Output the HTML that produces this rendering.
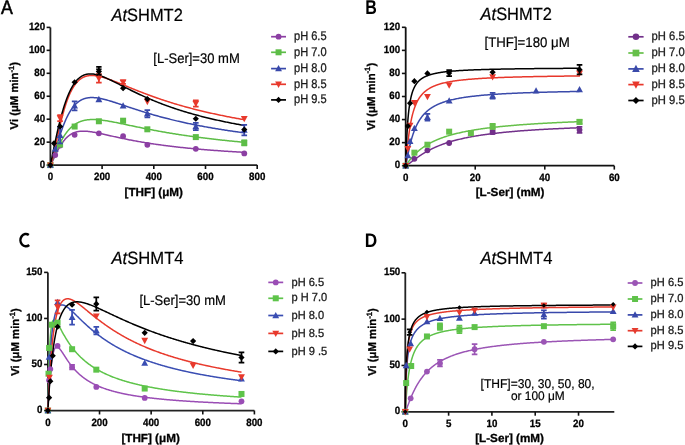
<!DOCTYPE html>
<html><head><meta charset="utf-8"><style>
html,body{margin:0;padding:0;background:#fff;overflow:hidden;}
svg{display:block;will-change:transform;}
</style></head><body>
<svg width="685" height="445" viewBox="0 0 685 445" font-family='"Liberation Sans", sans-serif' fill="#000" text-rendering="geometricPrecision">
<rect width="685" height="445" fill="#fff"/>
<text transform="translate(0.9,13.7) scale(0.91,1)" font-size="19.5" stroke="#000" stroke-width="0.55">A</text>
<text transform="translate(111.50,20.50) scale(0.925,1)" font-size="17.8" stroke="#000" stroke-width="0.2"><tspan font-style="italic">At</tspan>SHMT2</text>
<text transform="translate(153.30,62.90) scale(0.93,1)" text-anchor="start" font-size="14" stroke="#000" stroke-width="0.2">[L-Ser]=30 mM</text>
<path d="M50.40,27.40 L50.40,165.10 L257.20,165.10" fill="none" stroke="#222" stroke-width="1.8"/>
<line x1="46.60" y1="165.10" x2="50.40" y2="165.10" stroke="#111" stroke-width="1.6"/>
<text transform="translate(45.20,167.70) scale(0.92,1)" text-anchor="end" font-weight="bold" font-size="10.6" stroke="#000" stroke-width="0.3">0</text>
<line x1="46.60" y1="142.15" x2="50.40" y2="142.15" stroke="#111" stroke-width="1.6"/>
<text transform="translate(45.20,144.75) scale(0.92,1)" text-anchor="end" font-weight="bold" font-size="10.6" stroke="#000" stroke-width="0.3">20</text>
<line x1="46.60" y1="119.20" x2="50.40" y2="119.20" stroke="#111" stroke-width="1.6"/>
<text transform="translate(45.20,121.80) scale(0.92,1)" text-anchor="end" font-weight="bold" font-size="10.6" stroke="#000" stroke-width="0.3">40</text>
<line x1="46.60" y1="96.25" x2="50.40" y2="96.25" stroke="#111" stroke-width="1.6"/>
<text transform="translate(45.20,98.85) scale(0.92,1)" text-anchor="end" font-weight="bold" font-size="10.6" stroke="#000" stroke-width="0.3">60</text>
<line x1="46.60" y1="73.30" x2="50.40" y2="73.30" stroke="#111" stroke-width="1.6"/>
<text transform="translate(45.20,75.90) scale(0.92,1)" text-anchor="end" font-weight="bold" font-size="10.6" stroke="#000" stroke-width="0.3">80</text>
<line x1="46.60" y1="50.35" x2="50.40" y2="50.35" stroke="#111" stroke-width="1.6"/>
<text transform="translate(45.20,52.95) scale(0.92,1)" text-anchor="end" font-weight="bold" font-size="10.6" stroke="#000" stroke-width="0.3">100</text>
<line x1="46.60" y1="27.40" x2="50.40" y2="27.40" stroke="#111" stroke-width="1.6"/>
<text transform="translate(45.20,30.00) scale(0.92,1)" text-anchor="end" font-weight="bold" font-size="10.6" stroke="#000" stroke-width="0.3">120</text>
<text transform="translate(50.40,180.20) scale(0.92,1)" text-anchor="middle" font-weight="bold" font-size="10.6" stroke="#000" stroke-width="0.3">0</text>
<line x1="102.10" y1="165.10" x2="102.10" y2="169.00" stroke="#111" stroke-width="1.6"/>
<text transform="translate(102.10,180.20) scale(0.92,1)" text-anchor="middle" font-weight="bold" font-size="10.6" stroke="#000" stroke-width="0.3">200</text>
<line x1="153.80" y1="165.10" x2="153.80" y2="169.00" stroke="#111" stroke-width="1.6"/>
<text transform="translate(153.80,180.20) scale(0.92,1)" text-anchor="middle" font-weight="bold" font-size="10.6" stroke="#000" stroke-width="0.3">400</text>
<line x1="205.50" y1="165.10" x2="205.50" y2="169.00" stroke="#111" stroke-width="1.6"/>
<text transform="translate(205.50,180.20) scale(0.92,1)" text-anchor="middle" font-weight="bold" font-size="10.6" stroke="#000" stroke-width="0.3">600</text>
<line x1="257.20" y1="165.10" x2="257.20" y2="169.00" stroke="#111" stroke-width="1.6"/>
<text transform="translate(257.20,180.20) scale(0.92,1)" text-anchor="middle" font-weight="bold" font-size="10.6" stroke="#000" stroke-width="0.3">800</text>
<path d="M50.40,165.10 L50.50,164.99 L50.60,164.85 L50.70,164.70 L50.80,164.54 L50.90,164.38 L51.00,164.21 L51.10,164.03 L51.20,163.85 L51.29,163.67 L51.39,163.48 L51.49,163.30 L51.59,163.10 L51.69,162.91 L51.79,162.72 L51.89,162.52 L51.99,162.32 L52.09,162.12 L52.19,161.92 L52.29,161.72 L52.39,161.52 L52.49,161.31 L52.59,161.11 L52.69,160.90 L52.79,160.70 L52.89,160.49 L52.98,160.28 L53.08,160.07 L53.18,159.87 L53.28,159.66 L53.38,159.45 L53.48,159.24 L53.58,159.03 L53.68,158.82 L53.78,158.61 L53.88,158.40 L53.98,158.19 L54.08,157.98 L54.18,157.77 L54.28,157.56 L54.51,157.07 L54.75,156.58 L54.98,156.09 L55.21,155.60 L55.45,155.11 L55.68,154.63 L55.92,154.15 L56.15,153.67 L56.39,153.20 L56.62,152.73 L56.85,152.27 L57.09,151.80 L57.32,151.35 L57.56,150.90 L57.79,150.45 L58.02,150.00 L58.26,149.57 L58.49,149.13 L58.73,148.71 L58.96,148.28 L59.20,147.87 L59.43,147.46 L59.66,147.05 L59.90,146.65 L60.13,146.26 L60.37,145.87 L60.60,145.48 L60.84,145.11 L61.07,144.74 L61.30,144.37 L61.54,144.01 L61.77,143.66 L62.01,143.31 L62.24,142.97 L62.47,142.64 L62.71,142.31 L62.94,141.98 L63.18,141.67 L63.41,141.35 L63.65,141.05 L63.88,140.75 L64.11,140.45 L64.35,140.17 L64.58,139.88 L64.82,139.61 L65.05,139.34 L65.29,139.07 L65.52,138.81 L65.75,138.56 L65.99,138.31 L66.22,138.07 L66.46,137.83 L66.69,137.60 L66.92,137.37 L67.16,137.15 L67.39,136.93 L67.63,136.72 L67.86,136.52 L68.10,136.32 L68.33,136.12 L68.56,135.93 L68.80,135.74 L69.03,135.56 L69.27,135.39 L69.50,135.21 L69.74,135.05 L69.97,134.88 L70.20,134.72 L70.44,134.57 L70.67,134.42 L70.91,134.28 L71.14,134.13 L71.37,134.00 L71.61,133.86 L71.84,133.74 L72.08,133.61 L72.31,133.49 L72.55,133.37 L72.78,133.26 L73.01,133.15 L73.25,133.04 L73.48,132.94 L73.72,132.84 L73.95,132.75 L74.19,132.65 L74.42,132.57 L74.65,132.48 L74.89,132.40 L75.12,132.32 L75.36,132.24 L75.59,132.17 L75.82,132.10 L76.06,132.03 L76.29,131.97 L76.53,131.91 L76.76,131.85 L77.00,131.79 L77.23,131.74 L77.46,131.69 L77.70,131.64 L77.93,131.59 L78.17,131.55 L78.40,131.51 L78.64,131.47 L78.87,131.43 L79.10,131.40 L79.34,131.37 L79.57,131.34 L79.81,131.31 L80.04,131.29 L80.27,131.26 L80.51,131.24 L80.74,131.22 L80.98,131.20 L81.21,131.19 L81.45,131.18 L81.68,131.16 L81.91,131.15 L82.15,131.14 L82.38,131.14 L82.62,131.13 L82.85,131.13 L83.09,131.13 L83.32,131.13 L83.55,131.13 L83.79,131.13 L84.02,131.13 L84.26,131.14 L84.49,131.15 L84.72,131.15 L84.96,131.16 L85.19,131.17 L85.43,131.19 L85.66,131.20 L85.90,131.21 L86.13,131.23 L86.36,131.25 L86.60,131.26 L86.83,131.28 L87.07,131.30 L87.30,131.32 L87.54,131.34 L87.77,131.37 L88.00,131.39 L88.24,131.42 L88.47,131.44 L88.71,131.47 L88.94,131.49 L89.17,131.52 L90.22,131.66 L91.26,131.81 L92.30,131.97 L93.34,132.14 L94.38,132.33 L95.42,132.52 L96.46,132.72 L97.50,132.93 L98.54,133.14 L99.58,133.36 L100.63,133.58 L101.67,133.81 L102.71,134.03 L103.75,134.27 L104.79,134.50 L105.83,134.73 L106.87,134.97 L107.91,135.20 L108.95,135.44 L109.99,135.67 L111.03,135.91 L112.08,136.14 L113.12,136.38 L114.16,136.61 L115.20,136.84 L116.24,137.07 L117.28,137.30 L118.32,137.52 L119.36,137.75 L120.40,137.97 L121.44,138.19 L122.49,138.41 L123.53,138.63 L124.57,138.84 L125.61,139.06 L126.65,139.27 L127.69,139.48 L128.73,139.68 L129.77,139.89 L130.81,140.09 L131.85,140.29 L132.89,140.49 L133.94,140.68 L134.98,140.87 L136.02,141.06 L137.06,141.25 L138.10,141.44 L139.14,141.62 L140.18,141.80 L141.22,141.98 L142.26,142.16 L143.30,142.33 L144.34,142.51 L145.39,142.68 L146.43,142.85 L147.47,143.01 L148.51,143.18 L149.55,143.34 L150.59,143.50 L151.63,143.66 L152.67,143.81 L153.71,143.97 L154.75,144.12 L155.80,144.27 L156.84,144.42 L157.88,144.57 L158.92,144.71 L159.96,144.85 L161.00,145.00 L162.04,145.13 L163.08,145.27 L164.12,145.41 L165.16,145.54 L166.20,145.68 L167.25,145.81 L168.29,145.94 L169.33,146.07 L170.37,146.19 L171.41,146.32 L172.45,146.44 L173.49,146.56 L174.53,146.68 L175.57,146.80 L176.61,146.92 L177.65,147.04 L178.70,147.15 L179.74,147.27 L180.78,147.38 L181.82,147.49 L182.86,147.60 L183.90,147.71 L184.94,147.81 L185.98,147.92 L187.02,148.03 L188.06,148.13 L189.11,148.23 L190.15,148.33 L191.19,148.43 L192.23,148.53 L193.27,148.63 L194.31,148.73 L195.35,148.82 L196.39,148.92 L197.43,149.01 L198.47,149.10 L199.51,149.20 L200.56,149.29 L201.60,149.38 L202.64,149.46 L203.68,149.55 L204.72,149.64 L205.76,149.72 L206.80,149.81 L207.84,149.89 L208.88,149.98 L209.92,150.06 L210.96,150.14 L212.01,150.22 L213.05,150.30 L214.09,150.38 L215.13,150.46 L216.17,150.54 L217.21,150.61 L218.25,150.69 L219.29,150.76 L220.33,150.84 L221.37,150.91 L222.42,150.99 L223.46,151.06 L224.50,151.13 L225.54,151.20 L226.58,151.27 L227.62,151.34 L228.66,151.41 L229.70,151.48 L230.74,151.54 L231.78,151.61 L232.82,151.68 L233.87,151.74 L234.91,151.81 L235.95,151.87 L236.99,151.93 L238.03,152.00 L239.07,152.06 L240.11,152.12 L241.15,152.18 L242.19,152.24 L243.23,152.30 L244.28,152.36" fill="none" stroke="#8C3FA3" stroke-width="1.5" stroke-linejoin="round"/>
<path d="M50.40,165.10 L50.50,164.94 L50.60,164.76 L50.70,164.56 L50.80,164.35 L50.90,164.14 L51.00,163.92 L51.10,163.70 L51.20,163.48 L51.29,163.25 L51.39,163.02 L51.49,162.79 L51.59,162.55 L51.69,162.32 L51.79,162.08 L51.89,161.84 L51.99,161.60 L52.09,161.36 L52.19,161.12 L52.29,160.88 L52.39,160.64 L52.49,160.40 L52.59,160.15 L52.69,159.91 L52.79,159.66 L52.89,159.42 L52.98,159.18 L53.08,158.93 L53.18,158.69 L53.28,158.44 L53.38,158.20 L53.48,157.95 L53.58,157.71 L53.68,157.46 L53.78,157.22 L53.88,156.98 L53.98,156.73 L54.08,156.49 L54.18,156.25 L54.28,156.00 L54.51,155.43 L54.75,154.87 L54.98,154.30 L55.21,153.74 L55.45,153.18 L55.68,152.63 L55.92,152.08 L56.15,151.53 L56.39,150.99 L56.62,150.45 L56.85,149.92 L57.09,149.39 L57.32,148.86 L57.56,148.34 L57.79,147.83 L58.02,147.32 L58.26,146.82 L58.49,146.32 L58.73,145.82 L58.96,145.33 L59.20,144.85 L59.43,144.37 L59.66,143.90 L59.90,143.43 L60.13,142.97 L60.37,142.52 L60.60,142.07 L60.84,141.62 L61.07,141.18 L61.30,140.75 L61.54,140.32 L61.77,139.90 L62.01,139.49 L62.24,139.07 L62.47,138.67 L62.71,138.27 L62.94,137.88 L63.18,137.49 L63.41,137.10 L63.65,136.73 L63.88,136.36 L64.11,135.99 L64.35,135.63 L64.58,135.27 L64.82,134.92 L65.05,134.58 L65.29,134.24 L65.52,133.90 L65.75,133.58 L65.99,133.25 L66.22,132.93 L66.46,132.62 L66.69,132.31 L66.92,132.01 L67.16,131.71 L67.39,131.42 L67.63,131.13 L67.86,130.84 L68.10,130.57 L68.33,130.29 L68.56,130.02 L68.80,129.76 L69.03,129.50 L69.27,129.24 L69.50,128.99 L69.74,128.75 L69.97,128.51 L70.20,128.27 L70.44,128.04 L70.67,127.81 L70.91,127.58 L71.14,127.36 L71.37,127.15 L71.61,126.94 L71.84,126.73 L72.08,126.52 L72.31,126.33 L72.55,126.13 L72.78,125.94 L73.01,125.75 L73.25,125.57 L73.48,125.39 L73.72,125.21 L73.95,125.04 L74.19,124.87 L74.42,124.70 L74.65,124.54 L74.89,124.38 L75.12,124.22 L75.36,124.07 L75.59,123.92 L75.82,123.78 L76.06,123.64 L76.29,123.50 L76.53,123.36 L76.76,123.23 L77.00,123.10 L77.23,122.97 L77.46,122.85 L77.70,122.73 L77.93,122.61 L78.17,122.50 L78.40,122.38 L78.64,122.27 L78.87,122.17 L79.10,122.06 L79.34,121.96 L79.57,121.86 L79.81,121.77 L80.04,121.67 L80.27,121.58 L80.51,121.50 L80.74,121.41 L80.98,121.33 L81.21,121.24 L81.45,121.17 L81.68,121.09 L81.91,121.01 L82.15,120.94 L82.38,120.87 L82.62,120.80 L82.85,120.74 L83.09,120.68 L83.32,120.61 L83.55,120.55 L83.79,120.50 L84.02,120.44 L84.26,120.39 L84.49,120.34 L84.72,120.29 L84.96,120.24 L85.19,120.19 L85.43,120.15 L85.66,120.11 L85.90,120.06 L86.13,120.03 L86.36,119.99 L86.60,119.95 L86.83,119.92 L87.07,119.88 L87.30,119.85 L87.54,119.82 L87.77,119.80 L88.00,119.77 L88.24,119.74 L88.47,119.72 L88.71,119.70 L88.94,119.68 L89.17,119.66 L90.22,119.59 L91.26,119.54 L92.30,119.52 L93.34,119.52 L94.38,119.54 L95.42,119.58 L96.46,119.63 L97.50,119.70 L98.54,119.79 L99.58,119.88 L100.63,119.99 L101.67,120.12 L102.71,120.25 L103.75,120.39 L104.79,120.54 L105.83,120.70 L106.87,120.86 L107.91,121.03 L108.95,121.21 L109.99,121.39 L111.03,121.58 L112.08,121.78 L113.12,121.97 L114.16,122.17 L115.20,122.38 L116.24,122.58 L117.28,122.79 L118.32,123.00 L119.36,123.22 L120.40,123.43 L121.44,123.65 L122.49,123.86 L123.53,124.08 L124.57,124.30 L125.61,124.52 L126.65,124.74 L127.69,124.96 L128.73,125.18 L129.77,125.40 L130.81,125.62 L131.85,125.84 L132.89,126.05 L133.94,126.27 L134.98,126.49 L136.02,126.71 L137.06,126.92 L138.10,127.14 L139.14,127.35 L140.18,127.56 L141.22,127.78 L142.26,127.99 L143.30,128.20 L144.34,128.40 L145.39,128.61 L146.43,128.82 L147.47,129.02 L148.51,129.23 L149.55,129.43 L150.59,129.63 L151.63,129.83 L152.67,130.02 L153.71,130.22 L154.75,130.42 L155.80,130.61 L156.84,130.80 L157.88,130.99 L158.92,131.18 L159.96,131.37 L161.00,131.55 L162.04,131.74 L163.08,131.92 L164.12,132.10 L165.16,132.28 L166.20,132.46 L167.25,132.64 L168.29,132.81 L169.33,132.99 L170.37,133.16 L171.41,133.33 L172.45,133.50 L173.49,133.67 L174.53,133.84 L175.57,134.00 L176.61,134.17 L177.65,134.33 L178.70,134.49 L179.74,134.65 L180.78,134.81 L181.82,134.96 L182.86,135.12 L183.90,135.27 L184.94,135.43 L185.98,135.58 L187.02,135.73 L188.06,135.88 L189.11,136.03 L190.15,136.17 L191.19,136.32 L192.23,136.46 L193.27,136.60 L194.31,136.75 L195.35,136.89 L196.39,137.02 L197.43,137.16 L198.47,137.30 L199.51,137.43 L200.56,137.57 L201.60,137.70 L202.64,137.83 L203.68,137.96 L204.72,138.09 L205.76,138.22 L206.80,138.35 L207.84,138.48 L208.88,138.60 L209.92,138.73 L210.96,138.85 L212.01,138.97 L213.05,139.09 L214.09,139.21 L215.13,139.33 L216.17,139.45 L217.21,139.57 L218.25,139.68 L219.29,139.80 L220.33,139.91 L221.37,140.03 L222.42,140.14 L223.46,140.25 L224.50,140.36 L225.54,140.47 L226.58,140.58 L227.62,140.69 L228.66,140.79 L229.70,140.90 L230.74,141.01 L231.78,141.11 L232.82,141.21 L233.87,141.32 L234.91,141.42 L235.95,141.52 L236.99,141.62 L238.03,141.72 L239.07,141.82 L240.11,141.91 L241.15,142.01 L242.19,142.11 L243.23,142.20 L244.28,142.30" fill="none" stroke="#5DBD47" stroke-width="1.5" stroke-linejoin="round"/>
<path d="M50.40,165.10 L50.50,164.98 L50.60,164.81 L50.70,164.62 L50.80,164.42 L50.90,164.20 L51.00,163.97 L51.10,163.73 L51.20,163.48 L51.29,163.23 L51.39,162.97 L51.49,162.70 L51.59,162.43 L51.69,162.15 L51.79,161.87 L51.89,161.58 L51.99,161.29 L52.09,161.00 L52.19,160.70 L52.29,160.40 L52.39,160.09 L52.49,159.79 L52.59,159.48 L52.69,159.17 L52.79,158.85 L52.89,158.54 L52.98,158.22 L53.08,157.90 L53.18,157.58 L53.28,157.26 L53.38,156.93 L53.48,156.61 L53.58,156.28 L53.68,155.95 L53.78,155.62 L53.88,155.29 L53.98,154.96 L54.08,154.63 L54.18,154.29 L54.28,153.96 L54.51,153.17 L54.75,152.38 L54.98,151.59 L55.21,150.79 L55.45,150.00 L55.68,149.20 L55.92,148.41 L56.15,147.61 L56.39,146.82 L56.62,146.03 L56.85,145.25 L57.09,144.46 L57.32,143.68 L57.56,142.91 L57.79,142.14 L58.02,141.37 L58.26,140.61 L58.49,139.85 L58.73,139.10 L58.96,138.35 L59.20,137.61 L59.43,136.88 L59.66,136.15 L59.90,135.43 L60.13,134.71 L60.37,134.01 L60.60,133.30 L60.84,132.61 L61.07,131.92 L61.30,131.24 L61.54,130.57 L61.77,129.91 L62.01,129.25 L62.24,128.60 L62.47,127.96 L62.71,127.32 L62.94,126.70 L63.18,126.08 L63.41,125.47 L63.65,124.87 L63.88,124.27 L64.11,123.69 L64.35,123.11 L64.58,122.54 L64.82,121.98 L65.05,121.43 L65.29,120.88 L65.52,120.34 L65.75,119.81 L65.99,119.29 L66.22,118.78 L66.46,118.27 L66.69,117.77 L66.92,117.28 L67.16,116.80 L67.39,116.33 L67.63,115.86 L67.86,115.40 L68.10,114.95 L68.33,114.51 L68.56,114.07 L68.80,113.65 L69.03,113.23 L69.27,112.81 L69.50,112.41 L69.74,112.01 L69.97,111.62 L70.20,111.23 L70.44,110.86 L70.67,110.49 L70.91,110.12 L71.14,109.77 L71.37,109.42 L71.61,109.08 L71.84,108.74 L72.08,108.41 L72.31,108.09 L72.55,107.78 L72.78,107.47 L73.01,107.16 L73.25,106.87 L73.48,106.58 L73.72,106.29 L73.95,106.01 L74.19,105.74 L74.42,105.48 L74.65,105.21 L74.89,104.96 L75.12,104.71 L75.36,104.47 L75.59,104.23 L75.82,104.00 L76.06,103.77 L76.29,103.55 L76.53,103.33 L76.76,103.12 L77.00,102.92 L77.23,102.71 L77.46,102.52 L77.70,102.33 L77.93,102.14 L78.17,101.96 L78.40,101.78 L78.64,101.61 L78.87,101.44 L79.10,101.28 L79.34,101.12 L79.57,100.97 L79.81,100.82 L80.04,100.67 L80.27,100.53 L80.51,100.39 L80.74,100.26 L80.98,100.13 L81.21,100.00 L81.45,99.88 L81.68,99.77 L81.91,99.65 L82.15,99.54 L82.38,99.43 L82.62,99.33 L82.85,99.23 L83.09,99.14 L83.32,99.04 L83.55,98.95 L83.79,98.87 L84.02,98.78 L84.26,98.70 L84.49,98.63 L84.72,98.55 L84.96,98.48 L85.19,98.42 L85.43,98.35 L85.66,98.29 L85.90,98.23 L86.13,98.17 L86.36,98.12 L86.60,98.07 L86.83,98.02 L87.07,97.98 L87.30,97.93 L87.54,97.89 L87.77,97.86 L88.00,97.82 L88.24,97.79 L88.47,97.76 L88.71,97.73 L88.94,97.70 L89.17,97.68 L90.22,97.60 L91.26,97.56 L92.30,97.55 L93.34,97.58 L94.38,97.65 L95.42,97.74 L96.46,97.85 L97.50,97.99 L98.54,98.16 L99.58,98.34 L100.63,98.54 L101.67,98.76 L102.71,98.99 L103.75,99.24 L104.79,99.50 L105.83,99.77 L106.87,100.06 L107.91,100.35 L108.95,100.65 L109.99,100.96 L111.03,101.27 L112.08,101.59 L113.12,101.92 L114.16,102.25 L115.20,102.58 L116.24,102.92 L117.28,103.26 L118.32,103.61 L119.36,103.95 L120.40,104.30 L121.44,104.65 L122.49,104.99 L123.53,105.34 L124.57,105.69 L125.61,106.04 L126.65,106.39 L127.69,106.74 L128.73,107.09 L129.77,107.44 L130.81,107.78 L131.85,108.13 L132.89,108.47 L133.94,108.81 L134.98,109.15 L136.02,109.49 L137.06,109.83 L138.10,110.16 L139.14,110.50 L140.18,110.83 L141.22,111.16 L142.26,111.48 L143.30,111.81 L144.34,112.13 L145.39,112.45 L146.43,112.76 L147.47,113.08 L148.51,113.39 L149.55,113.70 L150.59,114.01 L151.63,114.31 L152.67,114.61 L153.71,114.91 L154.75,115.21 L155.80,115.50 L156.84,115.80 L157.88,116.08 L158.92,116.37 L159.96,116.66 L161.00,116.94 L162.04,117.22 L163.08,117.49 L164.12,117.77 L165.16,118.04 L166.20,118.31 L167.25,118.57 L168.29,118.84 L169.33,119.10 L170.37,119.36 L171.41,119.62 L172.45,119.87 L173.49,120.12 L174.53,120.37 L175.57,120.62 L176.61,120.86 L177.65,121.11 L178.70,121.35 L179.74,121.59 L180.78,121.82 L181.82,122.06 L182.86,122.29 L183.90,122.52 L184.94,122.74 L185.98,122.97 L187.02,123.19 L188.06,123.41 L189.11,123.63 L190.15,123.85 L191.19,124.06 L192.23,124.28 L193.27,124.49 L194.31,124.70 L195.35,124.90 L196.39,125.11 L197.43,125.31 L198.47,125.51 L199.51,125.71 L200.56,125.91 L201.60,126.11 L202.64,126.30 L203.68,126.49 L204.72,126.69 L205.76,126.87 L206.80,127.06 L207.84,127.25 L208.88,127.43 L209.92,127.61 L210.96,127.79 L212.01,127.97 L213.05,128.15 L214.09,128.33 L215.13,128.50 L216.17,128.67 L217.21,128.85 L218.25,129.02 L219.29,129.18 L220.33,129.35 L221.37,129.52 L222.42,129.68 L223.46,129.84 L224.50,130.00 L225.54,130.16 L226.58,130.32 L227.62,130.48 L228.66,130.64 L229.70,130.79 L230.74,130.94 L231.78,131.10 L232.82,131.25 L233.87,131.40 L234.91,131.54 L235.95,131.69 L236.99,131.84 L238.03,131.98 L239.07,132.12 L240.11,132.27 L241.15,132.41 L242.19,132.55 L243.23,132.69 L244.28,132.82" fill="none" stroke="#3848AA" stroke-width="1.5" stroke-linejoin="round"/>
<path d="M50.40,165.10 L50.50,165.01 L50.60,164.86 L50.70,164.68 L50.80,164.48 L50.90,164.25 L51.00,164.01 L51.10,163.75 L51.20,163.48 L51.29,163.20 L51.39,162.90 L51.49,162.60 L51.59,162.28 L51.69,161.96 L51.79,161.62 L51.89,161.28 L51.99,160.93 L52.09,160.58 L52.19,160.21 L52.29,159.84 L52.39,159.47 L52.49,159.09 L52.59,158.70 L52.69,158.31 L52.79,157.91 L52.89,157.51 L52.98,157.11 L53.08,156.70 L53.18,156.29 L53.28,155.87 L53.38,155.45 L53.48,155.03 L53.58,154.60 L53.68,154.17 L53.78,153.74 L53.88,153.30 L53.98,152.87 L54.08,152.43 L54.18,151.98 L54.28,151.54 L54.51,150.49 L54.75,149.43 L54.98,148.36 L55.21,147.28 L55.45,146.20 L55.68,145.12 L55.92,144.03 L56.15,142.95 L56.39,141.86 L56.62,140.77 L56.85,139.69 L57.09,138.61 L57.32,137.53 L57.56,136.46 L57.79,135.39 L58.02,134.32 L58.26,133.26 L58.49,132.21 L58.73,131.17 L58.96,130.13 L59.20,129.10 L59.43,128.08 L59.66,127.07 L59.90,126.06 L60.13,125.07 L60.37,124.08 L60.60,123.11 L60.84,122.15 L61.07,121.19 L61.30,120.25 L61.54,119.32 L61.77,118.40 L62.01,117.49 L62.24,116.59 L62.47,115.70 L62.71,114.83 L62.94,113.97 L63.18,113.11 L63.41,112.27 L63.65,111.45 L63.88,110.63 L64.11,109.83 L64.35,109.03 L64.58,108.25 L64.82,107.49 L65.05,106.73 L65.29,105.99 L65.52,105.25 L65.75,104.53 L65.99,103.83 L66.22,103.13 L66.46,102.44 L66.69,101.77 L66.92,101.11 L67.16,100.46 L67.39,99.82 L67.63,99.19 L67.86,98.58 L68.10,97.97 L68.33,97.38 L68.56,96.79 L68.80,96.22 L69.03,95.66 L69.27,95.11 L69.50,94.57 L69.74,94.04 L69.97,93.52 L70.20,93.01 L70.44,92.51 L70.67,92.02 L70.91,91.55 L71.14,91.08 L71.37,90.62 L71.61,90.17 L71.84,89.73 L72.08,89.30 L72.31,88.87 L72.55,88.46 L72.78,88.06 L73.01,87.66 L73.25,87.27 L73.48,86.90 L73.72,86.53 L73.95,86.17 L74.19,85.81 L74.42,85.47 L74.65,85.13 L74.89,84.80 L75.12,84.48 L75.36,84.17 L75.59,83.86 L75.82,83.56 L76.06,83.27 L76.29,82.99 L76.53,82.71 L76.76,82.44 L77.00,82.18 L77.23,81.92 L77.46,81.67 L77.70,81.43 L77.93,81.19 L78.17,80.96 L78.40,80.73 L78.64,80.52 L78.87,80.30 L79.10,80.10 L79.34,79.90 L79.57,79.70 L79.81,79.51 L80.04,79.33 L80.27,79.15 L80.51,78.98 L80.74,78.81 L80.98,78.65 L81.21,78.49 L81.45,78.34 L81.68,78.19 L81.91,78.05 L82.15,77.91 L82.38,77.78 L82.62,77.65 L82.85,77.52 L83.09,77.40 L83.32,77.29 L83.55,77.18 L83.79,77.07 L84.02,76.97 L84.26,76.87 L84.49,76.77 L84.72,76.68 L84.96,76.60 L85.19,76.51 L85.43,76.43 L85.66,76.36 L85.90,76.29 L86.13,76.22 L86.36,76.15 L86.60,76.09 L86.83,76.03 L87.07,75.98 L87.30,75.92 L87.54,75.87 L87.77,75.83 L88.00,75.79 L88.24,75.75 L88.47,75.71 L88.71,75.67 L88.94,75.64 L89.17,75.61 L90.22,75.52 L91.26,75.47 L92.30,75.47 L93.34,75.51 L94.38,75.59 L95.42,75.71 L96.46,75.85 L97.50,76.03 L98.54,76.23 L99.58,76.45 L100.63,76.70 L101.67,76.97 L102.71,77.26 L103.75,77.56 L104.79,77.88 L105.83,78.22 L106.87,78.56 L107.91,78.92 L108.95,79.29 L109.99,79.66 L111.03,80.05 L112.08,80.44 L113.12,80.84 L114.16,81.24 L115.20,81.65 L116.24,82.06 L117.28,82.48 L118.32,82.90 L119.36,83.32 L120.40,83.74 L121.44,84.17 L122.49,84.59 L123.53,85.02 L124.57,85.45 L125.61,85.88 L126.65,86.30 L127.69,86.73 L128.73,87.16 L129.77,87.58 L130.81,88.01 L131.85,88.43 L132.89,88.85 L133.94,89.27 L134.98,89.69 L136.02,90.11 L137.06,90.52 L138.10,90.94 L139.14,91.35 L140.18,91.76 L141.22,92.16 L142.26,92.56 L143.30,92.96 L144.34,93.36 L145.39,93.76 L146.43,94.15 L147.47,94.54 L148.51,94.93 L149.55,95.31 L150.59,95.69 L151.63,96.07 L152.67,96.45 L153.71,96.82 L154.75,97.19 L155.80,97.56 L156.84,97.92 L157.88,98.28 L158.92,98.64 L159.96,98.99 L161.00,99.35 L162.04,99.70 L163.08,100.04 L164.12,100.39 L165.16,100.73 L166.20,101.07 L167.25,101.40 L168.29,101.73 L169.33,102.06 L170.37,102.39 L171.41,102.71 L172.45,103.03 L173.49,103.35 L174.53,103.67 L175.57,103.98 L176.61,104.29 L177.65,104.60 L178.70,104.90 L179.74,105.20 L180.78,105.50 L181.82,105.80 L182.86,106.10 L183.90,106.39 L184.94,106.68 L185.98,106.96 L187.02,107.25 L188.06,107.53 L189.11,107.81 L190.15,108.09 L191.19,108.36 L192.23,108.63 L193.27,108.90 L194.31,109.17 L195.35,109.44 L196.39,109.70 L197.43,109.96 L198.47,110.22 L199.51,110.47 L200.56,110.73 L201.60,110.98 L202.64,111.23 L203.68,111.48 L204.72,111.72 L205.76,111.97 L206.80,112.21 L207.84,112.45 L208.88,112.69 L209.92,112.92 L210.96,113.16 L212.01,113.39 L213.05,113.62 L214.09,113.85 L215.13,114.07 L216.17,114.30 L217.21,114.52 L218.25,114.74 L219.29,114.96 L220.33,115.17 L221.37,115.39 L222.42,115.60 L223.46,115.81 L224.50,116.02 L225.54,116.23 L226.58,116.44 L227.62,116.64 L228.66,116.85 L229.70,117.05 L230.74,117.25 L231.78,117.45 L232.82,117.65 L233.87,117.84 L234.91,118.04 L235.95,118.23 L236.99,118.42 L238.03,118.61 L239.07,118.80 L240.11,118.98 L241.15,119.17 L242.19,119.35 L243.23,119.53 L244.28,119.72" fill="none" stroke="#E8392C" stroke-width="1.5" stroke-linejoin="round"/>
<path d="M50.40,165.10 L50.50,164.65 L50.60,164.18 L50.70,163.70 L50.80,163.22 L50.90,162.73 L51.00,162.24 L51.10,161.75 L51.20,161.26 L51.29,160.76 L51.39,160.27 L51.49,159.77 L51.59,159.28 L51.69,158.78 L51.79,158.28 L51.89,157.79 L51.99,157.29 L52.09,156.80 L52.19,156.30 L52.29,155.80 L52.39,155.31 L52.49,154.82 L52.59,154.32 L52.69,153.83 L52.79,153.33 L52.89,152.84 L52.98,152.35 L53.08,151.86 L53.18,151.37 L53.28,150.88 L53.38,150.39 L53.48,149.90 L53.58,149.41 L53.68,148.93 L53.78,148.44 L53.88,147.96 L53.98,147.48 L54.08,146.99 L54.18,146.51 L54.28,146.03 L54.51,144.91 L54.75,143.79 L54.98,142.67 L55.21,141.57 L55.45,140.47 L55.68,139.38 L55.92,138.29 L56.15,137.22 L56.39,136.15 L56.62,135.09 L56.85,134.04 L57.09,133.00 L57.32,131.96 L57.56,130.94 L57.79,129.93 L58.02,128.92 L58.26,127.92 L58.49,126.94 L58.73,125.96 L58.96,124.99 L59.20,124.03 L59.43,123.09 L59.66,122.15 L59.90,121.22 L60.13,120.30 L60.37,119.40 L60.60,118.50 L60.84,117.61 L61.07,116.74 L61.30,115.87 L61.54,115.01 L61.77,114.17 L62.01,113.33 L62.24,112.51 L62.47,111.69 L62.71,110.89 L62.94,110.10 L63.18,109.31 L63.41,108.54 L63.65,107.78 L63.88,107.03 L64.11,106.29 L64.35,105.56 L64.58,104.84 L64.82,104.13 L65.05,103.43 L65.29,102.74 L65.52,102.06 L65.75,101.39 L65.99,100.73 L66.22,100.08 L66.46,99.45 L66.69,98.82 L66.92,98.20 L67.16,97.59 L67.39,96.99 L67.63,96.41 L67.86,95.83 L68.10,95.26 L68.33,94.70 L68.56,94.15 L68.80,93.61 L69.03,93.08 L69.27,92.56 L69.50,92.04 L69.74,91.54 L69.97,91.05 L70.20,90.56 L70.44,90.09 L70.67,89.62 L70.91,89.16 L71.14,88.71 L71.37,88.27 L71.61,87.84 L71.84,87.42 L72.08,87.01 L72.31,86.60 L72.55,86.20 L72.78,85.81 L73.01,85.43 L73.25,85.06 L73.48,84.69 L73.72,84.33 L73.95,83.98 L74.19,83.64 L74.42,83.30 L74.65,82.98 L74.89,82.66 L75.12,82.34 L75.36,82.04 L75.59,81.74 L75.82,81.45 L76.06,81.16 L76.29,80.89 L76.53,80.62 L76.76,80.35 L77.00,80.09 L77.23,79.84 L77.46,79.60 L77.70,79.36 L77.93,79.13 L78.17,78.90 L78.40,78.69 L78.64,78.47 L78.87,78.27 L79.10,78.06 L79.34,77.87 L79.57,77.68 L79.81,77.49 L80.04,77.32 L80.27,77.14 L80.51,76.98 L80.74,76.81 L80.98,76.66 L81.21,76.50 L81.45,76.36 L81.68,76.22 L81.91,76.08 L82.15,75.95 L82.38,75.82 L82.62,75.70 L82.85,75.58 L83.09,75.47 L83.32,75.36 L83.55,75.26 L83.79,75.16 L84.02,75.06 L84.26,74.97 L84.49,74.88 L84.72,74.80 L84.96,74.72 L85.19,74.65 L85.43,74.58 L85.66,74.51 L85.90,74.45 L86.13,74.39 L86.36,74.33 L86.60,74.28 L86.83,74.23 L87.07,74.19 L87.30,74.14 L87.54,74.11 L87.77,74.07 L88.00,74.04 L88.24,74.01 L88.47,73.99 L88.71,73.96 L88.94,73.95 L89.17,73.93 L90.22,73.89 L91.26,73.91 L92.30,73.98 L93.34,74.09 L94.38,74.25 L95.42,74.45 L96.46,74.68 L97.50,74.94 L98.54,75.23 L99.58,75.55 L100.63,75.90 L101.67,76.27 L102.71,76.66 L103.75,77.07 L104.79,77.49 L105.83,77.93 L106.87,78.38 L107.91,78.85 L108.95,79.32 L109.99,79.81 L111.03,80.30 L112.08,80.80 L113.12,81.31 L114.16,81.82 L115.20,82.34 L116.24,82.86 L117.28,83.38 L118.32,83.91 L119.36,84.43 L120.40,84.96 L121.44,85.49 L122.49,86.02 L123.53,86.55 L124.57,87.08 L125.61,87.60 L126.65,88.13 L127.69,88.65 L128.73,89.17 L129.77,89.69 L130.81,90.21 L131.85,90.72 L132.89,91.23 L133.94,91.74 L134.98,92.24 L136.02,92.74 L137.06,93.24 L138.10,93.73 L139.14,94.22 L140.18,94.71 L141.22,95.19 L142.26,95.67 L143.30,96.14 L144.34,96.61 L145.39,97.08 L146.43,97.54 L147.47,98.00 L148.51,98.45 L149.55,98.90 L150.59,99.34 L151.63,99.78 L152.67,100.22 L153.71,100.65 L154.75,101.08 L155.80,101.50 L156.84,101.92 L157.88,102.34 L158.92,102.75 L159.96,103.16 L161.00,103.56 L162.04,103.96 L163.08,104.35 L164.12,104.74 L165.16,105.13 L166.20,105.51 L167.25,105.89 L168.29,106.26 L169.33,106.63 L170.37,107.00 L171.41,107.36 L172.45,107.72 L173.49,108.08 L174.53,108.43 L175.57,108.78 L176.61,109.12 L177.65,109.46 L178.70,109.80 L179.74,110.13 L180.78,110.46 L181.82,110.79 L182.86,111.11 L183.90,111.43 L184.94,111.75 L185.98,112.06 L187.02,112.37 L188.06,112.68 L189.11,112.99 L190.15,113.29 L191.19,113.58 L192.23,113.88 L193.27,114.17 L194.31,114.46 L195.35,114.75 L196.39,115.03 L197.43,115.31 L198.47,115.59 L199.51,115.86 L200.56,116.13 L201.60,116.40 L202.64,116.67 L203.68,116.93 L204.72,117.19 L205.76,117.45 L206.80,117.71 L207.84,117.96 L208.88,118.21 L209.92,118.46 L210.96,118.71 L212.01,118.95 L213.05,119.19 L214.09,119.43 L215.13,119.67 L216.17,119.90 L217.21,120.14 L218.25,120.37 L219.29,120.59 L220.33,120.82 L221.37,121.04 L222.42,121.27 L223.46,121.48 L224.50,121.70 L225.54,121.92 L226.58,122.13 L227.62,122.34 L228.66,122.55 L229.70,122.76 L230.74,122.97 L231.78,123.17 L232.82,123.37 L233.87,123.57 L234.91,123.77 L235.95,123.97 L236.99,124.16 L238.03,124.35 L239.07,124.55 L240.11,124.74 L241.15,124.92 L242.19,125.11 L243.23,125.29 L244.28,125.48" fill="none" stroke="#000000" stroke-width="1.5" stroke-linejoin="round"/>
<circle cx="50.40" cy="165.10" r="2.90" fill="#8C3FA3"/>
<circle cx="55.25" cy="155.12" r="2.90" fill="#8C3FA3"/>
<circle cx="60.09" cy="145.48" r="2.90" fill="#8C3FA3"/>
<circle cx="74.63" cy="134.81" r="2.90" fill="#8C3FA3"/>
<circle cx="98.87" cy="133.31" r="2.90" fill="#8C3FA3"/>
<circle cx="123.10" cy="136.18" r="2.90" fill="#8C3FA3"/>
<circle cx="147.34" cy="144.79" r="2.90" fill="#8C3FA3"/>
<circle cx="195.81" cy="148.81" r="2.90" fill="#8C3FA3"/>
<circle cx="244.28" cy="153.40" r="2.90" fill="#8C3FA3"/>
<rect x="47.40" y="162.10" width="6.00" height="6.00" fill="#5DBD47"/>
<rect x="57.09" y="141.56" width="6.00" height="6.00" fill="#5DBD47"/>
<rect x="71.63" y="123.54" width="6.00" height="6.00" fill="#5DBD47"/>
<rect x="95.87" y="118.27" width="6.00" height="6.00" fill="#5DBD47"/>
<rect x="120.10" y="117.69" width="6.00" height="6.00" fill="#5DBD47"/>
<rect x="144.34" y="126.30" width="6.00" height="6.00" fill="#5DBD47"/>
<rect x="192.81" y="134.10" width="6.00" height="6.00" fill="#5DBD47"/>
<path d="M244.28,140.31 L244.28,145.36 M241.47,140.31 L247.08,140.31 M241.47,145.36 L247.08,145.36" stroke="#5DBD47" stroke-width="1.75" fill="none"/>
<rect x="241.28" y="139.84" width="6.00" height="6.00" fill="#5DBD47"/>
<path d="M50.40,161.50 L53.82,167.80 L46.98,167.80Z" fill="#3848AA"/>
<path d="M55.25,145.44 L58.67,151.73 L51.83,151.73Z" fill="#3848AA"/>
<path d="M60.09,127.23 L60.09,143.30 M57.29,127.23 L62.89,127.23 M57.29,143.30 L62.89,143.30" stroke="#3848AA" stroke-width="1.75" fill="none"/>
<path d="M60.09,131.66 L63.51,137.96 L56.67,137.96Z" fill="#3848AA"/>
<path d="M74.63,101.30 L74.63,110.48 M71.83,101.30 L77.43,101.30 M71.83,110.48 L77.43,110.48" stroke="#3848AA" stroke-width="1.75" fill="none"/>
<path d="M74.63,102.29 L78.05,108.59 L71.21,108.59Z" fill="#3848AA"/>
<path d="M98.87,95.86 L102.29,102.16 L95.45,102.16Z" fill="#3848AA"/>
<path d="M123.10,102.29 L126.52,108.59 L119.68,108.59Z" fill="#3848AA"/>
<path d="M147.34,110.02 L147.34,117.36 M144.54,110.02 L150.14,110.02 M144.54,117.36 L150.14,117.36" stroke="#3848AA" stroke-width="1.75" fill="none"/>
<path d="M147.34,110.09 L150.76,116.39 L143.92,116.39Z" fill="#3848AA"/>
<path d="M195.81,122.87 L195.81,130.22 M193.01,122.87 L198.61,122.87 M193.01,130.22 L198.61,130.22" stroke="#3848AA" stroke-width="1.75" fill="none"/>
<path d="M195.81,122.94 L199.23,129.24 L192.39,129.24Z" fill="#3848AA"/>
<path d="M244.28,124.82 L244.28,135.38 M241.47,124.82 L247.08,124.82 M241.47,135.38 L247.08,135.38" stroke="#3848AA" stroke-width="1.75" fill="none"/>
<path d="M244.28,126.50 L247.69,132.80 L240.86,132.80Z" fill="#3848AA"/>
<path d="M50.40,168.70 L53.82,162.40 L46.98,162.40Z" fill="#E8392C"/>
<path d="M60.09,115.07 L60.09,121.04 M57.29,115.07 L62.89,115.07 M57.29,121.04 L62.89,121.04" stroke="#E8392C" stroke-width="1.75" fill="none"/>
<path d="M60.09,121.65 L63.51,115.35 L56.67,115.35Z" fill="#E8392C"/>
<path d="M98.87,74.22 L98.87,82.71 M96.07,74.22 L101.67,74.22 M96.07,82.71 L101.67,82.71" stroke="#E8392C" stroke-width="1.75" fill="none"/>
<path d="M98.87,82.06 L102.29,75.76 L95.45,75.76Z" fill="#E8392C"/>
<path d="M123.10,80.41 L123.10,83.86 M120.30,80.41 L125.90,80.41 M120.30,83.86 L125.90,83.86" stroke="#E8392C" stroke-width="1.75" fill="none"/>
<path d="M123.10,85.74 L126.52,79.44 L119.68,79.44Z" fill="#E8392C"/>
<path d="M147.34,105.13 L150.76,98.83 L143.92,98.83Z" fill="#E8392C"/>
<path d="M195.81,100.27 L195.81,106.69 M193.01,100.27 L198.61,100.27 M193.01,106.69 L198.61,106.69" stroke="#E8392C" stroke-width="1.75" fill="none"/>
<path d="M195.81,107.08 L199.23,100.78 L192.39,100.78Z" fill="#E8392C"/>
<path d="M244.28,122.34 L247.69,116.04 L240.86,116.04Z" fill="#E8392C"/>
<path d="M50.40,162.00 L53.50,165.10 L50.40,168.20 L47.30,165.10Z" fill="#000000"/>
<path d="M54.02,140.20 L57.12,143.30 L54.02,146.40 L50.92,143.30Z" fill="#000000"/>
<path d="M60.09,123.33 L63.19,126.43 L60.09,129.53 L56.99,126.43Z" fill="#000000"/>
<path d="M74.63,79.15 L77.73,82.25 L74.63,85.35 L71.53,82.25Z" fill="#000000"/>
<path d="M123.10,85.12 L126.20,88.22 L123.10,91.32 L120.00,88.22Z" fill="#000000"/>
<path d="M147.34,96.02 L150.44,99.12 L147.34,102.22 L144.24,99.12Z" fill="#000000"/>
<path d="M195.81,115.64 L198.91,118.74 L195.81,121.84 L192.71,118.74Z" fill="#000000"/>
<path d="M244.28,126.43 L247.38,129.53 L244.28,132.63 L241.18,129.53Z" fill="#000000"/>
<path d="M98.87,66.80 L98.87,74.60 M96.17,66.80 L101.57,66.80 M96.17,74.60 L101.57,74.60" stroke="#000" stroke-width="1.75" fill="none"/>
<path d="M96.17,69.3 L101.57,69.3" stroke="#000" stroke-width="1.8"/>
<path d="M98.87,68.50 L101.97,71.60 L98.87,74.70 L95.77,71.60Z" fill="#000"/>
<text transform="translate(18.30,95.70) rotate(-90)" text-anchor="middle" font-weight="bold" font-size="11.3" stroke="#000" stroke-width="0.3">Vi (&#956;M min<tspan dy="-4.3" font-size="7.68">-1</tspan><tspan dy="4.3">)</tspan></text>
<text x="153.80" y="196.10" text-anchor="middle" font-weight="bold" font-size="11.7" stroke="#000" stroke-width="0.3">[THF] (&#956;M)</text>
<line x1="271.10" y1="36.70" x2="286.00" y2="36.70" stroke="#8C3FA3" stroke-width="1.7"/>
<circle cx="278.55" cy="36.70" r="2.90" fill="#8C3FA3"/>
<text transform="translate(294.00,40.20) scale(0.885,1)" font-size="12.5" fill="#1a1a1a" stroke="#1a1a1a" stroke-width="0.3">pH 6.5</text>
<line x1="271.10" y1="52.30" x2="286.00" y2="52.30" stroke="#5DBD47" stroke-width="1.7"/>
<rect x="275.55" y="49.30" width="6.00" height="6.00" fill="#5DBD47"/>
<text transform="translate(294.00,55.80) scale(0.885,1)" font-size="12.5" fill="#1a1a1a" stroke="#1a1a1a" stroke-width="0.3">pH 7.0</text>
<line x1="271.10" y1="68.60" x2="286.00" y2="68.60" stroke="#3848AA" stroke-width="1.7"/>
<path d="M278.55,65.00 L281.97,71.30 L275.13,71.30Z" fill="#3848AA"/>
<text transform="translate(294.00,72.10) scale(0.885,1)" font-size="12.5" fill="#1a1a1a" stroke="#1a1a1a" stroke-width="0.3">pH 8.0</text>
<line x1="271.10" y1="84.30" x2="286.00" y2="84.30" stroke="#E8392C" stroke-width="1.7"/>
<path d="M278.55,87.90 L281.97,81.60 L275.13,81.60Z" fill="#E8392C"/>
<text transform="translate(294.00,87.80) scale(0.885,1)" font-size="12.5" fill="#1a1a1a" stroke="#1a1a1a" stroke-width="0.3">pH 8.5</text>
<line x1="271.10" y1="99.90" x2="286.00" y2="99.90" stroke="#000000" stroke-width="1.7"/>
<path d="M278.55,96.80 L281.65,99.90 L278.55,103.00 L275.45,99.90Z" fill="#000000"/>
<text transform="translate(294.00,103.40) scale(0.885,1)" font-size="12.5" fill="#1a1a1a" stroke="#1a1a1a" stroke-width="0.3">pH 9.5</text>
<text transform="translate(365.3,14.0) scale(0.8,1)" font-size="20" font-weight="bold">B</text>
<text transform="translate(480.60,19.90) scale(0.925,1)" font-size="17.8" stroke="#000" stroke-width="0.2"><tspan font-style="italic">At</tspan>SHMT2</text>
<text transform="translate(484.50,46.70) scale(0.945,1)" text-anchor="start" font-size="14" stroke="#000" stroke-width="0.2">[THF]=180 &#956;M</text>
<path d="M405.70,27.30 L405.70,165.70 L614.30,165.70" fill="none" stroke="#111" stroke-width="1.8"/>
<line x1="401.90" y1="165.70" x2="405.70" y2="165.70" stroke="#111" stroke-width="1.6"/>
<text transform="translate(400.10,168.30) scale(0.92,1)" text-anchor="end" font-weight="bold" font-size="10.6" stroke="#000" stroke-width="0.3">0</text>
<line x1="401.90" y1="142.63" x2="405.70" y2="142.63" stroke="#111" stroke-width="1.6"/>
<text transform="translate(400.10,145.23) scale(0.92,1)" text-anchor="end" font-weight="bold" font-size="10.6" stroke="#000" stroke-width="0.3">20</text>
<line x1="401.90" y1="119.57" x2="405.70" y2="119.57" stroke="#111" stroke-width="1.6"/>
<text transform="translate(400.10,122.17) scale(0.92,1)" text-anchor="end" font-weight="bold" font-size="10.6" stroke="#000" stroke-width="0.3">40</text>
<line x1="401.90" y1="96.50" x2="405.70" y2="96.50" stroke="#111" stroke-width="1.6"/>
<text transform="translate(400.10,99.10) scale(0.92,1)" text-anchor="end" font-weight="bold" font-size="10.6" stroke="#000" stroke-width="0.3">60</text>
<line x1="401.90" y1="73.43" x2="405.70" y2="73.43" stroke="#111" stroke-width="1.6"/>
<text transform="translate(400.10,76.03) scale(0.92,1)" text-anchor="end" font-weight="bold" font-size="10.6" stroke="#000" stroke-width="0.3">80</text>
<line x1="401.90" y1="50.37" x2="405.70" y2="50.37" stroke="#111" stroke-width="1.6"/>
<text transform="translate(400.10,52.97) scale(0.92,1)" text-anchor="end" font-weight="bold" font-size="10.6" stroke="#000" stroke-width="0.3">100</text>
<line x1="401.90" y1="27.30" x2="405.70" y2="27.30" stroke="#111" stroke-width="1.6"/>
<text transform="translate(400.10,29.90) scale(0.92,1)" text-anchor="end" font-weight="bold" font-size="10.6" stroke="#000" stroke-width="0.3">120</text>
<text transform="translate(405.70,180.80) scale(0.92,1)" text-anchor="middle" font-weight="bold" font-size="10.6" stroke="#000" stroke-width="0.3">0</text>
<line x1="475.23" y1="165.70" x2="475.23" y2="169.60" stroke="#111" stroke-width="1.6"/>
<text transform="translate(475.23,180.80) scale(0.92,1)" text-anchor="middle" font-weight="bold" font-size="10.6" stroke="#000" stroke-width="0.3">20</text>
<line x1="544.77" y1="165.70" x2="544.77" y2="169.60" stroke="#111" stroke-width="1.6"/>
<text transform="translate(544.77,180.80) scale(0.92,1)" text-anchor="middle" font-weight="bold" font-size="10.6" stroke="#000" stroke-width="0.3">40</text>
<line x1="614.30" y1="165.70" x2="614.30" y2="169.60" stroke="#111" stroke-width="1.6"/>
<text transform="translate(614.30,180.80) scale(0.92,1)" text-anchor="middle" font-weight="bold" font-size="10.6" stroke="#000" stroke-width="0.3">60</text>
<path d="M405.70,165.70 L405.79,165.67 L405.88,165.64 L405.97,165.60 L406.06,165.56 L406.15,165.52 L406.23,165.47 L406.32,165.42 L406.41,165.37 L406.50,165.32 L406.59,165.27 L406.68,165.22 L406.77,165.17 L406.86,165.11 L406.95,165.06 L407.04,165.00 L407.13,164.94 L407.22,164.89 L407.30,164.83 L407.39,164.77 L407.48,164.71 L407.57,164.65 L407.66,164.59 L407.75,164.53 L407.84,164.47 L407.93,164.41 L408.02,164.35 L408.11,164.28 L408.20,164.22 L408.29,164.16 L408.37,164.09 L408.46,164.03 L408.55,163.97 L408.64,163.90 L408.73,163.84 L408.82,163.77 L408.91,163.71 L409.00,163.65 L409.09,163.58 L409.18,163.51 L409.39,163.36 L409.60,163.21 L409.81,163.05 L410.02,162.89 L410.23,162.73 L410.44,162.58 L410.65,162.42 L410.86,162.26 L411.07,162.10 L411.28,161.94 L411.49,161.78 L411.70,161.63 L411.91,161.47 L412.12,161.31 L412.33,161.15 L412.54,160.99 L412.75,160.83 L412.96,160.67 L413.17,160.52 L413.38,160.36 L413.59,160.20 L413.80,160.04 L414.01,159.89 L414.22,159.73 L414.43,159.57 L414.64,159.42 L414.85,159.26 L415.06,159.11 L415.27,158.95 L415.48,158.80 L415.69,158.65 L415.90,158.49 L416.11,158.34 L416.32,158.19 L416.53,158.04 L416.74,157.89 L416.95,157.74 L417.16,157.59 L417.37,157.44 L417.58,157.29 L417.79,157.15 L418.00,157.00 L418.21,156.86 L418.42,156.71 L418.63,156.57 L418.84,156.42 L419.05,156.28 L419.26,156.14 L419.47,155.99 L419.68,155.85 L419.89,155.71 L420.10,155.57 L420.31,155.43 L420.52,155.29 L420.73,155.16 L420.94,155.02 L421.15,154.88 L421.36,154.75 L421.57,154.61 L421.78,154.48 L421.99,154.34 L422.20,154.21 L422.41,154.08 L422.62,153.95 L422.83,153.82 L423.04,153.69 L423.25,153.56 L423.46,153.43 L423.67,153.30 L423.88,153.17 L424.09,153.05 L424.30,152.92 L424.51,152.79 L424.72,152.67 L424.93,152.55 L425.14,152.42 L425.35,152.30 L425.56,152.18 L425.77,152.06 L425.98,151.94 L426.19,151.82 L426.40,151.70 L426.61,151.58 L426.82,151.46 L427.03,151.34 L427.24,151.23 L427.45,151.11 L427.66,151.00 L427.87,150.88 L428.08,150.77 L428.29,150.66 L428.50,150.54 L428.71,150.43 L428.92,150.32 L429.13,150.21 L429.34,150.10 L429.55,149.99 L429.76,149.88 L429.97,149.77 L430.18,149.67 L430.39,149.56 L430.60,149.45 L430.81,149.35 L431.02,149.24 L431.23,149.14 L431.44,149.03 L431.65,148.93 L431.86,148.83 L432.07,148.73 L432.28,148.62 L432.49,148.52 L432.70,148.42 L432.91,148.32 L433.12,148.22 L433.33,148.12 L433.54,148.03 L433.75,147.93 L433.96,147.83 L434.17,147.74 L434.38,147.64 L434.59,147.55 L434.80,147.45 L435.01,147.36 L435.22,147.26 L435.43,147.17 L435.64,147.08 L435.85,146.98 L436.06,146.89 L436.27,146.80 L436.48,146.71 L436.69,146.62 L436.90,146.53 L437.11,146.44 L437.32,146.35 L437.53,146.27 L437.74,146.18 L437.95,146.09 L438.16,146.01 L438.37,145.92 L438.58,145.83 L438.79,145.75 L439.00,145.66 L439.21,145.58 L439.42,145.50 L439.63,145.41 L439.84,145.33 L440.05,145.25 L440.26,145.17 L440.47,145.09 L441.40,144.73 L442.33,144.38 L443.27,144.04 L444.20,143.71 L445.13,143.39 L446.07,143.08 L447.00,142.77 L447.93,142.47 L448.87,142.18 L449.80,141.89 L450.73,141.61 L451.67,141.34 L452.60,141.07 L453.53,140.81 L454.47,140.55 L455.40,140.30 L456.33,140.06 L457.27,139.82 L458.20,139.59 L459.13,139.36 L460.07,139.14 L461.00,138.92 L461.93,138.70 L462.87,138.49 L463.80,138.29 L464.73,138.09 L465.67,137.89 L466.60,137.70 L467.53,137.51 L468.47,137.33 L469.40,137.14 L470.33,136.97 L471.27,136.79 L472.20,136.62 L473.13,136.45 L474.07,136.29 L475.00,136.13 L475.93,135.97 L476.87,135.82 L477.80,135.67 L478.73,135.52 L479.67,135.37 L480.60,135.23 L481.53,135.08 L482.47,134.95 L483.40,134.81 L484.33,134.68 L485.27,134.55 L486.20,134.42 L487.13,134.29 L488.07,134.17 L489.00,134.04 L489.93,133.92 L490.87,133.80 L491.80,133.69 L492.73,133.57 L493.67,133.46 L494.60,133.35 L495.53,133.24 L496.47,133.14 L497.40,133.03 L498.33,132.93 L499.27,132.83 L500.20,132.73 L501.13,132.63 L502.07,132.53 L503.00,132.43 L503.93,132.34 L504.87,132.25 L505.80,132.16 L506.73,132.07 L507.67,131.98 L508.60,131.89 L509.53,131.81 L510.47,131.72 L511.40,131.64 L512.33,131.56 L513.27,131.48 L514.20,131.40 L515.13,131.32 L516.07,131.24 L517.00,131.16 L517.93,131.09 L518.87,131.01 L519.80,130.94 L520.73,130.87 L521.67,130.80 L522.60,130.73 L523.53,130.66 L524.47,130.59 L525.40,130.52 L526.33,130.46 L527.27,130.39 L528.20,130.33 L529.13,130.26 L530.07,130.20 L531.00,130.14 L531.93,130.08 L532.87,130.02 L533.80,129.96 L534.73,129.90 L535.67,129.84 L536.60,129.78 L537.53,129.73 L538.47,129.67 L539.40,129.62 L540.33,129.56 L541.27,129.51 L542.20,129.45 L543.13,129.40 L544.07,129.35 L545.00,129.30 L545.93,129.25 L546.87,129.20 L547.80,129.15 L548.73,129.10 L549.67,129.05 L550.60,129.00 L551.53,128.96 L552.47,128.91 L553.40,128.86 L554.33,128.82 L555.27,128.77 L556.20,128.73 L557.13,128.68 L558.07,128.64 L559.00,128.60 L559.93,128.56 L560.87,128.51 L561.80,128.47 L562.73,128.43 L563.67,128.39 L564.60,128.35 L565.53,128.31 L566.47,128.27 L567.40,128.23 L568.33,128.19 L569.27,128.15 L570.20,128.12 L571.13,128.08 L572.07,128.04 L573.00,128.01 L573.93,127.97 L574.87,127.93 L575.80,127.90 L576.73,127.86 L577.67,127.83 L578.60,127.80 L579.53,127.76" fill="none" stroke="#72308A" stroke-width="1.5" stroke-linejoin="round"/>
<path d="M405.70,165.70 L405.79,165.57 L405.88,165.44 L405.97,165.31 L406.06,165.18 L406.15,165.05 L406.23,164.92 L406.32,164.79 L406.41,164.65 L406.50,164.52 L406.59,164.39 L406.68,164.26 L406.77,164.13 L406.86,164.00 L406.95,163.87 L407.04,163.74 L407.13,163.61 L407.22,163.48 L407.30,163.35 L407.39,163.23 L407.48,163.10 L407.57,162.97 L407.66,162.84 L407.75,162.72 L407.84,162.59 L407.93,162.47 L408.02,162.34 L408.11,162.22 L408.20,162.10 L408.29,161.98 L408.37,161.85 L408.46,161.73 L408.55,161.61 L408.64,161.49 L408.73,161.37 L408.82,161.25 L408.91,161.13 L409.00,161.01 L409.09,160.89 L409.18,160.78 L409.39,160.50 L409.60,160.23 L409.81,159.96 L410.02,159.69 L410.23,159.43 L410.44,159.17 L410.65,158.91 L410.86,158.65 L411.07,158.40 L411.28,158.15 L411.49,157.90 L411.70,157.65 L411.91,157.41 L412.12,157.17 L412.33,156.93 L412.54,156.70 L412.75,156.46 L412.96,156.23 L413.17,156.00 L413.38,155.78 L413.59,155.55 L413.80,155.33 L414.01,155.11 L414.22,154.89 L414.43,154.68 L414.64,154.46 L414.85,154.25 L415.06,154.04 L415.27,153.84 L415.48,153.63 L415.69,153.43 L415.90,153.23 L416.11,153.03 L416.32,152.83 L416.53,152.64 L416.74,152.44 L416.95,152.25 L417.16,152.06 L417.37,151.87 L417.58,151.69 L417.79,151.50 L418.00,151.32 L418.21,151.14 L418.42,150.96 L418.63,150.78 L418.84,150.61 L419.05,150.43 L419.26,150.26 L419.47,150.09 L419.68,149.92 L419.89,149.75 L420.10,149.58 L420.31,149.42 L420.52,149.25 L420.73,149.09 L420.94,148.93 L421.15,148.77 L421.36,148.61 L421.57,148.46 L421.78,148.30 L421.99,148.15 L422.20,147.99 L422.41,147.84 L422.62,147.69 L422.83,147.54 L423.04,147.40 L423.25,147.25 L423.46,147.10 L423.67,146.96 L423.88,146.82 L424.09,146.68 L424.30,146.54 L424.51,146.40 L424.72,146.26 L424.93,146.12 L425.14,145.99 L425.35,145.85 L425.56,145.72 L425.77,145.59 L425.98,145.45 L426.19,145.32 L426.40,145.19 L426.61,145.07 L426.82,144.94 L427.03,144.81 L427.24,144.69 L427.45,144.56 L427.66,144.44 L427.87,144.32 L428.08,144.20 L428.29,144.08 L428.50,143.96 L428.71,143.84 L428.92,143.72 L429.13,143.60 L429.34,143.49 L429.55,143.37 L429.76,143.26 L429.97,143.15 L430.18,143.03 L430.39,142.92 L430.60,142.81 L430.81,142.70 L431.02,142.59 L431.23,142.48 L431.44,142.38 L431.65,142.27 L431.86,142.16 L432.07,142.06 L432.28,141.96 L432.49,141.85 L432.70,141.75 L432.91,141.65 L433.12,141.55 L433.33,141.45 L433.54,141.35 L433.75,141.25 L433.96,141.15 L434.17,141.05 L434.38,140.95 L434.59,140.86 L434.80,140.76 L435.01,140.67 L435.22,140.57 L435.43,140.48 L435.64,140.38 L435.85,140.29 L436.06,140.20 L436.27,140.11 L436.48,140.02 L436.69,139.93 L436.90,139.84 L437.11,139.75 L437.32,139.66 L437.53,139.57 L437.74,139.49 L437.95,139.40 L438.16,139.31 L438.37,139.23 L438.58,139.14 L438.79,139.06 L439.00,138.98 L439.21,138.89 L439.42,138.81 L439.63,138.73 L439.84,138.65 L440.05,138.57 L440.26,138.49 L440.47,138.41 L441.40,138.06 L442.33,137.72 L443.27,137.39 L444.20,137.07 L445.13,136.75 L446.07,136.45 L447.00,136.15 L447.93,135.86 L448.87,135.58 L449.80,135.31 L450.73,135.04 L451.67,134.78 L452.60,134.52 L453.53,134.28 L454.47,134.03 L455.40,133.80 L456.33,133.56 L457.27,133.34 L458.20,133.12 L459.13,132.90 L460.07,132.69 L461.00,132.48 L461.93,132.28 L462.87,132.08 L463.80,131.89 L464.73,131.70 L465.67,131.51 L466.60,131.33 L467.53,131.15 L468.47,130.98 L469.40,130.81 L470.33,130.64 L471.27,130.47 L472.20,130.31 L473.13,130.15 L474.07,130.00 L475.00,129.85 L475.93,129.70 L476.87,129.55 L477.80,129.41 L478.73,129.27 L479.67,129.13 L480.60,128.99 L481.53,128.86 L482.47,128.72 L483.40,128.60 L484.33,128.47 L485.27,128.34 L486.20,128.22 L487.13,128.10 L488.07,127.98 L489.00,127.87 L489.93,127.75 L490.87,127.64 L491.80,127.53 L492.73,127.42 L493.67,127.31 L494.60,127.20 L495.53,127.10 L496.47,127.00 L497.40,126.90 L498.33,126.80 L499.27,126.70 L500.20,126.60 L501.13,126.51 L502.07,126.41 L503.00,126.32 L503.93,126.23 L504.87,126.14 L505.80,126.05 L506.73,125.97 L507.67,125.88 L508.60,125.80 L509.53,125.71 L510.47,125.63 L511.40,125.55 L512.33,125.47 L513.27,125.39 L514.20,125.32 L515.13,125.24 L516.07,125.16 L517.00,125.09 L517.93,125.02 L518.87,124.94 L519.80,124.87 L520.73,124.80 L521.67,124.73 L522.60,124.66 L523.53,124.59 L524.47,124.53 L525.40,124.46 L526.33,124.39 L527.27,124.33 L528.20,124.27 L529.13,124.20 L530.07,124.14 L531.00,124.08 L531.93,124.02 L532.87,123.96 L533.80,123.90 L534.73,123.84 L535.67,123.78 L536.60,123.73 L537.53,123.67 L538.47,123.61 L539.40,123.56 L540.33,123.50 L541.27,123.45 L542.20,123.40 L543.13,123.34 L544.07,123.29 L545.00,123.24 L545.93,123.19 L546.87,123.14 L547.80,123.09 L548.73,123.04 L549.67,122.99 L550.60,122.94 L551.53,122.89 L552.47,122.85 L553.40,122.80 L554.33,122.75 L555.27,122.71 L556.20,122.66 L557.13,122.62 L558.07,122.57 L559.00,122.53 L559.93,122.48 L560.87,122.44 L561.80,122.40 L562.73,122.36 L563.67,122.32 L564.60,122.27 L565.53,122.23 L566.47,122.19 L567.40,122.15 L568.33,122.11 L569.27,122.07 L570.20,122.03 L571.13,122.00 L572.07,121.96 L573.00,121.92 L573.93,121.88 L574.87,121.85 L575.80,121.81 L576.73,121.77 L577.67,121.74 L578.60,121.70 L579.53,121.66" fill="none" stroke="#66C04A" stroke-width="1.5" stroke-linejoin="round"/>
<path d="M405.70,165.70 L405.79,165.41 L405.88,165.04 L405.97,164.64 L406.06,164.22 L406.15,163.78 L406.23,163.33 L406.32,162.88 L406.41,162.42 L406.50,161.96 L406.59,161.49 L406.68,161.02 L406.77,160.55 L406.86,160.08 L406.95,159.61 L407.04,159.14 L407.13,158.66 L407.22,158.20 L407.30,157.73 L407.39,157.26 L407.48,156.80 L407.57,156.33 L407.66,155.87 L407.75,155.42 L407.84,154.96 L407.93,154.51 L408.02,154.06 L408.11,153.62 L408.20,153.17 L408.29,152.73 L408.37,152.30 L408.46,151.87 L408.55,151.44 L408.64,151.01 L408.73,150.59 L408.82,150.17 L408.91,149.76 L409.00,149.34 L409.09,148.94 L409.18,148.53 L409.39,147.59 L409.60,146.68 L409.81,145.78 L410.02,144.90 L410.23,144.04 L410.44,143.20 L410.65,142.38 L410.86,141.58 L411.07,140.79 L411.28,140.02 L411.49,139.27 L411.70,138.54 L411.91,137.83 L412.12,137.13 L412.33,136.44 L412.54,135.78 L412.75,135.12 L412.96,134.48 L413.17,133.86 L413.38,133.25 L413.59,132.65 L413.80,132.07 L414.01,131.50 L414.22,130.94 L414.43,130.39 L414.64,129.86 L414.85,129.33 L415.06,128.82 L415.27,128.32 L415.48,127.83 L415.69,127.35 L415.90,126.88 L416.11,126.42 L416.32,125.97 L416.53,125.52 L416.74,125.09 L416.95,124.67 L417.16,124.25 L417.37,123.84 L417.58,123.44 L417.79,123.05 L418.00,122.67 L418.21,122.29 L418.42,121.92 L418.63,121.56 L418.84,121.20 L419.05,120.85 L419.26,120.51 L419.47,120.17 L419.68,119.84 L419.89,119.52 L420.10,119.20 L420.31,118.89 L420.52,118.58 L420.73,118.28 L420.94,117.98 L421.15,117.69 L421.36,117.41 L421.57,117.13 L421.78,116.85 L421.99,116.58 L422.20,116.31 L422.41,116.05 L422.62,115.79 L422.83,115.54 L423.04,115.29 L423.25,115.05 L423.46,114.80 L423.67,114.57 L423.88,114.33 L424.09,114.10 L424.30,113.88 L424.51,113.66 L424.72,113.44 L424.93,113.22 L425.14,113.01 L425.35,112.80 L425.56,112.59 L425.77,112.39 L425.98,112.19 L426.19,112.00 L426.40,111.80 L426.61,111.61 L426.82,111.42 L427.03,111.24 L427.24,111.06 L427.45,110.88 L427.66,110.70 L427.87,110.52 L428.08,110.35 L428.29,110.18 L428.50,110.02 L428.71,109.85 L428.92,109.69 L429.13,109.53 L429.34,109.37 L429.55,109.21 L429.76,109.06 L429.97,108.91 L430.18,108.76 L430.39,108.61 L430.60,108.46 L430.81,108.32 L431.02,108.18 L431.23,108.04 L431.44,107.90 L431.65,107.76 L431.86,107.63 L432.07,107.49 L432.28,107.36 L432.49,107.23 L432.70,107.10 L432.91,106.98 L433.12,106.85 L433.33,106.73 L433.54,106.61 L433.75,106.49 L433.96,106.37 L434.17,106.25 L434.38,106.13 L434.59,106.02 L434.80,105.91 L435.01,105.79 L435.22,105.68 L435.43,105.57 L435.64,105.47 L435.85,105.36 L436.06,105.25 L436.27,105.15 L436.48,105.05 L436.69,104.95 L436.90,104.84 L437.11,104.74 L437.32,104.65 L437.53,104.55 L437.74,104.45 L437.95,104.36 L438.16,104.26 L438.37,104.17 L438.58,104.08 L438.79,103.99 L439.00,103.90 L439.21,103.81 L439.42,103.72 L439.63,103.63 L439.84,103.54 L440.05,103.46 L440.26,103.37 L440.47,103.29 L441.40,102.93 L442.33,102.58 L443.27,102.25 L444.20,101.94 L445.13,101.63 L446.07,101.34 L447.00,101.07 L447.93,100.80 L448.87,100.54 L449.80,100.29 L450.73,100.06 L451.67,99.83 L452.60,99.61 L453.53,99.40 L454.47,99.19 L455.40,98.99 L456.33,98.80 L457.27,98.62 L458.20,98.44 L459.13,98.27 L460.07,98.10 L461.00,97.94 L461.93,97.78 L462.87,97.63 L463.80,97.48 L464.73,97.34 L465.67,97.20 L466.60,97.07 L467.53,96.94 L468.47,96.81 L469.40,96.69 L470.33,96.57 L471.27,96.45 L472.20,96.34 L473.13,96.23 L474.07,96.13 L475.00,96.02 L475.93,95.92 L476.87,95.82 L477.80,95.72 L478.73,95.63 L479.67,95.54 L480.60,95.45 L481.53,95.36 L482.47,95.28 L483.40,95.19 L484.33,95.11 L485.27,95.03 L486.20,94.96 L487.13,94.88 L488.07,94.81 L489.00,94.74 L489.93,94.67 L490.87,94.60 L491.80,94.53 L492.73,94.46 L493.67,94.40 L494.60,94.33 L495.53,94.27 L496.47,94.21 L497.40,94.15 L498.33,94.09 L499.27,94.04 L500.20,93.98 L501.13,93.93 L502.07,93.87 L503.00,93.82 L503.93,93.77 L504.87,93.72 L505.80,93.67 L506.73,93.62 L507.67,93.57 L508.60,93.52 L509.53,93.48 L510.47,93.43 L511.40,93.39 L512.33,93.34 L513.27,93.30 L514.20,93.26 L515.13,93.22 L516.07,93.18 L517.00,93.14 L517.93,93.10 L518.87,93.06 L519.80,93.02 L520.73,92.98 L521.67,92.95 L522.60,92.91 L523.53,92.87 L524.47,92.84 L525.40,92.80 L526.33,92.77 L527.27,92.74 L528.20,92.70 L529.13,92.67 L530.07,92.64 L531.00,92.61 L531.93,92.58 L532.87,92.55 L533.80,92.52 L534.73,92.49 L535.67,92.46 L536.60,92.43 L537.53,92.40 L538.47,92.37 L539.40,92.35 L540.33,92.32 L541.27,92.29 L542.20,92.27 L543.13,92.24 L544.07,92.22 L545.00,92.19 L545.93,92.17 L546.87,92.14 L547.80,92.12 L548.73,92.09 L549.67,92.07 L550.60,92.05 L551.53,92.02 L552.47,92.00 L553.40,91.98 L554.33,91.96 L555.27,91.93 L556.20,91.91 L557.13,91.89 L558.07,91.87 L559.00,91.85 L559.93,91.83 L560.87,91.81 L561.80,91.79 L562.73,91.77 L563.67,91.75 L564.60,91.73 L565.53,91.71 L566.47,91.69 L567.40,91.68 L568.33,91.66 L569.27,91.64 L570.20,91.62 L571.13,91.60 L572.07,91.59 L573.00,91.57 L573.93,91.55 L574.87,91.54 L575.80,91.52 L576.73,91.50 L577.67,91.49 L578.60,91.47 L579.53,91.46" fill="none" stroke="#3A4AAA" stroke-width="1.5" stroke-linejoin="round"/>
<path d="M405.70,165.70 L405.79,164.99 L405.88,164.12 L405.97,163.18 L406.06,162.21 L406.15,161.21 L406.23,160.20 L406.32,159.19 L406.41,158.17 L406.50,157.16 L406.59,156.15 L406.68,155.15 L406.77,154.16 L406.86,153.18 L406.95,152.20 L407.04,151.24 L407.13,150.30 L407.22,149.36 L407.30,148.44 L407.39,147.54 L407.48,146.64 L407.57,145.76 L407.66,144.90 L407.75,144.05 L407.84,143.21 L407.93,142.39 L408.02,141.58 L408.11,140.78 L408.20,140.00 L408.29,139.23 L408.37,138.48 L408.46,137.73 L408.55,137.00 L408.64,136.29 L408.73,135.58 L408.82,134.89 L408.91,134.21 L409.00,133.55 L409.09,132.89 L409.18,132.24 L409.39,130.77 L409.60,129.36 L409.81,128.00 L410.02,126.69 L410.23,125.44 L410.44,124.24 L410.65,123.08 L410.86,121.97 L411.07,120.90 L411.28,119.87 L411.49,118.88 L411.70,117.92 L411.91,117.00 L412.12,116.12 L412.33,115.26 L412.54,114.43 L412.75,113.64 L412.96,112.87 L413.17,112.12 L413.38,111.40 L413.59,110.70 L413.80,110.03 L414.01,109.38 L414.22,108.75 L414.43,108.14 L414.64,107.54 L414.85,106.97 L415.06,106.41 L415.27,105.87 L415.48,105.35 L415.69,104.84 L415.90,104.35 L416.11,103.87 L416.32,103.40 L416.53,102.94 L416.74,102.50 L416.95,102.07 L417.16,101.66 L417.37,101.25 L417.58,100.85 L417.79,100.47 L418.00,100.09 L418.21,99.73 L418.42,99.37 L418.63,99.02 L418.84,98.68 L419.05,98.35 L419.26,98.03 L419.47,97.71 L419.68,97.41 L419.89,97.11 L420.10,96.81 L420.31,96.53 L420.52,96.25 L420.73,95.97 L420.94,95.70 L421.15,95.44 L421.36,95.19 L421.57,94.94 L421.78,94.69 L421.99,94.45 L422.20,94.22 L422.41,93.99 L422.62,93.76 L422.83,93.54 L423.04,93.33 L423.25,93.11 L423.46,92.91 L423.67,92.70 L423.88,92.50 L424.09,92.31 L424.30,92.12 L424.51,91.93 L424.72,91.75 L424.93,91.57 L425.14,91.39 L425.35,91.21 L425.56,91.04 L425.77,90.88 L425.98,90.71 L426.19,90.55 L426.40,90.39 L426.61,90.23 L426.82,90.08 L427.03,89.93 L427.24,89.78 L427.45,89.64 L427.66,89.49 L427.87,89.35 L428.08,89.22 L428.29,89.08 L428.50,88.95 L428.71,88.81 L428.92,88.69 L429.13,88.56 L429.34,88.43 L429.55,88.31 L429.76,88.19 L429.97,88.07 L430.18,87.95 L430.39,87.84 L430.60,87.72 L430.81,87.61 L431.02,87.50 L431.23,87.39 L431.44,87.28 L431.65,87.18 L431.86,87.08 L432.07,86.97 L432.28,86.87 L432.49,86.77 L432.70,86.68 L432.91,86.58 L433.12,86.48 L433.33,86.39 L433.54,86.30 L433.75,86.21 L433.96,86.12 L434.17,86.03 L434.38,85.94 L434.59,85.85 L434.80,85.77 L435.01,85.68 L435.22,85.60 L435.43,85.52 L435.64,85.44 L435.85,85.36 L436.06,85.28 L436.27,85.20 L436.48,85.13 L436.69,85.05 L436.90,84.98 L437.11,84.90 L437.32,84.83 L437.53,84.76 L437.74,84.69 L437.95,84.62 L438.16,84.55 L438.37,84.48 L438.58,84.41 L438.79,84.35 L439.00,84.28 L439.21,84.22 L439.42,84.15 L439.63,84.09 L439.84,84.03 L440.05,83.96 L440.26,83.90 L440.47,83.84 L441.40,83.58 L442.33,83.33 L443.27,83.10 L444.20,82.87 L445.13,82.66 L446.07,82.46 L447.00,82.26 L447.93,82.07 L448.87,81.89 L449.80,81.72 L450.73,81.56 L451.67,81.40 L452.60,81.25 L453.53,81.10 L454.47,80.96 L455.40,80.83 L456.33,80.70 L457.27,80.57 L458.20,80.45 L459.13,80.34 L460.07,80.23 L461.00,80.12 L461.93,80.01 L462.87,79.91 L463.80,79.81 L464.73,79.72 L465.67,79.63 L466.60,79.54 L467.53,79.45 L468.47,79.37 L469.40,79.29 L470.33,79.21 L471.27,79.13 L472.20,79.06 L473.13,78.99 L474.07,78.92 L475.00,78.85 L475.93,78.78 L476.87,78.72 L477.80,78.65 L478.73,78.59 L479.67,78.53 L480.60,78.48 L481.53,78.42 L482.47,78.36 L483.40,78.31 L484.33,78.26 L485.27,78.21 L486.20,78.16 L487.13,78.11 L488.07,78.06 L489.00,78.02 L489.93,77.97 L490.87,77.93 L491.80,77.88 L492.73,77.84 L493.67,77.80 L494.60,77.76 L495.53,77.72 L496.47,77.68 L497.40,77.64 L498.33,77.60 L499.27,77.57 L500.20,77.53 L501.13,77.50 L502.07,77.46 L503.00,77.43 L503.93,77.40 L504.87,77.37 L505.80,77.33 L506.73,77.30 L507.67,77.27 L508.60,77.24 L509.53,77.21 L510.47,77.19 L511.40,77.16 L512.33,77.13 L513.27,77.10 L514.20,77.08 L515.13,77.05 L516.07,77.02 L517.00,77.00 L517.93,76.97 L518.87,76.95 L519.80,76.93 L520.73,76.90 L521.67,76.88 L522.60,76.86 L523.53,76.83 L524.47,76.81 L525.40,76.79 L526.33,76.77 L527.27,76.75 L528.20,76.73 L529.13,76.71 L530.07,76.69 L531.00,76.67 L531.93,76.65 L532.87,76.63 L533.80,76.61 L534.73,76.59 L535.67,76.57 L536.60,76.56 L537.53,76.54 L538.47,76.52 L539.40,76.50 L540.33,76.49 L541.27,76.47 L542.20,76.45 L543.13,76.44 L544.07,76.42 L545.00,76.41 L545.93,76.39 L546.87,76.38 L547.80,76.36 L548.73,76.35 L549.67,76.33 L550.60,76.32 L551.53,76.30 L552.47,76.29 L553.40,76.28 L554.33,76.26 L555.27,76.25 L556.20,76.24 L557.13,76.22 L558.07,76.21 L559.00,76.20 L559.93,76.18 L560.87,76.17 L561.80,76.16 L562.73,76.15 L563.67,76.14 L564.60,76.12 L565.53,76.11 L566.47,76.10 L567.40,76.09 L568.33,76.08 L569.27,76.07 L570.20,76.06 L571.13,76.04 L572.07,76.03 L573.00,76.02 L573.93,76.01 L574.87,76.00 L575.80,75.99 L576.73,75.98 L577.67,75.97 L578.60,75.96 L579.53,75.95" fill="none" stroke="#E8372B" stroke-width="1.5" stroke-linejoin="round"/>
<path d="M405.70,165.70 L405.79,163.23 L405.88,160.56 L405.97,157.91 L406.06,155.31 L406.15,152.80 L406.23,150.39 L406.32,148.07 L406.41,145.84 L406.50,143.71 L406.59,141.67 L406.68,139.71 L406.77,137.84 L406.86,136.05 L406.95,134.34 L407.04,132.70 L407.13,131.12 L407.22,129.61 L407.30,128.17 L407.39,126.78 L407.48,125.44 L407.57,124.16 L407.66,122.93 L407.75,121.74 L407.84,120.60 L407.93,119.51 L408.02,118.45 L408.11,117.43 L408.20,116.45 L408.29,115.50 L408.37,114.58 L408.46,113.70 L408.55,112.84 L408.64,112.02 L408.73,111.22 L408.82,110.45 L408.91,109.70 L409.00,108.97 L409.09,108.27 L409.18,107.59 L409.39,106.07 L409.60,104.65 L409.81,103.32 L410.02,102.08 L410.23,100.91 L410.44,99.82 L410.65,98.79 L410.86,97.82 L411.07,96.91 L411.28,96.04 L411.49,95.22 L411.70,94.45 L411.91,93.71 L412.12,93.01 L412.33,92.34 L412.54,91.71 L412.75,91.11 L412.96,90.53 L413.17,89.98 L413.38,89.45 L413.59,88.95 L413.80,88.46 L414.01,88.00 L414.22,87.56 L414.43,87.13 L414.64,86.72 L414.85,86.33 L415.06,85.95 L415.27,85.58 L415.48,85.23 L415.69,84.89 L415.90,84.56 L416.11,84.25 L416.32,83.94 L416.53,83.65 L416.74,83.36 L416.95,83.09 L417.16,82.82 L417.37,82.56 L417.58,82.31 L417.79,82.07 L418.00,81.83 L418.21,81.61 L418.42,81.38 L418.63,81.17 L418.84,80.96 L419.05,80.76 L419.26,80.56 L419.47,80.37 L419.68,80.18 L419.89,80.00 L420.10,79.82 L420.31,79.65 L420.52,79.48 L420.73,79.32 L420.94,79.16 L421.15,79.00 L421.36,78.85 L421.57,78.70 L421.78,78.56 L421.99,78.42 L422.20,78.28 L422.41,78.15 L422.62,78.02 L422.83,77.89 L423.04,77.76 L423.25,77.64 L423.46,77.52 L423.67,77.40 L423.88,77.29 L424.09,77.18 L424.30,77.07 L424.51,76.96 L424.72,76.85 L424.93,76.75 L425.14,76.65 L425.35,76.55 L425.56,76.45 L425.77,76.36 L425.98,76.27 L426.19,76.17 L426.40,76.08 L426.61,76.00 L426.82,75.91 L427.03,75.83 L427.24,75.74 L427.45,75.66 L427.66,75.58 L427.87,75.50 L428.08,75.43 L428.29,75.35 L428.50,75.28 L428.71,75.20 L428.92,75.13 L429.13,75.06 L429.34,74.99 L429.55,74.92 L429.76,74.86 L429.97,74.79 L430.18,74.72 L430.39,74.66 L430.60,74.60 L430.81,74.54 L431.02,74.48 L431.23,74.42 L431.44,74.36 L431.65,74.30 L431.86,74.24 L432.07,74.19 L432.28,74.13 L432.49,74.08 L432.70,74.02 L432.91,73.97 L433.12,73.92 L433.33,73.87 L433.54,73.82 L433.75,73.77 L433.96,73.72 L434.17,73.67 L434.38,73.62 L434.59,73.58 L434.80,73.53 L435.01,73.48 L435.22,73.44 L435.43,73.39 L435.64,73.35 L435.85,73.31 L436.06,73.27 L436.27,73.22 L436.48,73.18 L436.69,73.14 L436.90,73.10 L437.11,73.06 L437.32,73.02 L437.53,72.98 L437.74,72.95 L437.95,72.91 L438.16,72.87 L438.37,72.83 L438.58,72.80 L438.79,72.76 L439.00,72.73 L439.21,72.69 L439.42,72.66 L439.63,72.62 L439.84,72.59 L440.05,72.56 L440.26,72.52 L440.47,72.49 L441.40,72.35 L442.33,72.22 L443.27,72.09 L444.20,71.97 L445.13,71.86 L446.07,71.75 L447.00,71.64 L447.93,71.54 L448.87,71.45 L449.80,71.36 L450.73,71.27 L451.67,71.19 L452.60,71.11 L453.53,71.03 L454.47,70.95 L455.40,70.88 L456.33,70.81 L457.27,70.75 L458.20,70.68 L459.13,70.62 L460.07,70.56 L461.00,70.50 L461.93,70.45 L462.87,70.40 L463.80,70.34 L464.73,70.29 L465.67,70.24 L466.60,70.20 L467.53,70.15 L468.47,70.11 L469.40,70.06 L470.33,70.02 L471.27,69.98 L472.20,69.94 L473.13,69.90 L474.07,69.87 L475.00,69.83 L475.93,69.80 L476.87,69.76 L477.80,69.73 L478.73,69.70 L479.67,69.66 L480.60,69.63 L481.53,69.60 L482.47,69.57 L483.40,69.55 L484.33,69.52 L485.27,69.49 L486.20,69.46 L487.13,69.44 L488.07,69.41 L489.00,69.39 L489.93,69.36 L490.87,69.34 L491.80,69.32 L492.73,69.29 L493.67,69.27 L494.60,69.25 L495.53,69.23 L496.47,69.21 L497.40,69.19 L498.33,69.17 L499.27,69.15 L500.20,69.13 L501.13,69.11 L502.07,69.09 L503.00,69.07 L503.93,69.06 L504.87,69.04 L505.80,69.02 L506.73,69.01 L507.67,68.99 L508.60,68.97 L509.53,68.96 L510.47,68.94 L511.40,68.93 L512.33,68.91 L513.27,68.90 L514.20,68.88 L515.13,68.87 L516.07,68.86 L517.00,68.84 L517.93,68.83 L518.87,68.82 L519.80,68.80 L520.73,68.79 L521.67,68.78 L522.60,68.77 L523.53,68.75 L524.47,68.74 L525.40,68.73 L526.33,68.72 L527.27,68.71 L528.20,68.70 L529.13,68.69 L530.07,68.67 L531.00,68.66 L531.93,68.65 L532.87,68.64 L533.80,68.63 L534.73,68.62 L535.67,68.61 L536.60,68.60 L537.53,68.59 L538.47,68.58 L539.40,68.58 L540.33,68.57 L541.27,68.56 L542.20,68.55 L543.13,68.54 L544.07,68.53 L545.00,68.52 L545.93,68.51 L546.87,68.51 L547.80,68.50 L548.73,68.49 L549.67,68.48 L550.60,68.47 L551.53,68.47 L552.47,68.46 L553.40,68.45 L554.33,68.44 L555.27,68.44 L556.20,68.43 L557.13,68.42 L558.07,68.41 L559.00,68.41 L559.93,68.40 L560.87,68.39 L561.80,68.39 L562.73,68.38 L563.67,68.37 L564.60,68.37 L565.53,68.36 L566.47,68.35 L567.40,68.35 L568.33,68.34 L569.27,68.34 L570.20,68.33 L571.13,68.32 L572.07,68.32 L573.00,68.31 L573.93,68.31 L574.87,68.30 L575.80,68.30 L576.73,68.29 L577.67,68.28 L578.60,68.28 L579.53,68.27" fill="none" stroke="#000000" stroke-width="1.5" stroke-linejoin="round"/>
<circle cx="405.70" cy="165.70" r="2.90" fill="#72308A"/>
<circle cx="414.39" cy="158.78" r="2.90" fill="#72308A"/>
<circle cx="427.43" cy="150.36" r="2.90" fill="#72308A"/>
<circle cx="449.16" cy="142.98" r="2.90" fill="#72308A"/>
<path d="M492.62,130.29 L492.62,133.98 M489.82,130.29 L495.42,130.29 M489.82,133.98 L495.42,133.98" stroke="#72308A" stroke-width="1.75" fill="none"/>
<circle cx="492.62" cy="132.14" r="2.90" fill="#72308A"/>
<path d="M579.53,126.83 L579.53,132.83 M576.73,126.83 L582.33,126.83 M576.73,132.83 L582.33,132.83" stroke="#72308A" stroke-width="1.75" fill="none"/>
<circle cx="579.53" cy="129.83" r="2.90" fill="#72308A"/>
<rect x="402.70" y="162.70" width="6.00" height="6.00" fill="#66C04A"/>
<rect x="411.39" y="149.67" width="6.00" height="6.00" fill="#66C04A"/>
<rect x="424.43" y="141.71" width="6.00" height="6.00" fill="#66C04A"/>
<rect x="446.16" y="128.68" width="6.00" height="6.00" fill="#66C04A"/>
<rect x="467.89" y="130.18" width="6.00" height="6.00" fill="#66C04A"/>
<path d="M492.62,123.83 L492.62,128.91 M489.82,123.83 L495.42,123.83 M489.82,128.91 L495.42,128.91" stroke="#66C04A" stroke-width="1.75" fill="none"/>
<rect x="489.62" y="123.37" width="6.00" height="6.00" fill="#66C04A"/>
<path d="M579.53,119.80 L579.53,123.95 M576.73,119.80 L582.33,119.80 M576.73,123.95 L582.33,123.95" stroke="#66C04A" stroke-width="1.75" fill="none"/>
<rect x="576.53" y="118.87" width="6.00" height="6.00" fill="#66C04A"/>
<path d="M405.70,162.10 L409.12,168.40 L402.28,168.40Z" fill="#3A4AAA"/>
<path d="M407.87,151.84 L411.29,158.14 L404.45,158.14Z" fill="#3A4AAA"/>
<path d="M410.05,137.65 L413.47,143.95 L406.63,143.95Z" fill="#3A4AAA"/>
<path d="M414.39,124.73 L417.81,131.03 L410.97,131.03Z" fill="#3A4AAA"/>
<path d="M427.43,113.80 L427.43,120.72 M424.63,113.80 L430.23,113.80 M424.63,120.72 L430.23,120.72" stroke="#3A4AAA" stroke-width="1.75" fill="none"/>
<path d="M427.43,113.66 L430.85,119.96 L424.01,119.96Z" fill="#3A4AAA"/>
<path d="M449.16,97.28 L452.58,103.58 L445.74,103.58Z" fill="#3A4AAA"/>
<path d="M492.62,92.92 L492.62,98.69 M489.82,92.92 L495.42,92.92 M489.82,98.69 L495.42,98.69" stroke="#3A4AAA" stroke-width="1.75" fill="none"/>
<path d="M492.62,92.21 L496.04,98.51 L489.20,98.51Z" fill="#3A4AAA"/>
<path d="M536.07,87.13 L539.49,93.43 L532.65,93.43Z" fill="#3A4AAA"/>
<path d="M579.53,85.98 L582.95,92.28 L576.11,92.28Z" fill="#3A4AAA"/>
<path d="M405.70,169.30 L409.12,163.00 L402.28,163.00Z" fill="#E8372B"/>
<path d="M407.87,152.23 L411.29,145.93 L404.45,145.93Z" fill="#E8372B"/>
<path d="M410.05,129.05 L413.47,122.75 L406.63,122.75Z" fill="#E8372B"/>
<path d="M414.39,106.33 L417.81,100.03 L410.97,100.03Z" fill="#E8372B"/>
<path d="M427.43,100.33 L430.85,94.03 L424.01,94.03Z" fill="#E8372B"/>
<path d="M449.16,88.80 L452.58,82.50 L445.74,82.50Z" fill="#E8372B"/>
<path d="M492.62,80.61 L496.04,74.31 L489.20,74.31Z" fill="#E8372B"/>
<path d="M579.53,76.92 L582.95,70.62 L576.11,70.62Z" fill="#E8372B"/>
<path d="M405.70,162.60 L408.80,165.70 L405.70,168.80 L402.60,165.70Z" fill="#000000"/>
<path d="M407.87,122.93 L410.97,126.03 L407.87,129.13 L404.77,126.03Z" fill="#000000"/>
<path d="M410.05,100.09 L413.15,103.19 L410.05,106.29 L406.95,103.19Z" fill="#000000"/>
<path d="M414.39,78.06 L417.49,81.16 L414.39,84.26 L411.29,81.16Z" fill="#000000"/>
<path d="M427.43,70.33 L430.53,73.43 L427.43,76.53 L424.33,73.43Z" fill="#000000"/>
<path d="M449.16,70.09 L449.16,76.09 M446.36,70.09 L451.96,70.09 M446.36,76.09 L451.96,76.09" stroke="#000000" stroke-width="1.75" fill="none"/>
<path d="M449.16,69.99 L452.26,73.09 L449.16,76.19 L446.06,73.09Z" fill="#000000"/>
<path d="M492.62,69.06 L495.72,72.16 L492.62,75.26 L489.52,72.16Z" fill="#000000"/>
<path d="M579.53,64.78 L579.53,74.47 M576.73,64.78 L582.33,64.78 M576.73,74.47 L582.33,74.47" stroke="#000000" stroke-width="1.75" fill="none"/>
<path d="M579.53,66.53 L582.63,69.63 L579.53,72.73 L576.43,69.63Z" fill="#000000"/>
<text transform="translate(374.60,96.60) rotate(-90)" text-anchor="middle" font-weight="bold" font-size="11.3" stroke="#000" stroke-width="0.3">Vi (&#956;M min<tspan dy="-4.3" font-size="7.68">-1</tspan><tspan dy="4.3">)</tspan></text>
<text x="510.10" y="196.40" text-anchor="middle" font-weight="bold" font-size="11.7" stroke="#000" stroke-width="0.3">[L-Ser] (mM)</text>
<line x1="628.30" y1="36.80" x2="643.60" y2="36.80" stroke="#72308A" stroke-width="1.7"/>
<circle cx="635.95" cy="36.80" r="3.25" fill="#72308A"/>
<text transform="translate(651.60,40.20) scale(0.92,1)" font-size="12.2" fill="#1a1a1a" stroke="#1a1a1a" stroke-width="0.3">pH 6.5</text>
<line x1="628.30" y1="53.00" x2="643.60" y2="53.00" stroke="#66C04A" stroke-width="1.7"/>
<rect x="632.59" y="49.64" width="6.72" height="6.72" fill="#66C04A"/>
<text transform="translate(651.60,56.40) scale(0.92,1)" font-size="12.2" fill="#1a1a1a" stroke="#1a1a1a" stroke-width="0.3">pH 7.0</text>
<line x1="628.30" y1="68.90" x2="643.60" y2="68.90" stroke="#3A4AAA" stroke-width="1.7"/>
<path d="M635.95,64.87 L639.78,71.92 L632.12,71.92Z" fill="#3A4AAA"/>
<text transform="translate(651.60,72.30) scale(0.92,1)" font-size="12.2" fill="#1a1a1a" stroke="#1a1a1a" stroke-width="0.3">pH 8.0</text>
<line x1="628.30" y1="84.60" x2="643.60" y2="84.60" stroke="#E8372B" stroke-width="1.7"/>
<path d="M635.95,88.63 L639.78,81.58 L632.12,81.58Z" fill="#E8372B"/>
<text transform="translate(651.60,88.00) scale(0.92,1)" font-size="12.2" fill="#1a1a1a" stroke="#1a1a1a" stroke-width="0.3">pH 8.5</text>
<line x1="628.30" y1="100.50" x2="643.60" y2="100.50" stroke="#000000" stroke-width="1.7"/>
<path d="M635.95,97.03 L639.42,100.50 L635.95,103.97 L632.48,100.50Z" fill="#000000"/>
<text transform="translate(651.60,103.90) scale(0.92,1)" font-size="12.2" fill="#1a1a1a" stroke="#1a1a1a" stroke-width="0.3">pH 9.5</text>
<path d="M28.8,234.9 A5.4,6.2 0 1 0 29.2,245.0" stroke="#000" stroke-width="2.5" fill="none"/>
<text transform="translate(111.50,264.20) scale(0.935,1)" font-size="17.8" stroke="#000" stroke-width="0.2"><tspan font-style="italic">At</tspan>SHMT4</text>
<text transform="translate(139.40,305.20) scale(0.93,1)" text-anchor="start" font-size="14" stroke="#000" stroke-width="0.2">[L-Ser]=30 mM</text>
<path d="M47.90,272.40 L47.90,410.55 L254.40,410.55" fill="none" stroke="#222" stroke-width="1.8"/>
<line x1="44.10" y1="410.55" x2="47.90" y2="410.55" stroke="#111" stroke-width="1.6"/>
<text transform="translate(42.40,413.15) scale(0.92,1)" text-anchor="end" font-weight="bold" font-size="10.6" stroke="#000" stroke-width="0.3">0</text>
<line x1="44.10" y1="364.50" x2="47.90" y2="364.50" stroke="#111" stroke-width="1.6"/>
<text transform="translate(42.40,367.10) scale(0.92,1)" text-anchor="end" font-weight="bold" font-size="10.6" stroke="#000" stroke-width="0.3">50</text>
<line x1="44.10" y1="318.45" x2="47.90" y2="318.45" stroke="#111" stroke-width="1.6"/>
<text transform="translate(42.40,321.05) scale(0.92,1)" text-anchor="end" font-weight="bold" font-size="10.6" stroke="#000" stroke-width="0.3">100</text>
<line x1="44.10" y1="272.40" x2="47.90" y2="272.40" stroke="#111" stroke-width="1.6"/>
<text transform="translate(42.40,275.00) scale(0.92,1)" text-anchor="end" font-weight="bold" font-size="10.6" stroke="#000" stroke-width="0.3">150</text>
<text transform="translate(47.90,425.60) scale(0.92,1)" text-anchor="middle" font-weight="bold" font-size="10.6" stroke="#000" stroke-width="0.3">0</text>
<line x1="99.53" y1="410.55" x2="99.53" y2="414.45" stroke="#111" stroke-width="1.6"/>
<text transform="translate(99.53,425.60) scale(0.92,1)" text-anchor="middle" font-weight="bold" font-size="10.6" stroke="#000" stroke-width="0.3">200</text>
<line x1="151.15" y1="410.55" x2="151.15" y2="414.45" stroke="#111" stroke-width="1.6"/>
<text transform="translate(151.15,425.60) scale(0.92,1)" text-anchor="middle" font-weight="bold" font-size="10.6" stroke="#000" stroke-width="0.3">400</text>
<line x1="202.78" y1="410.55" x2="202.78" y2="414.45" stroke="#111" stroke-width="1.6"/>
<text transform="translate(202.78,425.60) scale(0.92,1)" text-anchor="middle" font-weight="bold" font-size="10.6" stroke="#000" stroke-width="0.3">600</text>
<line x1="254.40" y1="410.55" x2="254.40" y2="414.45" stroke="#111" stroke-width="1.6"/>
<text transform="translate(254.40,425.60) scale(0.92,1)" text-anchor="middle" font-weight="bold" font-size="10.6" stroke="#000" stroke-width="0.3">800</text>
<path d="M47.90,410.55 L48.00,408.04 L48.10,405.95 L48.20,404.01 L48.30,402.16 L48.40,400.38 L48.50,398.66 L48.59,396.99 L48.69,395.37 L48.79,393.79 L48.89,392.25 L48.99,390.75 L49.09,389.29 L49.19,387.86 L49.29,386.46 L49.39,385.10 L49.49,383.76 L49.59,382.46 L49.69,381.19 L49.79,379.95 L49.89,378.75 L49.98,377.57 L50.08,376.42 L50.18,375.29 L50.28,374.20 L50.38,373.13 L50.48,372.10 L50.58,371.09 L50.68,370.10 L50.78,369.15 L50.88,368.22 L50.98,367.31 L51.08,366.43 L51.18,365.58 L51.28,364.75 L51.37,363.95 L51.47,363.17 L51.57,362.42 L51.67,361.68 L51.77,360.98 L51.91,360.02 L52.05,359.10 L52.19,358.23 L52.33,357.40 L52.47,356.61 L52.61,355.86 L52.75,355.15 L52.89,354.48 L53.03,353.84 L53.17,353.24 L53.31,352.67 L53.45,352.14 L53.59,351.64 L53.73,351.17 L53.87,350.73 L54.01,350.32 L54.15,349.94 L54.29,349.58 L54.43,349.25 L54.57,348.95 L54.71,348.67 L54.85,348.42 L54.99,348.19 L55.13,347.98 L55.27,347.79 L55.41,347.62 L55.55,347.47 L55.69,347.34 L55.83,347.22 L55.97,347.13 L56.11,347.05 L56.25,346.98 L56.39,346.93 L56.53,346.90 L56.67,346.88 L56.81,346.87 L56.95,346.87 L57.09,346.89 L57.23,346.92 L57.37,346.96 L57.51,347.01 L57.65,347.07 L57.79,347.14 L57.93,347.22 L58.07,347.30 L58.21,347.40 L58.35,347.50 L58.49,347.61 L58.63,347.73 L58.77,347.86 L58.91,347.99 L59.05,348.13 L59.19,348.27 L59.33,348.42 L59.47,348.57 L59.61,348.73 L59.75,348.89 L59.89,349.06 L60.03,349.23 L60.17,349.40 L60.31,349.58 L60.45,349.77 L60.59,349.95 L60.73,350.14 L60.87,350.33 L61.01,350.52 L61.15,350.72 L61.29,350.92 L61.43,351.12 L61.57,351.32 L61.71,351.53 L61.85,351.73 L61.99,351.94 L62.13,352.15 L62.27,352.36 L62.41,352.57 L62.55,352.78 L62.69,352.99 L62.83,353.21 L62.97,353.42 L63.11,353.64 L63.25,353.85 L63.39,354.07 L63.53,354.29 L63.67,354.50 L63.81,354.72 L63.95,354.94 L64.09,355.16 L64.23,355.37 L64.37,355.59 L64.51,355.81 L64.65,356.02 L64.79,356.24 L64.93,356.46 L65.07,356.67 L65.21,356.89 L65.35,357.11 L65.49,357.32 L65.63,357.53 L65.77,357.75 L65.91,357.96 L66.05,358.18 L66.19,358.39 L66.33,358.60 L66.47,358.81 L66.61,359.02 L66.75,359.23 L66.89,359.44 L67.03,359.65 L67.17,359.85 L67.31,360.06 L67.45,360.26 L67.59,360.47 L67.73,360.67 L67.87,360.88 L68.01,361.08 L68.15,361.28 L68.29,361.48 L68.43,361.68 L68.57,361.88 L68.71,362.07 L68.85,362.27 L68.99,362.47 L69.13,362.66 L69.27,362.85 L69.41,363.05 L69.55,363.24 L69.69,363.43 L69.83,363.62 L69.97,363.81 L70.10,363.99 L70.24,364.18 L70.38,364.36 L70.52,364.55 L70.66,364.73 L70.80,364.91 L70.94,365.10 L71.08,365.28 L71.22,365.46 L71.36,365.63 L71.50,365.81 L71.64,365.99 L71.78,366.16 L71.92,366.34 L72.06,366.51 L72.20,366.68 L72.34,366.85 L72.48,367.02 L72.62,367.19 L72.76,367.36 L72.90,367.53 L73.04,367.69 L73.18,367.86 L73.32,368.02 L73.46,368.19 L73.60,368.35 L73.74,368.51 L73.88,368.67 L74.02,368.83 L74.16,368.99 L74.30,369.14 L74.44,369.30 L74.58,369.46 L74.72,369.61 L74.86,369.76 L75.00,369.92 L75.14,370.07 L75.28,370.22 L75.42,370.37 L75.56,370.52 L75.70,370.67 L75.84,370.81 L75.98,370.96 L76.12,371.11 L76.26,371.25 L76.40,371.39 L76.54,371.54 L76.68,371.68 L76.82,371.82 L76.96,371.96 L77.10,372.10 L77.24,372.24 L77.38,372.37 L77.52,372.51 L77.66,372.65 L77.80,372.78 L77.94,372.92 L78.08,373.05 L78.22,373.18 L78.36,373.31 L78.50,373.44 L78.64,373.57 L78.78,373.70 L78.92,373.83 L79.06,373.96 L79.20,374.09 L79.34,374.21 L79.48,374.34 L79.62,374.46 L79.76,374.59 L79.90,374.71 L80.04,374.83 L80.18,374.96 L80.32,375.08 L80.46,375.20 L80.60,375.32 L80.74,375.43 L80.88,375.55 L81.02,375.67 L81.16,375.79 L81.30,375.90 L81.44,376.02 L81.58,376.13 L81.72,376.25 L81.86,376.36 L82.00,376.47 L82.14,376.59 L82.28,376.70 L82.42,376.81 L82.56,376.92 L82.70,377.03 L82.84,377.14 L82.98,377.24 L83.12,377.35 L83.26,377.46 L83.40,377.56 L83.54,377.67 L83.68,377.77 L83.82,377.88 L83.96,377.98 L84.10,378.09 L84.24,378.19 L84.38,378.29 L84.52,378.39 L84.66,378.49 L84.80,378.59 L84.94,378.69 L85.08,378.79 L85.22,378.89 L85.36,378.99 L85.50,379.09 L85.64,379.18 L85.78,379.28 L85.92,379.38 L86.06,379.47 L86.20,379.57 L86.34,379.66 L86.48,379.75 L86.62,379.85 L87.24,380.25 L87.86,380.65 L88.48,381.04 L89.11,381.42 L89.73,381.79 L90.35,382.15 L90.97,382.50 L91.59,382.85 L92.22,383.18 L92.84,383.51 L93.46,383.84 L94.08,384.15 L94.70,384.46 L95.33,384.76 L95.95,385.05 L96.57,385.34 L97.19,385.62 L97.81,385.90 L98.44,386.17 L99.06,386.43 L99.68,386.69 L100.30,386.95 L100.92,387.20 L101.55,387.44 L102.17,387.68 L102.79,387.91 L103.41,388.14 L104.03,388.37 L104.66,388.59 L105.28,388.80 L105.90,389.02 L106.52,389.22 L107.14,389.43 L107.77,389.63 L108.39,389.83 L109.01,390.02 L109.63,390.21 L110.25,390.40 L110.88,390.58 L111.50,390.76 L112.12,390.94 L112.74,391.11 L113.36,391.28 L113.99,391.45 L114.61,391.62 L115.23,391.78 L115.85,391.94 L116.47,392.10 L117.10,392.25 L117.72,392.40 L118.34,392.55 L118.96,392.70 L119.58,392.84 L120.21,392.99 L120.83,393.13 L121.45,393.26 L122.07,393.40 L122.69,393.53 L123.32,393.67 L123.94,393.80 L124.56,393.92 L125.18,394.05 L125.80,394.17 L126.43,394.30 L127.05,394.42 L127.67,394.54 L128.29,394.65 L128.91,394.77 L129.54,394.88 L130.16,394.99 L130.78,395.11 L131.40,395.21 L132.02,395.32 L132.65,395.43 L133.27,395.53 L133.89,395.64 L134.51,395.74 L135.13,395.84 L135.76,395.94 L136.38,396.04 L137.00,396.13 L137.62,396.23 L138.24,396.32 L138.87,396.41 L139.49,396.51 L140.11,396.60 L140.73,396.69 L141.35,396.77 L141.98,396.86 L142.60,396.95 L143.22,397.03 L143.84,397.12 L144.46,397.20 L145.09,397.28 L145.71,397.36 L146.33,397.44 L146.95,397.52 L147.57,397.60 L148.20,397.68 L148.82,397.75 L149.44,397.83 L150.06,397.90 L150.68,397.98 L151.31,398.05 L151.93,398.12 L152.55,398.19 L153.17,398.26 L153.79,398.33 L154.42,398.40 L155.04,398.47 L155.66,398.54 L156.28,398.60 L156.90,398.67 L157.53,398.73 L158.15,398.80 L158.77,398.86 L159.39,398.92 L160.01,398.99 L160.64,399.05 L161.26,399.11 L161.88,399.17 L162.50,399.23 L163.12,399.29 L163.75,399.35 L164.37,399.40 L164.99,399.46 L165.61,399.52 L166.23,399.57 L166.86,399.63 L167.48,399.69 L168.10,399.74 L168.72,399.79 L169.34,399.85 L169.97,399.90 L170.59,399.95 L171.21,400.00 L171.83,400.06 L172.45,400.11 L173.08,400.16 L173.70,400.21 L174.32,400.26 L174.94,400.31 L175.56,400.35 L176.19,400.40 L176.81,400.45 L177.43,400.50 L178.05,400.54 L178.67,400.59 L179.29,400.64 L179.92,400.68 L180.54,400.73 L181.16,400.77 L181.78,400.82 L182.40,400.86 L183.03,400.90 L183.65,400.95 L184.27,400.99 L184.89,401.03 L185.51,401.07 L186.14,401.11 L186.76,401.16 L187.38,401.20 L188.00,401.24 L188.62,401.28 L189.25,401.32 L189.87,401.36 L190.49,401.40 L191.11,401.43 L191.73,401.47 L192.36,401.51 L192.98,401.55 L193.60,401.59 L194.22,401.62 L194.84,401.66 L195.47,401.70 L196.09,401.73 L196.71,401.77 L197.33,401.80 L197.95,401.84 L198.58,401.88 L199.20,401.91 L199.82,401.95 L200.44,401.98 L201.06,402.01 L201.69,402.05 L202.31,402.08 L202.93,402.11 L203.55,402.15 L204.17,402.18 L204.80,402.21 L205.42,402.24 L206.04,402.28 L206.66,402.31 L207.28,402.34 L207.91,402.37 L208.53,402.40 L209.15,402.43 L209.77,402.46 L210.39,402.49 L211.02,402.52 L211.64,402.55 L212.26,402.58 L212.88,402.61 L213.50,402.64 L214.13,402.67 L214.75,402.70 L215.37,402.73 L215.99,402.76 L216.61,402.79 L217.24,402.81 L217.86,402.84 L218.48,402.87 L219.10,402.90 L219.72,402.92 L220.35,402.95 L220.97,402.98 L221.59,403.00 L222.21,403.03 L222.83,403.06 L223.46,403.08 L224.08,403.11 L224.70,403.13 L225.32,403.16 L225.94,403.18 L226.57,403.21 L227.19,403.23 L227.81,403.26 L228.43,403.28 L229.05,403.31 L229.68,403.33 L230.30,403.36 L230.92,403.38 L231.54,403.41 L232.16,403.43 L232.79,403.45 L233.41,403.48 L234.03,403.50 L234.65,403.52 L235.27,403.55 L235.90,403.57 L236.52,403.59 L237.14,403.61 L237.76,403.64 L238.38,403.66 L239.01,403.68 L239.63,403.70 L240.25,403.72 L240.87,403.75 L241.49,403.77" fill="none" stroke="#9A4DB5" stroke-width="1.5" stroke-linejoin="round"/>
<path d="M47.90,410.55 L48.00,407.17 L48.10,402.85 L48.20,398.31 L48.30,393.75 L48.40,389.27 L48.50,384.93 L48.59,380.77 L48.69,376.81 L48.79,373.05 L48.89,369.49 L48.99,366.14 L49.09,362.99 L49.19,360.02 L49.29,357.24 L49.39,354.63 L49.49,352.19 L49.59,349.90 L49.69,347.75 L49.79,345.74 L49.89,343.86 L49.98,342.10 L50.08,340.46 L50.18,338.92 L50.28,337.48 L50.38,336.14 L50.48,334.88 L50.58,333.70 L50.68,332.60 L50.78,331.58 L50.88,330.62 L50.98,329.73 L51.08,328.89 L51.18,328.12 L51.28,327.39 L51.37,326.72 L51.47,326.09 L51.57,325.51 L51.67,324.96 L51.77,324.46 L51.91,323.81 L52.05,323.23 L52.19,322.72 L52.33,322.26 L52.47,321.85 L52.61,321.49 L52.75,321.18 L52.89,320.91 L53.03,320.68 L53.17,320.48 L53.31,320.32 L53.45,320.19 L53.59,320.09 L53.73,320.01 L53.87,319.96 L54.01,319.93 L54.15,319.92 L54.29,319.94 L54.43,319.97 L54.57,320.01 L54.71,320.08 L54.85,320.16 L54.99,320.25 L55.13,320.36 L55.27,320.47 L55.41,320.60 L55.55,320.74 L55.69,320.89 L55.83,321.05 L55.97,321.22 L56.11,321.39 L56.25,321.57 L56.39,321.76 L56.53,321.95 L56.67,322.15 L56.81,322.36 L56.95,322.57 L57.09,322.79 L57.23,323.00 L57.37,323.23 L57.51,323.46 L57.65,323.69 L57.79,323.92 L57.93,324.16 L58.07,324.39 L58.21,324.64 L58.35,324.88 L58.49,325.12 L58.63,325.37 L58.77,325.62 L58.91,325.87 L59.05,326.12 L59.19,326.38 L59.33,326.63 L59.47,326.88 L59.61,327.14 L59.75,327.40 L59.89,327.65 L60.03,327.91 L60.17,328.17 L60.31,328.42 L60.45,328.68 L60.59,328.94 L60.73,329.20 L60.87,329.46 L61.01,329.71 L61.15,329.97 L61.29,330.23 L61.43,330.48 L61.57,330.74 L61.71,331.00 L61.85,331.25 L61.99,331.51 L62.13,331.76 L62.27,332.02 L62.41,332.27 L62.55,332.52 L62.69,332.77 L62.83,333.03 L62.97,333.28 L63.11,333.53 L63.25,333.78 L63.39,334.02 L63.53,334.27 L63.67,334.52 L63.81,334.76 L63.95,335.01 L64.09,335.25 L64.23,335.49 L64.37,335.74 L64.51,335.98 L64.65,336.22 L64.79,336.45 L64.93,336.69 L65.07,336.93 L65.21,337.16 L65.35,337.40 L65.49,337.63 L65.63,337.87 L65.77,338.10 L65.91,338.33 L66.05,338.56 L66.19,338.79 L66.33,339.01 L66.47,339.24 L66.61,339.47 L66.75,339.69 L66.89,339.91 L67.03,340.14 L67.17,340.36 L67.31,340.58 L67.45,340.80 L67.59,341.01 L67.73,341.23 L67.87,341.45 L68.01,341.66 L68.15,341.87 L68.29,342.09 L68.43,342.30 L68.57,342.51 L68.71,342.72 L68.85,342.93 L68.99,343.13 L69.13,343.34 L69.27,343.54 L69.41,343.75 L69.55,343.95 L69.69,344.15 L69.83,344.35 L69.97,344.55 L70.10,344.75 L70.24,344.95 L70.38,345.15 L70.52,345.34 L70.66,345.54 L70.80,345.73 L70.94,345.92 L71.08,346.12 L71.22,346.31 L71.36,346.50 L71.50,346.69 L71.64,346.87 L71.78,347.06 L71.92,347.25 L72.06,347.43 L72.20,347.61 L72.34,347.80 L72.48,347.98 L72.62,348.16 L72.76,348.34 L72.90,348.52 L73.04,348.70 L73.18,348.88 L73.32,349.05 L73.46,349.23 L73.60,349.40 L73.74,349.58 L73.88,349.75 L74.02,349.92 L74.16,350.09 L74.30,350.26 L74.44,350.43 L74.58,350.60 L74.72,350.77 L74.86,350.94 L75.00,351.10 L75.14,351.27 L75.28,351.43 L75.42,351.59 L75.56,351.76 L75.70,351.92 L75.84,352.08 L75.98,352.24 L76.12,352.40 L76.26,352.56 L76.40,352.72 L76.54,352.87 L76.68,353.03 L76.82,353.18 L76.96,353.34 L77.10,353.49 L77.24,353.65 L77.38,353.80 L77.52,353.95 L77.66,354.10 L77.80,354.25 L77.94,354.40 L78.08,354.55 L78.22,354.70 L78.36,354.84 L78.50,354.99 L78.64,355.13 L78.78,355.28 L78.92,355.42 L79.06,355.57 L79.20,355.71 L79.34,355.85 L79.48,355.99 L79.62,356.13 L79.76,356.27 L79.90,356.41 L80.04,356.55 L80.18,356.69 L80.32,356.83 L80.46,356.96 L80.60,357.10 L80.74,357.23 L80.88,357.37 L81.02,357.50 L81.16,357.64 L81.30,357.77 L81.44,357.90 L81.58,358.03 L81.72,358.16 L81.86,358.29 L82.00,358.42 L82.14,358.55 L82.28,358.68 L82.42,358.81 L82.56,358.94 L82.70,359.06 L82.84,359.19 L82.98,359.31 L83.12,359.44 L83.26,359.56 L83.40,359.69 L83.54,359.81 L83.68,359.93 L83.82,360.05 L83.96,360.17 L84.10,360.30 L84.24,360.42 L84.38,360.54 L84.52,360.65 L84.66,360.77 L84.80,360.89 L84.94,361.01 L85.08,361.13 L85.22,361.24 L85.36,361.36 L85.50,361.47 L85.64,361.59 L85.78,361.70 L85.92,361.82 L86.06,361.93 L86.20,362.04 L86.34,362.15 L86.48,362.27 L86.62,362.38 L87.24,362.87 L87.86,363.35 L88.48,363.82 L89.11,364.28 L89.73,364.73 L90.35,365.17 L90.97,365.61 L91.59,366.03 L92.22,366.45 L92.84,366.86 L93.46,367.27 L94.08,367.67 L94.70,368.05 L95.33,368.44 L95.95,368.81 L96.57,369.18 L97.19,369.55 L97.81,369.90 L98.44,370.25 L99.06,370.60 L99.68,370.94 L100.30,371.27 L100.92,371.60 L101.55,371.92 L102.17,372.24 L102.79,372.55 L103.41,372.86 L104.03,373.16 L104.66,373.46 L105.28,373.75 L105.90,374.04 L106.52,374.33 L107.14,374.61 L107.77,374.88 L108.39,375.15 L109.01,375.42 L109.63,375.68 L110.25,375.94 L110.88,376.20 L111.50,376.45 L112.12,376.70 L112.74,376.94 L113.36,377.19 L113.99,377.42 L114.61,377.66 L115.23,377.89 L115.85,378.12 L116.47,378.34 L117.10,378.56 L117.72,378.78 L118.34,379.00 L118.96,379.21 L119.58,379.42 L120.21,379.63 L120.83,379.83 L121.45,380.03 L122.07,380.23 L122.69,380.43 L123.32,380.63 L123.94,380.82 L124.56,381.01 L125.18,381.19 L125.80,381.38 L126.43,381.56 L127.05,381.74 L127.67,381.92 L128.29,382.09 L128.91,382.27 L129.54,382.44 L130.16,382.61 L130.78,382.78 L131.40,382.94 L132.02,383.10 L132.65,383.27 L133.27,383.43 L133.89,383.58 L134.51,383.74 L135.13,383.89 L135.76,384.05 L136.38,384.20 L137.00,384.35 L137.62,384.49 L138.24,384.64 L138.87,384.78 L139.49,384.92 L140.11,385.07 L140.73,385.20 L141.35,385.34 L141.98,385.48 L142.60,385.61 L143.22,385.75 L143.84,385.88 L144.46,386.01 L145.09,386.14 L145.71,386.27 L146.33,386.39 L146.95,386.52 L147.57,386.64 L148.20,386.77 L148.82,386.89 L149.44,387.01 L150.06,387.13 L150.68,387.24 L151.31,387.36 L151.93,387.48 L152.55,387.59 L153.17,387.70 L153.79,387.82 L154.42,387.93 L155.04,388.04 L155.66,388.15 L156.28,388.25 L156.90,388.36 L157.53,388.47 L158.15,388.57 L158.77,388.68 L159.39,388.78 L160.01,388.88 L160.64,388.98 L161.26,389.08 L161.88,389.18 L162.50,389.28 L163.12,389.38 L163.75,389.47 L164.37,389.57 L164.99,389.66 L165.61,389.76 L166.23,389.85 L166.86,389.94 L167.48,390.03 L168.10,390.12 L168.72,390.21 L169.34,390.30 L169.97,390.39 L170.59,390.48 L171.21,390.56 L171.83,390.65 L172.45,390.74 L173.08,390.82 L173.70,390.90 L174.32,390.99 L174.94,391.07 L175.56,391.15 L176.19,391.23 L176.81,391.31 L177.43,391.39 L178.05,391.47 L178.67,391.55 L179.29,391.63 L179.92,391.70 L180.54,391.78 L181.16,391.86 L181.78,391.93 L182.40,392.01 L183.03,392.08 L183.65,392.15 L184.27,392.23 L184.89,392.30 L185.51,392.37 L186.14,392.44 L186.76,392.51 L187.38,392.58 L188.00,392.65 L188.62,392.72 L189.25,392.79 L189.87,392.86 L190.49,392.92 L191.11,392.99 L191.73,393.06 L192.36,393.12 L192.98,393.19 L193.60,393.25 L194.22,393.32 L194.84,393.38 L195.47,393.45 L196.09,393.51 L196.71,393.57 L197.33,393.63 L197.95,393.69 L198.58,393.76 L199.20,393.82 L199.82,393.88 L200.44,393.94 L201.06,394.00 L201.69,394.05 L202.31,394.11 L202.93,394.17 L203.55,394.23 L204.17,394.29 L204.80,394.34 L205.42,394.40 L206.04,394.46 L206.66,394.51 L207.28,394.57 L207.91,394.62 L208.53,394.68 L209.15,394.73 L209.77,394.79 L210.39,394.84 L211.02,394.89 L211.64,394.95 L212.26,395.00 L212.88,395.05 L213.50,395.10 L214.13,395.15 L214.75,395.20 L215.37,395.25 L215.99,395.31 L216.61,395.36 L217.24,395.40 L217.86,395.45 L218.48,395.50 L219.10,395.55 L219.72,395.60 L220.35,395.65 L220.97,395.70 L221.59,395.74 L222.21,395.79 L222.83,395.84 L223.46,395.89 L224.08,395.93 L224.70,395.98 L225.32,396.02 L225.94,396.07 L226.57,396.11 L227.19,396.16 L227.81,396.20 L228.43,396.25 L229.05,396.29 L229.68,396.34 L230.30,396.38 L230.92,396.42 L231.54,396.47 L232.16,396.51 L232.79,396.55 L233.41,396.59 L234.03,396.64 L234.65,396.68 L235.27,396.72 L235.90,396.76 L236.52,396.80 L237.14,396.84 L237.76,396.88 L238.38,396.92 L239.01,396.96 L239.63,397.00 L240.25,397.04 L240.87,397.08 L241.49,397.12" fill="none" stroke="#5EC44A" stroke-width="1.5" stroke-linejoin="round"/>
<path d="M47.90,410.55 L48.00,406.81 L48.10,403.34 L48.20,400.06 L48.30,396.92 L48.40,393.92 L48.50,391.04 L48.59,388.27 L48.69,385.61 L48.79,383.05 L48.89,380.58 L48.99,378.20 L49.09,375.90 L49.19,373.68 L49.29,371.54 L49.39,369.47 L49.49,367.47 L49.59,365.54 L49.69,363.67 L49.79,361.86 L49.89,360.11 L49.98,358.41 L50.08,356.77 L50.18,355.18 L50.28,353.63 L50.38,352.14 L50.48,350.69 L50.58,349.29 L50.68,347.93 L50.78,346.61 L50.88,345.33 L50.98,344.08 L51.08,342.88 L51.18,341.71 L51.28,340.57 L51.37,339.47 L51.47,338.40 L51.57,337.36 L51.67,336.35 L51.77,335.37 L51.91,334.03 L52.05,332.75 L52.19,331.52 L52.33,330.34 L52.47,329.21 L52.61,328.12 L52.75,327.07 L52.89,326.07 L53.03,325.10 L53.17,324.17 L53.31,323.28 L53.45,322.43 L53.59,321.60 L53.73,320.81 L53.87,320.05 L54.01,319.32 L54.15,318.62 L54.29,317.95 L54.43,317.30 L54.57,316.68 L54.71,316.09 L54.85,315.51 L54.99,314.96 L55.13,314.44 L55.27,313.93 L55.41,313.44 L55.55,312.98 L55.69,312.53 L55.83,312.10 L55.97,311.69 L56.11,311.30 L56.25,310.93 L56.39,310.57 L56.53,310.22 L56.67,309.89 L56.81,309.58 L56.95,309.28 L57.09,308.99 L57.23,308.71 L57.37,308.45 L57.51,308.20 L57.65,307.97 L57.79,307.74 L57.93,307.53 L58.07,307.32 L58.21,307.13 L58.35,306.95 L58.49,306.77 L58.63,306.61 L58.77,306.46 L58.91,306.31 L59.05,306.17 L59.19,306.05 L59.33,305.93 L59.47,305.81 L59.61,305.71 L59.75,305.61 L59.89,305.52 L60.03,305.44 L60.17,305.36 L60.31,305.30 L60.45,305.23 L60.59,305.18 L60.73,305.13 L60.87,305.08 L61.01,305.04 L61.15,305.01 L61.29,304.98 L61.43,304.96 L61.57,304.94 L61.71,304.92 L61.85,304.92 L61.99,304.91 L62.13,304.91 L62.27,304.92 L62.41,304.93 L62.55,304.94 L62.69,304.96 L62.83,304.98 L62.97,305.00 L63.11,305.03 L63.25,305.06 L63.39,305.10 L63.53,305.14 L63.67,305.18 L63.81,305.22 L63.95,305.27 L64.09,305.32 L64.23,305.38 L64.37,305.43 L64.51,305.49 L64.65,305.56 L64.79,305.62 L64.93,305.69 L65.07,305.76 L65.21,305.83 L65.35,305.90 L65.49,305.98 L65.63,306.06 L65.77,306.14 L65.91,306.22 L66.05,306.31 L66.19,306.40 L66.33,306.48 L66.47,306.57 L66.61,306.67 L66.75,306.76 L66.89,306.86 L67.03,306.95 L67.17,307.05 L67.31,307.15 L67.45,307.25 L67.59,307.36 L67.73,307.46 L67.87,307.57 L68.01,307.67 L68.15,307.78 L68.29,307.89 L68.43,308.00 L68.57,308.11 L68.71,308.23 L68.85,308.34 L68.99,308.45 L69.13,308.57 L69.27,308.69 L69.41,308.81 L69.55,308.92 L69.69,309.04 L69.83,309.16 L69.97,309.29 L70.10,309.41 L70.24,309.53 L70.38,309.65 L70.52,309.78 L70.66,309.90 L70.80,310.03 L70.94,310.16 L71.08,310.28 L71.22,310.41 L71.36,310.54 L71.50,310.67 L71.64,310.80 L71.78,310.92 L71.92,311.06 L72.06,311.19 L72.20,311.32 L72.34,311.45 L72.48,311.58 L72.62,311.71 L72.76,311.85 L72.90,311.98 L73.04,312.11 L73.18,312.25 L73.32,312.38 L73.46,312.51 L73.60,312.65 L73.74,312.78 L73.88,312.92 L74.02,313.05 L74.16,313.19 L74.30,313.33 L74.44,313.46 L74.58,313.60 L74.72,313.73 L74.86,313.87 L75.00,314.01 L75.14,314.14 L75.28,314.28 L75.42,314.42 L75.56,314.56 L75.70,314.69 L75.84,314.83 L75.98,314.97 L76.12,315.11 L76.26,315.24 L76.40,315.38 L76.54,315.52 L76.68,315.66 L76.82,315.80 L76.96,315.93 L77.10,316.07 L77.24,316.21 L77.38,316.35 L77.52,316.48 L77.66,316.62 L77.80,316.76 L77.94,316.90 L78.08,317.04 L78.22,317.17 L78.36,317.31 L78.50,317.45 L78.64,317.59 L78.78,317.72 L78.92,317.86 L79.06,318.00 L79.20,318.14 L79.34,318.27 L79.48,318.41 L79.62,318.55 L79.76,318.69 L79.90,318.82 L80.04,318.96 L80.18,319.10 L80.32,319.23 L80.46,319.37 L80.60,319.50 L80.74,319.64 L80.88,319.78 L81.02,319.91 L81.16,320.05 L81.30,320.18 L81.44,320.32 L81.58,320.45 L81.72,320.59 L81.86,320.72 L82.00,320.86 L82.14,320.99 L82.28,321.13 L82.42,321.26 L82.56,321.40 L82.70,321.53 L82.84,321.66 L82.98,321.80 L83.12,321.93 L83.26,322.06 L83.40,322.20 L83.54,322.33 L83.68,322.46 L83.82,322.59 L83.96,322.73 L84.10,322.86 L84.24,322.99 L84.38,323.12 L84.52,323.25 L84.66,323.38 L84.80,323.51 L84.94,323.64 L85.08,323.77 L85.22,323.90 L85.36,324.03 L85.50,324.16 L85.64,324.29 L85.78,324.42 L85.92,324.55 L86.06,324.68 L86.20,324.81 L86.34,324.94 L86.48,325.06 L86.62,325.19 L87.24,325.76 L87.86,326.32 L88.48,326.87 L89.11,327.42 L89.73,327.97 L90.35,328.51 L90.97,329.05 L91.59,329.58 L92.22,330.10 L92.84,330.62 L93.46,331.14 L94.08,331.65 L94.70,332.15 L95.33,332.65 L95.95,333.15 L96.57,333.64 L97.19,334.12 L97.81,334.60 L98.44,335.08 L99.06,335.55 L99.68,336.01 L100.30,336.47 L100.92,336.93 L101.55,337.38 L102.17,337.83 L102.79,338.27 L103.41,338.70 L104.03,339.14 L104.66,339.56 L105.28,339.99 L105.90,340.41 L106.52,340.82 L107.14,341.23 L107.77,341.64 L108.39,342.04 L109.01,342.44 L109.63,342.83 L110.25,343.22 L110.88,343.60 L111.50,343.99 L112.12,344.36 L112.74,344.74 L113.36,345.11 L113.99,345.47 L114.61,345.84 L115.23,346.19 L115.85,346.55 L116.47,346.90 L117.10,347.25 L117.72,347.59 L118.34,347.93 L118.96,348.27 L119.58,348.60 L120.21,348.93 L120.83,349.26 L121.45,349.59 L122.07,349.91 L122.69,350.23 L123.32,350.54 L123.94,350.85 L124.56,351.16 L125.18,351.47 L125.80,351.77 L126.43,352.07 L127.05,352.36 L127.67,352.66 L128.29,352.95 L128.91,353.24 L129.54,353.52 L130.16,353.81 L130.78,354.09 L131.40,354.37 L132.02,354.64 L132.65,354.91 L133.27,355.18 L133.89,355.45 L134.51,355.72 L135.13,355.98 L135.76,356.24 L136.38,356.50 L137.00,356.75 L137.62,357.00 L138.24,357.26 L138.87,357.50 L139.49,357.75 L140.11,358.00 L140.73,358.24 L141.35,358.48 L141.98,358.72 L142.60,358.95 L143.22,359.18 L143.84,359.42 L144.46,359.65 L145.09,359.87 L145.71,360.10 L146.33,360.32 L146.95,360.54 L147.57,360.76 L148.20,360.98 L148.82,361.20 L149.44,361.41 L150.06,361.63 L150.68,361.84 L151.31,362.05 L151.93,362.25 L152.55,362.46 L153.17,362.66 L153.79,362.87 L154.42,363.07 L155.04,363.26 L155.66,363.46 L156.28,363.66 L156.90,363.85 L157.53,364.04 L158.15,364.24 L158.77,364.43 L159.39,364.61 L160.01,364.80 L160.64,364.98 L161.26,365.17 L161.88,365.35 L162.50,365.53 L163.12,365.71 L163.75,365.89 L164.37,366.06 L164.99,366.24 L165.61,366.41 L166.23,366.59 L166.86,366.76 L167.48,366.93 L168.10,367.10 L168.72,367.26 L169.34,367.43 L169.97,367.59 L170.59,367.76 L171.21,367.92 L171.83,368.08 L172.45,368.24 L173.08,368.40 L173.70,368.56 L174.32,368.71 L174.94,368.87 L175.56,369.02 L176.19,369.18 L176.81,369.33 L177.43,369.48 L178.05,369.63 L178.67,369.78 L179.29,369.93 L179.92,370.07 L180.54,370.22 L181.16,370.36 L181.78,370.51 L182.40,370.65 L183.03,370.79 L183.65,370.93 L184.27,371.07 L184.89,371.21 L185.51,371.35 L186.14,371.48 L186.76,371.62 L187.38,371.75 L188.00,371.89 L188.62,372.02 L189.25,372.15 L189.87,372.28 L190.49,372.42 L191.11,372.54 L191.73,372.67 L192.36,372.80 L192.98,372.93 L193.60,373.05 L194.22,373.18 L194.84,373.30 L195.47,373.43 L196.09,373.55 L196.71,373.67 L197.33,373.79 L197.95,373.91 L198.58,374.03 L199.20,374.15 L199.82,374.27 L200.44,374.39 L201.06,374.50 L201.69,374.62 L202.31,374.74 L202.93,374.85 L203.55,374.96 L204.17,375.08 L204.80,375.19 L205.42,375.30 L206.04,375.41 L206.66,375.52 L207.28,375.63 L207.91,375.74 L208.53,375.85 L209.15,375.96 L209.77,376.06 L210.39,376.17 L211.02,376.27 L211.64,376.38 L212.26,376.48 L212.88,376.59 L213.50,376.69 L214.13,376.79 L214.75,376.89 L215.37,376.99 L215.99,377.10 L216.61,377.20 L217.24,377.29 L217.86,377.39 L218.48,377.49 L219.10,377.59 L219.72,377.69 L220.35,377.78 L220.97,377.88 L221.59,377.97 L222.21,378.07 L222.83,378.16 L223.46,378.26 L224.08,378.35 L224.70,378.44 L225.32,378.54 L225.94,378.63 L226.57,378.72 L227.19,378.81 L227.81,378.90 L228.43,378.99 L229.05,379.08 L229.68,379.17 L230.30,379.25 L230.92,379.34 L231.54,379.43 L232.16,379.52 L232.79,379.60 L233.41,379.69 L234.03,379.77 L234.65,379.86 L235.27,379.94 L235.90,380.03 L236.52,380.11 L237.14,380.19 L237.76,380.27 L238.38,380.36 L239.01,380.44 L239.63,380.52 L240.25,380.60 L240.87,380.68 L241.49,380.76" fill="none" stroke="#3A4EB3" stroke-width="1.5" stroke-linejoin="round"/>
<path d="M47.90,410.55 L48.00,408.31 L48.10,406.09 L48.20,403.91 L48.30,401.77 L48.40,399.67 L48.50,397.61 L48.59,395.59 L48.69,393.61 L48.79,391.67 L48.89,389.77 L48.99,387.91 L49.09,386.08 L49.19,384.29 L49.29,382.54 L49.39,380.82 L49.49,379.14 L49.59,377.49 L49.69,375.87 L49.79,374.28 L49.89,372.73 L49.98,371.20 L50.08,369.71 L50.18,368.25 L50.28,366.81 L50.38,365.40 L50.48,364.02 L50.58,362.67 L50.68,361.35 L50.78,360.05 L50.88,358.77 L50.98,357.52 L51.08,356.30 L51.18,355.10 L51.28,353.92 L51.37,352.76 L51.47,351.63 L51.57,350.52 L51.67,349.43 L51.77,348.37 L51.91,346.90 L52.05,345.46 L52.19,344.07 L52.33,342.72 L52.47,341.40 L52.61,340.12 L52.75,338.87 L52.89,337.66 L53.03,336.48 L53.17,335.33 L53.31,334.21 L53.45,333.12 L53.59,332.06 L53.73,331.03 L53.87,330.03 L54.01,329.05 L54.15,328.10 L54.29,327.18 L54.43,326.28 L54.57,325.40 L54.71,324.55 L54.85,323.72 L54.99,322.91 L55.13,322.13 L55.27,321.36 L55.41,320.62 L55.55,319.90 L55.69,319.19 L55.83,318.51 L55.97,317.84 L56.11,317.20 L56.25,316.57 L56.39,315.95 L56.53,315.36 L56.67,314.78 L56.81,314.22 L56.95,313.67 L57.09,313.13 L57.23,312.62 L57.37,312.11 L57.51,311.62 L57.65,311.15 L57.79,310.69 L57.93,310.24 L58.07,309.80 L58.21,309.38 L58.35,308.97 L58.49,308.57 L58.63,308.18 L58.77,307.80 L58.91,307.44 L59.05,307.08 L59.19,306.74 L59.33,306.41 L59.47,306.08 L59.61,305.77 L59.75,305.46 L59.89,305.17 L60.03,304.88 L60.17,304.61 L60.31,304.34 L60.45,304.08 L60.59,303.83 L60.73,303.59 L60.87,303.35 L61.01,303.13 L61.15,302.91 L61.29,302.70 L61.43,302.49 L61.57,302.29 L61.71,302.10 L61.85,301.92 L61.99,301.74 L62.13,301.57 L62.27,301.41 L62.41,301.25 L62.55,301.10 L62.69,300.95 L62.83,300.81 L62.97,300.68 L63.11,300.55 L63.25,300.43 L63.39,300.31 L63.53,300.20 L63.67,300.09 L63.81,299.99 L63.95,299.89 L64.09,299.80 L64.23,299.71 L64.37,299.63 L64.51,299.55 L64.65,299.48 L64.79,299.41 L64.93,299.34 L65.07,299.28 L65.21,299.22 L65.35,299.17 L65.49,299.12 L65.63,299.07 L65.77,299.03 L65.91,298.99 L66.05,298.95 L66.19,298.92 L66.33,298.89 L66.47,298.87 L66.61,298.84 L66.75,298.82 L66.89,298.81 L67.03,298.80 L67.17,298.79 L67.31,298.78 L67.45,298.78 L67.59,298.77 L67.73,298.78 L67.87,298.78 L68.01,298.79 L68.15,298.80 L68.29,298.81 L68.43,298.82 L68.57,298.84 L68.71,298.86 L68.85,298.88 L68.99,298.90 L69.13,298.93 L69.27,298.96 L69.41,298.99 L69.55,299.02 L69.69,299.05 L69.83,299.09 L69.97,299.13 L70.10,299.17 L70.24,299.21 L70.38,299.25 L70.52,299.30 L70.66,299.34 L70.80,299.39 L70.94,299.44 L71.08,299.50 L71.22,299.55 L71.36,299.60 L71.50,299.66 L71.64,299.72 L71.78,299.78 L71.92,299.84 L72.06,299.90 L72.20,299.97 L72.34,300.03 L72.48,300.10 L72.62,300.17 L72.76,300.24 L72.90,300.31 L73.04,300.38 L73.18,300.45 L73.32,300.53 L73.46,300.60 L73.60,300.68 L73.74,300.75 L73.88,300.83 L74.02,300.91 L74.16,300.99 L74.30,301.07 L74.44,301.16 L74.58,301.24 L74.72,301.32 L74.86,301.41 L75.00,301.49 L75.14,301.58 L75.28,301.67 L75.42,301.76 L75.56,301.85 L75.70,301.94 L75.84,302.03 L75.98,302.12 L76.12,302.21 L76.26,302.30 L76.40,302.40 L76.54,302.49 L76.68,302.59 L76.82,302.68 L76.96,302.78 L77.10,302.87 L77.24,302.97 L77.38,303.07 L77.52,303.17 L77.66,303.27 L77.80,303.37 L77.94,303.47 L78.08,303.57 L78.22,303.67 L78.36,303.77 L78.50,303.87 L78.64,303.98 L78.78,304.08 L78.92,304.18 L79.06,304.29 L79.20,304.39 L79.34,304.50 L79.48,304.60 L79.62,304.71 L79.76,304.81 L79.90,304.92 L80.04,305.03 L80.18,305.13 L80.32,305.24 L80.46,305.35 L80.60,305.46 L80.74,305.56 L80.88,305.67 L81.02,305.78 L81.16,305.89 L81.30,306.00 L81.44,306.11 L81.58,306.22 L81.72,306.33 L81.86,306.44 L82.00,306.55 L82.14,306.66 L82.28,306.77 L82.42,306.88 L82.56,307.00 L82.70,307.11 L82.84,307.22 L82.98,307.33 L83.12,307.44 L83.26,307.56 L83.40,307.67 L83.54,307.78 L83.68,307.89 L83.82,308.01 L83.96,308.12 L84.10,308.23 L84.24,308.34 L84.38,308.46 L84.52,308.57 L84.66,308.69 L84.80,308.80 L84.94,308.91 L85.08,309.03 L85.22,309.14 L85.36,309.25 L85.50,309.37 L85.64,309.48 L85.78,309.60 L85.92,309.71 L86.06,309.82 L86.20,309.94 L86.34,310.05 L86.48,310.17 L86.62,310.28 L87.24,310.79 L87.86,311.30 L88.48,311.81 L89.11,312.32 L89.73,312.82 L90.35,313.33 L90.97,313.84 L91.59,314.34 L92.22,314.84 L92.84,315.34 L93.46,315.84 L94.08,316.34 L94.70,316.83 L95.33,317.32 L95.95,317.81 L96.57,318.30 L97.19,318.78 L97.81,319.26 L98.44,319.74 L99.06,320.22 L99.68,320.69 L100.30,321.16 L100.92,321.62 L101.55,322.09 L102.17,322.55 L102.79,323.00 L103.41,323.46 L104.03,323.91 L104.66,324.35 L105.28,324.80 L105.90,325.24 L106.52,325.68 L107.14,326.11 L107.77,326.54 L108.39,326.97 L109.01,327.39 L109.63,327.81 L110.25,328.23 L110.88,328.64 L111.50,329.05 L112.12,329.46 L112.74,329.87 L113.36,330.27 L113.99,330.67 L114.61,331.06 L115.23,331.45 L115.85,331.84 L116.47,332.22 L117.10,332.61 L117.72,332.99 L118.34,333.36 L118.96,333.73 L119.58,334.10 L120.21,334.47 L120.83,334.83 L121.45,335.19 L122.07,335.55 L122.69,335.91 L123.32,336.26 L123.94,336.61 L124.56,336.95 L125.18,337.30 L125.80,337.64 L126.43,337.97 L127.05,338.31 L127.67,338.64 L128.29,338.97 L128.91,339.30 L129.54,339.62 L130.16,339.94 L130.78,340.26 L131.40,340.58 L132.02,340.89 L132.65,341.20 L133.27,341.51 L133.89,341.82 L134.51,342.12 L135.13,342.42 L135.76,342.72 L136.38,343.02 L137.00,343.31 L137.62,343.60 L138.24,343.89 L138.87,344.18 L139.49,344.47 L140.11,344.75 L140.73,345.03 L141.35,345.31 L141.98,345.58 L142.60,345.86 L143.22,346.13 L143.84,346.40 L144.46,346.66 L145.09,346.93 L145.71,347.19 L146.33,347.45 L146.95,347.71 L147.57,347.97 L148.20,348.23 L148.82,348.48 L149.44,348.73 L150.06,348.98 L150.68,349.23 L151.31,349.47 L151.93,349.72 L152.55,349.96 L153.17,350.20 L153.79,350.44 L154.42,350.68 L155.04,350.91 L155.66,351.14 L156.28,351.37 L156.90,351.60 L157.53,351.83 L158.15,352.06 L158.77,352.28 L159.39,352.51 L160.01,352.73 L160.64,352.95 L161.26,353.17 L161.88,353.38 L162.50,353.60 L163.12,353.81 L163.75,354.02 L164.37,354.23 L164.99,354.44 L165.61,354.65 L166.23,354.86 L166.86,355.06 L167.48,355.26 L168.10,355.47 L168.72,355.67 L169.34,355.87 L169.97,356.06 L170.59,356.26 L171.21,356.45 L171.83,356.65 L172.45,356.84 L173.08,357.03 L173.70,357.22 L174.32,357.41 L174.94,357.60 L175.56,357.78 L176.19,357.97 L176.81,358.15 L177.43,358.33 L178.05,358.51 L178.67,358.69 L179.29,358.87 L179.92,359.05 L180.54,359.22 L181.16,359.40 L181.78,359.57 L182.40,359.74 L183.03,359.92 L183.65,360.09 L184.27,360.26 L184.89,360.42 L185.51,360.59 L186.14,360.76 L186.76,360.92 L187.38,361.08 L188.00,361.25 L188.62,361.41 L189.25,361.57 L189.87,361.73 L190.49,361.89 L191.11,362.05 L191.73,362.20 L192.36,362.36 L192.98,362.51 L193.60,362.67 L194.22,362.82 L194.84,362.97 L195.47,363.12 L196.09,363.27 L196.71,363.42 L197.33,363.57 L197.95,363.72 L198.58,363.86 L199.20,364.01 L199.82,364.15 L200.44,364.30 L201.06,364.44 L201.69,364.58 L202.31,364.72 L202.93,364.86 L203.55,365.00 L204.17,365.14 L204.80,365.28 L205.42,365.42 L206.04,365.55 L206.66,365.69 L207.28,365.82 L207.91,365.96 L208.53,366.09 L209.15,366.22 L209.77,366.35 L210.39,366.48 L211.02,366.61 L211.64,366.74 L212.26,366.87 L212.88,367.00 L213.50,367.12 L214.13,367.25 L214.75,367.38 L215.37,367.50 L215.99,367.62 L216.61,367.75 L217.24,367.87 L217.86,367.99 L218.48,368.11 L219.10,368.23 L219.72,368.35 L220.35,368.47 L220.97,368.59 L221.59,368.71 L222.21,368.83 L222.83,368.94 L223.46,369.06 L224.08,369.18 L224.70,369.29 L225.32,369.41 L225.94,369.52 L226.57,369.63 L227.19,369.74 L227.81,369.86 L228.43,369.97 L229.05,370.08 L229.68,370.19 L230.30,370.30 L230.92,370.41 L231.54,370.51 L232.16,370.62 L232.79,370.73 L233.41,370.83 L234.03,370.94 L234.65,371.05 L235.27,371.15 L235.90,371.25 L236.52,371.36 L237.14,371.46 L237.76,371.56 L238.38,371.67 L239.01,371.77 L239.63,371.87 L240.25,371.97 L240.87,372.07 L241.49,372.17" fill="none" stroke="#E8392C" stroke-width="1.5" stroke-linejoin="round"/>
<path d="M47.90,410.55 L48.00,408.83 L48.10,407.12 L48.20,405.43 L48.30,403.77 L48.40,402.13 L48.50,400.52 L48.59,398.95 L48.69,397.39 L48.79,395.87 L48.89,394.37 L48.99,392.89 L49.09,391.45 L49.19,390.02 L49.29,388.63 L49.39,387.25 L49.49,385.90 L49.59,384.58 L49.69,383.27 L49.79,381.99 L49.89,380.73 L49.98,379.50 L50.08,378.28 L50.18,377.08 L50.28,375.91 L50.38,374.75 L50.48,373.61 L50.58,372.50 L50.68,371.40 L50.78,370.32 L50.88,369.25 L50.98,368.21 L51.08,367.18 L51.18,366.17 L51.28,365.17 L51.37,364.20 L51.47,363.23 L51.57,362.29 L51.67,361.35 L51.77,360.44 L51.91,359.17 L52.05,357.93 L52.19,356.72 L52.33,355.53 L52.47,354.37 L52.61,353.24 L52.75,352.13 L52.89,351.05 L53.03,349.99 L53.17,348.95 L53.31,347.94 L53.45,346.94 L53.59,345.97 L53.73,345.02 L53.87,344.09 L54.01,343.18 L54.15,342.28 L54.29,341.41 L54.43,340.56 L54.57,339.72 L54.71,338.90 L54.85,338.10 L54.99,337.31 L55.13,336.54 L55.27,335.79 L55.41,335.05 L55.55,334.32 L55.69,333.62 L55.83,332.92 L55.97,332.24 L56.11,331.58 L56.25,330.92 L56.39,330.28 L56.53,329.66 L56.67,329.04 L56.81,328.44 L56.95,327.85 L57.09,327.28 L57.23,326.71 L57.37,326.15 L57.51,325.61 L57.65,325.08 L57.79,324.56 L57.93,324.04 L58.07,323.54 L58.21,323.05 L58.35,322.57 L58.49,322.10 L58.63,321.63 L58.77,321.18 L58.91,320.73 L59.05,320.30 L59.19,319.87 L59.33,319.45 L59.47,319.04 L59.61,318.64 L59.75,318.24 L59.89,317.86 L60.03,317.48 L60.17,317.10 L60.31,316.74 L60.45,316.38 L60.59,316.03 L60.73,315.69 L60.87,315.35 L61.01,315.02 L61.15,314.70 L61.29,314.38 L61.43,314.07 L61.57,313.77 L61.71,313.47 L61.85,313.18 L61.99,312.89 L62.13,312.61 L62.27,312.33 L62.41,312.06 L62.55,311.80 L62.69,311.54 L62.83,311.28 L62.97,311.04 L63.11,310.79 L63.25,310.55 L63.39,310.32 L63.53,310.09 L63.67,309.87 L63.81,309.65 L63.95,309.43 L64.09,309.22 L64.23,309.01 L64.37,308.81 L64.51,308.61 L64.65,308.42 L64.79,308.23 L64.93,308.04 L65.07,307.86 L65.21,307.68 L65.35,307.51 L65.49,307.34 L65.63,307.17 L65.77,307.01 L65.91,306.85 L66.05,306.69 L66.19,306.54 L66.33,306.39 L66.47,306.25 L66.61,306.10 L66.75,305.97 L66.89,305.83 L67.03,305.70 L67.17,305.57 L67.31,305.44 L67.45,305.31 L67.59,305.19 L67.73,305.07 L67.87,304.96 L68.01,304.85 L68.15,304.74 L68.29,304.63 L68.43,304.52 L68.57,304.42 L68.71,304.32 L68.85,304.23 L68.99,304.13 L69.13,304.04 L69.27,303.95 L69.41,303.86 L69.55,303.78 L69.69,303.69 L69.83,303.61 L69.97,303.54 L70.10,303.46 L70.24,303.39 L70.38,303.31 L70.52,303.24 L70.66,303.18 L70.80,303.11 L70.94,303.05 L71.08,302.99 L71.22,302.93 L71.36,302.87 L71.50,302.81 L71.64,302.76 L71.78,302.71 L71.92,302.65 L72.06,302.61 L72.20,302.56 L72.34,302.51 L72.48,302.47 L72.62,302.43 L72.76,302.39 L72.90,302.35 L73.04,302.31 L73.18,302.28 L73.32,302.24 L73.46,302.21 L73.60,302.18 L73.74,302.15 L73.88,302.12 L74.02,302.09 L74.16,302.07 L74.30,302.04 L74.44,302.02 L74.58,302.00 L74.72,301.98 L74.86,301.96 L75.00,301.95 L75.14,301.93 L75.28,301.91 L75.42,301.90 L75.56,301.89 L75.70,301.88 L75.84,301.87 L75.98,301.86 L76.12,301.85 L76.26,301.84 L76.40,301.84 L76.54,301.83 L76.68,301.83 L76.82,301.83 L76.96,301.83 L77.10,301.83 L77.24,301.83 L77.38,301.83 L77.52,301.83 L77.66,301.84 L77.80,301.84 L77.94,301.85 L78.08,301.86 L78.22,301.86 L78.36,301.87 L78.50,301.88 L78.64,301.89 L78.78,301.90 L78.92,301.91 L79.06,301.93 L79.20,301.94 L79.34,301.96 L79.48,301.97 L79.62,301.99 L79.76,302.00 L79.90,302.02 L80.04,302.04 L80.18,302.06 L80.32,302.08 L80.46,302.10 L80.60,302.12 L80.74,302.14 L80.88,302.17 L81.02,302.19 L81.16,302.22 L81.30,302.24 L81.44,302.27 L81.58,302.29 L81.72,302.32 L81.86,302.35 L82.00,302.37 L82.14,302.40 L82.28,302.43 L82.42,302.46 L82.56,302.49 L82.70,302.52 L82.84,302.56 L82.98,302.59 L83.12,302.62 L83.26,302.65 L83.40,302.69 L83.54,302.72 L83.68,302.76 L83.82,302.79 L83.96,302.83 L84.10,302.87 L84.24,302.90 L84.38,302.94 L84.52,302.98 L84.66,303.02 L84.80,303.06 L84.94,303.10 L85.08,303.14 L85.22,303.18 L85.36,303.22 L85.50,303.26 L85.64,303.30 L85.78,303.34 L85.92,303.38 L86.06,303.43 L86.20,303.47 L86.34,303.51 L86.48,303.56 L86.62,303.60 L87.24,303.81 L87.86,304.02 L88.48,304.23 L89.11,304.45 L89.73,304.68 L90.35,304.92 L90.97,305.16 L91.59,305.40 L92.22,305.65 L92.84,305.90 L93.46,306.16 L94.08,306.42 L94.70,306.68 L95.33,306.94 L95.95,307.21 L96.57,307.49 L97.19,307.76 L97.81,308.04 L98.44,308.31 L99.06,308.59 L99.68,308.88 L100.30,309.16 L100.92,309.45 L101.55,309.73 L102.17,310.02 L102.79,310.31 L103.41,310.60 L104.03,310.89 L104.66,311.18 L105.28,311.47 L105.90,311.76 L106.52,312.05 L107.14,312.35 L107.77,312.64 L108.39,312.93 L109.01,313.23 L109.63,313.52 L110.25,313.81 L110.88,314.10 L111.50,314.40 L112.12,314.69 L112.74,314.98 L113.36,315.27 L113.99,315.56 L114.61,315.85 L115.23,316.14 L115.85,316.43 L116.47,316.72 L117.10,317.01 L117.72,317.30 L118.34,317.59 L118.96,317.87 L119.58,318.16 L120.21,318.44 L120.83,318.73 L121.45,319.01 L122.07,319.29 L122.69,319.57 L123.32,319.85 L123.94,320.13 L124.56,320.41 L125.18,320.69 L125.80,320.97 L126.43,321.24 L127.05,321.52 L127.67,321.79 L128.29,322.06 L128.91,322.33 L129.54,322.60 L130.16,322.87 L130.78,323.14 L131.40,323.41 L132.02,323.68 L132.65,323.94 L133.27,324.21 L133.89,324.47 L134.51,324.73 L135.13,324.99 L135.76,325.25 L136.38,325.51 L137.00,325.77 L137.62,326.02 L138.24,326.28 L138.87,326.53 L139.49,326.78 L140.11,327.04 L140.73,327.29 L141.35,327.54 L141.98,327.78 L142.60,328.03 L143.22,328.28 L143.84,328.52 L144.46,328.77 L145.09,329.01 L145.71,329.25 L146.33,329.49 L146.95,329.73 L147.57,329.97 L148.20,330.20 L148.82,330.44 L149.44,330.68 L150.06,330.91 L150.68,331.14 L151.31,331.37 L151.93,331.60 L152.55,331.83 L153.17,332.06 L153.79,332.29 L154.42,332.51 L155.04,332.74 L155.66,332.96 L156.28,333.18 L156.90,333.41 L157.53,333.63 L158.15,333.85 L158.77,334.06 L159.39,334.28 L160.01,334.50 L160.64,334.71 L161.26,334.93 L161.88,335.14 L162.50,335.35 L163.12,335.56 L163.75,335.77 L164.37,335.98 L164.99,336.19 L165.61,336.40 L166.23,336.60 L166.86,336.81 L167.48,337.01 L168.10,337.21 L168.72,337.42 L169.34,337.62 L169.97,337.82 L170.59,338.02 L171.21,338.21 L171.83,338.41 L172.45,338.61 L173.08,338.80 L173.70,339.00 L174.32,339.19 L174.94,339.38 L175.56,339.57 L176.19,339.76 L176.81,339.95 L177.43,340.14 L178.05,340.33 L178.67,340.52 L179.29,340.70 L179.92,340.89 L180.54,341.07 L181.16,341.25 L181.78,341.44 L182.40,341.62 L183.03,341.80 L183.65,341.98 L184.27,342.16 L184.89,342.34 L185.51,342.51 L186.14,342.69 L186.76,342.86 L187.38,343.04 L188.00,343.21 L188.62,343.39 L189.25,343.56 L189.87,343.73 L190.49,343.90 L191.11,344.07 L191.73,344.24 L192.36,344.41 L192.98,344.57 L193.60,344.74 L194.22,344.91 L194.84,345.07 L195.47,345.24 L196.09,345.40 L196.71,345.56 L197.33,345.72 L197.95,345.89 L198.58,346.05 L199.20,346.21 L199.82,346.37 L200.44,346.52 L201.06,346.68 L201.69,346.84 L202.31,346.99 L202.93,347.15 L203.55,347.30 L204.17,347.46 L204.80,347.61 L205.42,347.76 L206.04,347.92 L206.66,348.07 L207.28,348.22 L207.91,348.37 L208.53,348.52 L209.15,348.66 L209.77,348.81 L210.39,348.96 L211.02,349.11 L211.64,349.25 L212.26,349.40 L212.88,349.54 L213.50,349.68 L214.13,349.83 L214.75,349.97 L215.37,350.11 L215.99,350.25 L216.61,350.39 L217.24,350.53 L217.86,350.67 L218.48,350.81 L219.10,350.95 L219.72,351.09 L220.35,351.23 L220.97,351.36 L221.59,351.50 L222.21,351.63 L222.83,351.77 L223.46,351.90 L224.08,352.03 L224.70,352.17 L225.32,352.30 L225.94,352.43 L226.57,352.56 L227.19,352.69 L227.81,352.82 L228.43,352.95 L229.05,353.08 L229.68,353.21 L230.30,353.34 L230.92,353.46 L231.54,353.59 L232.16,353.72 L232.79,353.84 L233.41,353.97 L234.03,354.09 L234.65,354.22 L235.27,354.34 L235.90,354.46 L236.52,354.59 L237.14,354.71 L237.76,354.83 L238.38,354.95 L239.01,355.07 L239.63,355.19 L240.25,355.31 L240.87,355.43 L241.49,355.55" fill="none" stroke="#000000" stroke-width="1.5" stroke-linejoin="round"/>
<circle cx="47.90" cy="410.55" r="2.90" fill="#9A4DB5"/>
<circle cx="49.11" cy="380.16" r="2.90" fill="#9A4DB5"/>
<circle cx="50.32" cy="369.11" r="2.90" fill="#9A4DB5"/>
<circle cx="57.58" cy="345.90" r="2.90" fill="#9A4DB5"/>
<path d="M72.10,364.87 L72.10,369.47 M69.30,364.87 L74.90,364.87 M69.30,369.47 L74.90,369.47" stroke="#9A4DB5" stroke-width="1.75" fill="none"/>
<circle cx="72.10" cy="367.17" r="2.90" fill="#9A4DB5"/>
<circle cx="96.30" cy="386.88" r="2.90" fill="#9A4DB5"/>
<circle cx="144.70" cy="397.93" r="2.90" fill="#9A4DB5"/>
<circle cx="241.49" cy="401.34" r="2.90" fill="#9A4DB5"/>
<rect x="44.90" y="407.55" width="6.00" height="6.00" fill="#5EC44A"/>
<rect x="45.49" y="370.71" width="6.00" height="6.00" fill="#5EC44A"/>
<rect x="46.11" y="344.92" width="6.00" height="6.00" fill="#5EC44A"/>
<rect x="48.90" y="321.71" width="6.00" height="6.00" fill="#5EC44A"/>
<rect x="54.58" y="319.69" width="6.00" height="6.00" fill="#5EC44A"/>
<rect x="69.10" y="346.21" width="6.00" height="6.00" fill="#5EC44A"/>
<rect x="93.30" y="366.66" width="6.00" height="6.00" fill="#5EC44A"/>
<rect x="141.70" y="385.54" width="6.00" height="6.00" fill="#5EC44A"/>
<rect x="238.49" y="390.97" width="6.00" height="6.00" fill="#5EC44A"/>
<path d="M47.90,406.95 L51.32,413.25 L44.48,413.25Z" fill="#3A4EB3"/>
<path d="M49.11,353.53 L52.53,359.83 L45.69,359.83Z" fill="#3A4EB3"/>
<path d="M57.58,298.82 L61.00,305.12 L54.16,305.12Z" fill="#3A4EB3"/>
<path d="M72.10,309.98 L72.10,324.71 M69.30,309.98 L74.90,309.98 M69.30,324.71 L74.90,324.71" stroke="#3A4EB3" stroke-width="1.75" fill="none"/>
<path d="M72.10,313.74 L75.52,320.04 L68.68,320.04Z" fill="#3A4EB3"/>
<path d="M96.30,326.92 L96.30,334.29 M93.50,326.92 L99.10,326.92 M93.50,334.29 L99.10,334.29" stroke="#3A4EB3" stroke-width="1.75" fill="none"/>
<path d="M96.30,327.01 L99.72,333.31 L92.88,333.31Z" fill="#3A4EB3"/>
<path d="M144.70,359.52 L148.12,365.82 L141.28,365.82Z" fill="#3A4EB3"/>
<path d="M241.49,375.18 L244.91,381.48 L238.07,381.48Z" fill="#3A4EB3"/>
<path d="M47.90,414.15 L51.32,407.85 L44.48,407.85Z" fill="#E8392C"/>
<path d="M49.45,380.99 L52.87,374.69 L46.03,374.69Z" fill="#E8392C"/>
<path d="M57.58,300.40 L57.58,313.29 M54.78,300.40 L60.38,300.40 M54.78,313.29 L60.38,313.29" stroke="#E8392C" stroke-width="1.75" fill="none"/>
<path d="M57.58,310.45 L61.00,304.15 L54.16,304.15Z" fill="#E8392C"/>
<path d="M96.30,319.84 L99.72,313.54 L92.88,313.54Z" fill="#E8392C"/>
<path d="M144.70,344.15 L148.12,337.85 L141.28,337.85Z" fill="#E8392C"/>
<path d="M193.10,369.02 L196.52,362.72 L189.68,362.72Z" fill="#E8392C"/>
<path d="M241.49,380.63 L244.91,374.33 L238.07,374.33Z" fill="#E8392C"/>
<path d="M47.90,407.45 L51.00,410.55 L47.90,413.65 L44.80,410.55Z" fill="#000000"/>
<path d="M49.11,394.56 L52.21,397.66 L49.11,400.76 L46.01,397.66Z" fill="#000000"/>
<path d="M50.32,378.16 L53.42,381.26 L50.32,384.36 L47.22,381.26Z" fill="#000000"/>
<path d="M52.74,352.65 L55.84,355.75 L52.74,358.85 L49.64,355.75Z" fill="#000000"/>
<path d="M57.58,323.64 L60.68,326.74 L57.58,329.84 L54.48,326.74Z" fill="#000000"/>
<path d="M72.10,301.63 L75.20,304.73 L72.10,307.83 L69.00,304.73Z" fill="#000000"/>
<path d="M96.30,297.27 L96.30,310.53 M93.50,297.27 L99.10,297.27 M93.50,310.53 L99.10,310.53" stroke="#000000" stroke-width="1.75" fill="none"/>
<path d="M96.30,300.80 L99.40,303.90 L96.30,307.00 L93.20,303.90Z" fill="#000000"/>
<path d="M144.70,329.72 L147.80,332.82 L144.70,335.92 L141.60,332.82Z" fill="#000000"/>
<path d="M193.10,338.01 L196.20,341.11 L193.10,344.21 L190.00,341.11Z" fill="#000000"/>
<path d="M241.49,352.43 L241.49,362.57 M238.69,352.43 L244.29,352.43 M238.69,362.57 L244.29,362.57" stroke="#000000" stroke-width="1.75" fill="none"/>
<path d="M241.49,354.40 L244.59,357.50 L241.49,360.60 L238.39,357.50Z" fill="#000000"/>
<text transform="translate(18.80,342.00) rotate(-90)" text-anchor="middle" font-weight="bold" font-size="11.3" stroke="#000" stroke-width="0.3">Vi (&#956;M min<tspan dy="-4.3" font-size="7.68">-1</tspan><tspan dy="4.3">)</tspan></text>
<text x="150.60" y="441.90" text-anchor="middle" font-weight="bold" font-size="11.7" stroke="#000" stroke-width="0.3">[THF] (&#956;M)</text>
<line x1="268.30" y1="282.40" x2="283.20" y2="282.40" stroke="#9A4DB5" stroke-width="1.7"/>
<circle cx="275.75" cy="282.40" r="2.90" fill="#9A4DB5"/>
<text transform="translate(291.50,285.50) scale(0.945,1)" font-size="11.7" fill="#1a1a1a" stroke="#1a1a1a" stroke-width="0.3">pH 6.5</text>
<line x1="268.30" y1="298.30" x2="283.20" y2="298.30" stroke="#5EC44A" stroke-width="1.7"/>
<rect x="272.75" y="295.30" width="6.00" height="6.00" fill="#5EC44A"/>
<text transform="translate(291.50,301.40) scale(0.945,1)" font-size="11.7" fill="#1a1a1a" stroke="#1a1a1a" stroke-width="0.3">p H 7.0</text>
<line x1="268.30" y1="315.50" x2="283.20" y2="315.50" stroke="#3A4EB3" stroke-width="1.7"/>
<path d="M275.75,311.90 L279.17,318.20 L272.33,318.20Z" fill="#3A4EB3"/>
<text transform="translate(291.50,318.60) scale(0.945,1)" font-size="11.7" fill="#1a1a1a" stroke="#1a1a1a" stroke-width="0.3">pH 8.0</text>
<line x1="268.30" y1="333.40" x2="283.20" y2="333.40" stroke="#E8392C" stroke-width="1.7"/>
<path d="M275.75,337.00 L279.17,330.70 L272.33,330.70Z" fill="#E8392C"/>
<text transform="translate(291.50,336.50) scale(0.945,1)" font-size="11.7" fill="#1a1a1a" stroke="#1a1a1a" stroke-width="0.3">pH 8.5</text>
<line x1="268.30" y1="351.40" x2="283.20" y2="351.40" stroke="#000000" stroke-width="1.7"/>
<path d="M275.75,348.30 L278.85,351.40 L275.75,354.50 L272.65,351.40Z" fill="#000000"/>
<text transform="translate(291.50,354.50) scale(0.945,1)" font-size="11.7" fill="#1a1a1a" stroke="#1a1a1a" stroke-width="0.3">pH 9 .5</text>
<text transform="translate(364.7,246.8) scale(0.88,1)" font-size="19.6" font-weight="bold">D</text>
<text transform="translate(480.40,264.00) scale(0.935,1)" font-size="17.8" stroke="#000" stroke-width="0.2"><tspan font-style="italic">At</tspan>SHMT4</text>
<text transform="translate(537.60,387.60) scale(0.94,1)" text-anchor="middle" font-size="12.8" stroke="#000" stroke-width="0.2">[THF]=30, 30, 50, 80,</text>
<text transform="translate(537.80,400.30) scale(0.96,1)" text-anchor="middle" font-size="12.4" stroke="#000" stroke-width="0.2">or 100 &#956;M</text>
<path d="M405.30,272.80 L405.30,411.80 L614.30,411.80" fill="none" stroke="#222" stroke-width="1.8"/>
<line x1="401.50" y1="411.80" x2="405.30" y2="411.80" stroke="#111" stroke-width="1.6"/>
<text transform="translate(400.30,414.40) scale(0.92,1)" text-anchor="end" font-weight="bold" font-size="10.6" stroke="#000" stroke-width="0.3">0</text>
<line x1="401.50" y1="365.47" x2="405.30" y2="365.47" stroke="#111" stroke-width="1.6"/>
<text transform="translate(400.30,368.07) scale(0.92,1)" text-anchor="end" font-weight="bold" font-size="10.6" stroke="#000" stroke-width="0.3">50</text>
<line x1="401.50" y1="319.13" x2="405.30" y2="319.13" stroke="#111" stroke-width="1.6"/>
<text transform="translate(400.30,321.73) scale(0.92,1)" text-anchor="end" font-weight="bold" font-size="10.6" stroke="#000" stroke-width="0.3">100</text>
<line x1="401.50" y1="272.80" x2="405.30" y2="272.80" stroke="#111" stroke-width="1.6"/>
<text transform="translate(400.30,275.40) scale(0.92,1)" text-anchor="end" font-weight="bold" font-size="10.6" stroke="#000" stroke-width="0.3">150</text>
<text transform="translate(405.30,426.60) scale(0.92,1)" text-anchor="middle" font-weight="bold" font-size="10.6" stroke="#000" stroke-width="0.3">0</text>
<line x1="448.61" y1="411.80" x2="448.61" y2="415.70" stroke="#111" stroke-width="1.6"/>
<text transform="translate(448.61,426.60) scale(0.92,1)" text-anchor="middle" font-weight="bold" font-size="10.6" stroke="#000" stroke-width="0.3">5</text>
<line x1="491.91" y1="411.80" x2="491.91" y2="415.70" stroke="#111" stroke-width="1.6"/>
<text transform="translate(491.91,426.60) scale(0.92,1)" text-anchor="middle" font-weight="bold" font-size="10.6" stroke="#000" stroke-width="0.3">10</text>
<line x1="535.22" y1="411.80" x2="535.22" y2="415.70" stroke="#111" stroke-width="1.6"/>
<text transform="translate(535.22,426.60) scale(0.92,1)" text-anchor="middle" font-weight="bold" font-size="10.6" stroke="#000" stroke-width="0.3">15</text>
<line x1="578.53" y1="411.80" x2="578.53" y2="415.70" stroke="#111" stroke-width="1.6"/>
<text transform="translate(578.53,426.60) scale(0.92,1)" text-anchor="middle" font-weight="bold" font-size="10.6" stroke="#000" stroke-width="0.3">20</text>
<path d="M405.30,411.80 L405.41,411.63 L405.51,411.41 L405.62,411.18 L405.73,410.94 L405.83,410.69 L405.94,410.43 L406.05,410.17 L406.15,409.90 L406.26,409.63 L406.37,409.36 L406.47,409.08 L406.58,408.80 L406.69,408.52 L406.79,408.24 L406.90,407.96 L407.01,407.68 L407.11,407.40 L407.22,407.11 L407.33,406.83 L407.43,406.54 L407.54,406.26 L407.65,405.97 L407.75,405.69 L407.86,405.40 L407.97,405.12 L408.07,404.84 L408.18,404.55 L408.28,404.27 L408.39,403.99 L408.50,403.71 L408.60,403.43 L408.71,403.15 L408.82,402.87 L408.92,402.59 L409.03,402.32 L409.14,402.04 L409.24,401.77 L409.35,401.49 L409.46,401.22 L409.65,400.74 L409.83,400.27 L410.02,399.80 L410.21,399.33 L410.40,398.87 L410.59,398.41 L410.77,397.95 L410.96,397.50 L411.15,397.05 L411.34,396.61 L411.53,396.17 L411.71,395.74 L411.90,395.30 L412.09,394.88 L412.28,394.45 L412.47,394.03 L412.65,393.62 L412.84,393.21 L413.03,392.80 L413.22,392.40 L413.41,392.00 L413.59,391.61 L413.78,391.21 L413.97,390.83 L414.16,390.44 L414.35,390.07 L414.53,389.69 L414.72,389.32 L414.91,388.95 L415.10,388.59 L415.29,388.23 L415.47,387.87 L415.66,387.52 L415.85,387.17 L416.04,386.82 L416.23,386.48 L416.41,386.14 L416.60,385.81 L416.79,385.48 L416.98,385.15 L417.17,384.82 L417.35,384.50 L417.54,384.18 L417.73,383.87 L417.92,383.56 L418.11,383.25 L418.29,382.94 L418.48,382.64 L418.67,382.34 L418.86,382.04 L419.05,381.75 L419.23,381.46 L419.42,381.17 L419.61,380.89 L419.80,380.61 L419.99,380.33 L420.18,380.05 L420.36,379.78 L420.55,379.51 L420.74,379.24 L420.93,378.98 L421.12,378.71 L421.30,378.45 L421.49,378.20 L421.68,377.94 L421.87,377.69 L422.06,377.44 L422.24,377.19 L422.43,376.95 L422.62,376.70 L422.81,376.46 L423.00,376.22 L423.18,375.99 L423.37,375.76 L423.56,375.52 L423.75,375.29 L423.94,375.07 L424.12,374.84 L424.31,374.62 L424.50,374.40 L424.69,374.18 L424.88,373.96 L425.06,373.75 L425.25,373.54 L425.44,373.33 L425.63,373.12 L425.82,372.91 L426.00,372.71 L426.19,372.50 L426.38,372.30 L426.57,372.10 L426.76,371.91 L426.94,371.71 L427.13,371.52 L427.32,371.33 L427.51,371.14 L427.70,370.95 L427.88,370.76 L428.07,370.58 L428.26,370.39 L428.45,370.21 L428.64,370.03 L428.82,369.85 L429.01,369.67 L429.20,369.50 L429.39,369.32 L429.58,369.15 L429.76,368.98 L429.95,368.81 L430.14,368.64 L430.33,368.47 L430.52,368.31 L430.70,368.15 L430.89,367.98 L431.08,367.82 L431.27,367.66 L431.46,367.50 L431.64,367.35 L431.83,367.19 L432.02,367.04 L432.21,366.88 L432.40,366.73 L432.58,366.58 L432.77,366.43 L432.96,366.28 L433.15,366.14 L433.34,365.99 L433.52,365.84 L433.71,365.70 L433.90,365.56 L434.09,365.42 L434.28,365.28 L434.47,365.14 L434.65,365.00 L434.84,364.86 L435.03,364.73 L435.22,364.59 L435.41,364.46 L435.59,364.33 L435.78,364.20 L435.97,364.07 L436.16,363.94 L436.35,363.81 L436.53,363.68 L436.72,363.55 L436.91,363.43 L437.10,363.30 L437.29,363.18 L437.47,363.06 L437.66,362.94 L437.85,362.82 L438.04,362.70 L438.23,362.58 L438.41,362.46 L438.60,362.34 L438.79,362.23 L438.98,362.11 L439.17,362.00 L439.35,361.88 L439.54,361.77 L439.73,361.66 L439.92,361.55 L440.11,361.44 L440.29,361.33 L440.48,361.22 L440.67,361.11 L440.86,361.00 L441.05,360.89 L441.23,360.79 L441.42,360.68 L441.61,360.58 L441.80,360.48 L441.99,360.37 L442.17,360.27 L442.36,360.17 L442.55,360.07 L442.74,359.97 L442.93,359.87 L443.11,359.77 L443.30,359.67 L443.49,359.58 L443.68,359.48 L443.87,359.39 L444.05,359.29 L444.24,359.20 L444.43,359.10 L444.62,359.01 L444.81,358.92 L444.99,358.82 L445.18,358.73 L445.37,358.64 L445.56,358.55 L445.75,358.46 L445.93,358.37 L446.12,358.29 L446.31,358.20 L446.50,358.11 L446.69,358.02 L446.87,357.94 L447.71,357.56 L448.55,357.20 L449.38,356.84 L450.22,356.50 L451.05,356.16 L451.89,355.84 L452.72,355.52 L453.56,355.21 L454.40,354.91 L455.23,354.62 L456.07,354.33 L456.90,354.06 L457.74,353.79 L458.57,353.52 L459.41,353.26 L460.25,353.01 L461.08,352.77 L461.92,352.53 L462.75,352.29 L463.59,352.07 L464.42,351.84 L465.26,351.62 L466.10,351.41 L466.93,351.20 L467.77,351.00 L468.60,350.80 L469.44,350.61 L470.27,350.42 L471.11,350.23 L471.95,350.05 L472.78,349.87 L473.62,349.69 L474.45,349.52 L475.29,349.35 L476.12,349.19 L476.96,349.03 L477.79,348.87 L478.63,348.72 L479.47,348.56 L480.30,348.42 L481.14,348.27 L481.97,348.13 L482.81,347.99 L483.64,347.85 L484.48,347.71 L485.32,347.58 L486.15,347.45 L486.99,347.32 L487.82,347.20 L488.66,347.07 L489.49,346.95 L490.33,346.83 L491.17,346.72 L492.00,346.60 L492.84,346.49 L493.67,346.38 L494.51,346.27 L495.34,346.16 L496.18,346.06 L497.02,345.95 L497.85,345.85 L498.69,345.75 L499.52,345.65 L500.36,345.55 L501.19,345.46 L502.03,345.36 L502.86,345.27 L503.70,345.18 L504.54,345.09 L505.37,345.00 L506.21,344.92 L507.04,344.83 L507.88,344.74 L508.71,344.66 L509.55,344.58 L510.39,344.50 L511.22,344.42 L512.06,344.34 L512.89,344.26 L513.73,344.19 L514.56,344.11 L515.40,344.04 L516.24,343.97 L517.07,343.89 L517.91,343.82 L518.74,343.75 L519.58,343.68 L520.41,343.62 L521.25,343.55 L522.09,343.48 L522.92,343.42 L523.76,343.35 L524.59,343.29 L525.43,343.23 L526.26,343.17 L527.10,343.10 L527.94,343.04 L528.77,342.98 L529.61,342.93 L530.44,342.87 L531.28,342.81 L532.11,342.75 L532.95,342.70 L533.78,342.64 L534.62,342.59 L535.46,342.54 L536.29,342.48 L537.13,342.43 L537.96,342.38 L538.80,342.33 L539.63,342.28 L540.47,342.23 L541.31,342.18 L542.14,342.13 L542.98,342.08 L543.81,342.03 L544.65,341.99 L545.48,341.94 L546.32,341.89 L547.16,341.85 L547.99,341.80 L548.83,341.76 L549.66,341.71 L550.50,341.67 L551.33,341.63 L552.17,341.58 L553.01,341.54 L553.84,341.50 L554.68,341.46 L555.51,341.42 L556.35,341.38 L557.18,341.34 L558.02,341.30 L558.86,341.26 L559.69,341.22 L560.53,341.18 L561.36,341.15 L562.20,341.11 L563.03,341.07 L563.87,341.04 L564.70,341.00 L565.54,340.96 L566.38,340.93 L567.21,340.89 L568.05,340.86 L568.88,340.82 L569.72,340.79 L570.55,340.76 L571.39,340.72 L572.23,340.69 L573.06,340.66 L573.90,340.62 L574.73,340.59 L575.57,340.56 L576.40,340.53 L577.24,340.50 L578.08,340.47 L578.91,340.44 L579.75,340.41 L580.58,340.38 L581.42,340.35 L582.25,340.32 L583.09,340.29 L583.93,340.26 L584.76,340.23 L585.60,340.20 L586.43,340.17 L587.27,340.15 L588.10,340.12 L588.94,340.09 L589.78,340.06 L590.61,340.04 L591.45,340.01 L592.28,339.98 L593.12,339.96 L593.95,339.93 L594.79,339.91 L595.62,339.88 L596.46,339.86 L597.30,339.83 L598.13,339.81 L598.97,339.78 L599.80,339.76 L600.64,339.73 L601.47,339.71 L602.31,339.69 L603.15,339.66 L603.98,339.64 L604.82,339.62 L605.65,339.59 L606.49,339.57 L607.32,339.55 L608.16,339.52 L609.00,339.50 L609.83,339.48 L610.67,339.46 L611.50,339.44 L612.34,339.42 L613.17,339.39" fill="none" stroke="#9B55B5" stroke-width="1.5" stroke-linejoin="round"/>
<path d="M405.30,411.80 L405.41,409.98 L405.51,408.15 L405.62,406.37 L405.73,404.64 L405.83,402.97 L405.94,401.36 L406.05,399.80 L406.15,398.30 L406.26,396.85 L406.37,395.45 L406.47,394.09 L406.58,392.78 L406.69,391.52 L406.79,390.30 L406.90,389.11 L407.01,387.97 L407.11,386.86 L407.22,385.79 L407.33,384.75 L407.43,383.74 L407.54,382.76 L407.65,381.82 L407.75,380.90 L407.86,380.00 L407.97,379.14 L408.07,378.29 L408.18,377.48 L408.28,376.68 L408.39,375.91 L408.50,375.15 L408.60,374.42 L408.71,373.71 L408.82,373.01 L408.92,372.34 L409.03,371.68 L409.14,371.04 L409.24,370.41 L409.35,369.80 L409.46,369.20 L409.65,368.19 L409.83,367.21 L410.02,366.28 L410.21,365.38 L410.40,364.52 L410.59,363.69 L410.77,362.89 L410.96,362.12 L411.15,361.38 L411.34,360.66 L411.53,359.98 L411.71,359.31 L411.90,358.67 L412.09,358.05 L412.28,357.45 L412.47,356.87 L412.65,356.30 L412.84,355.76 L413.03,355.23 L413.22,354.72 L413.41,354.22 L413.59,353.74 L413.78,353.28 L413.97,352.82 L414.16,352.38 L414.35,351.95 L414.53,351.54 L414.72,351.13 L414.91,350.74 L415.10,350.35 L415.29,349.98 L415.47,349.61 L415.66,349.26 L415.85,348.91 L416.04,348.58 L416.23,348.25 L416.41,347.93 L416.60,347.61 L416.79,347.31 L416.98,347.01 L417.17,346.72 L417.35,346.44 L417.54,346.16 L417.73,345.89 L417.92,345.62 L418.11,345.36 L418.29,345.11 L418.48,344.86 L418.67,344.61 L418.86,344.38 L419.05,344.14 L419.23,343.91 L419.42,343.69 L419.61,343.47 L419.80,343.26 L419.99,343.05 L420.18,342.84 L420.36,342.64 L420.55,342.44 L420.74,342.24 L420.93,342.05 L421.12,341.87 L421.30,341.68 L421.49,341.50 L421.68,341.33 L421.87,341.15 L422.06,340.98 L422.24,340.81 L422.43,340.65 L422.62,340.49 L422.81,340.33 L423.00,340.17 L423.18,340.02 L423.37,339.87 L423.56,339.72 L423.75,339.57 L423.94,339.43 L424.12,339.29 L424.31,339.15 L424.50,339.01 L424.69,338.88 L424.88,338.75 L425.06,338.62 L425.25,338.49 L425.44,338.36 L425.63,338.24 L425.82,338.12 L426.00,337.99 L426.19,337.88 L426.38,337.76 L426.57,337.64 L426.76,337.53 L426.94,337.42 L427.13,337.31 L427.32,337.20 L427.51,337.09 L427.70,336.99 L427.88,336.88 L428.07,336.78 L428.26,336.68 L428.45,336.58 L428.64,336.48 L428.82,336.39 L429.01,336.29 L429.20,336.20 L429.39,336.10 L429.58,336.01 L429.76,335.92 L429.95,335.83 L430.14,335.74 L430.33,335.66 L430.52,335.57 L430.70,335.48 L430.89,335.40 L431.08,335.32 L431.27,335.24 L431.46,335.16 L431.64,335.08 L431.83,335.00 L432.02,334.92 L432.21,334.84 L432.40,334.77 L432.58,334.69 L432.77,334.62 L432.96,334.55 L433.15,334.47 L433.34,334.40 L433.52,334.33 L433.71,334.26 L433.90,334.19 L434.09,334.12 L434.28,334.06 L434.47,333.99 L434.65,333.92 L434.84,333.86 L435.03,333.79 L435.22,333.73 L435.41,333.67 L435.59,333.61 L435.78,333.54 L435.97,333.48 L436.16,333.42 L436.35,333.36 L436.53,333.30 L436.72,333.25 L436.91,333.19 L437.10,333.13 L437.29,333.07 L437.47,333.02 L437.66,332.96 L437.85,332.91 L438.04,332.85 L438.23,332.80 L438.41,332.75 L438.60,332.70 L438.79,332.64 L438.98,332.59 L439.17,332.54 L439.35,332.49 L439.54,332.44 L439.73,332.39 L439.92,332.34 L440.11,332.29 L440.29,332.25 L440.48,332.20 L440.67,332.15 L440.86,332.10 L441.05,332.06 L441.23,332.01 L441.42,331.97 L441.61,331.92 L441.80,331.88 L441.99,331.83 L442.17,331.79 L442.36,331.75 L442.55,331.70 L442.74,331.66 L442.93,331.62 L443.11,331.58 L443.30,331.54 L443.49,331.49 L443.68,331.45 L443.87,331.41 L444.05,331.37 L444.24,331.33 L444.43,331.30 L444.62,331.26 L444.81,331.22 L444.99,331.18 L445.18,331.14 L445.37,331.10 L445.56,331.07 L445.75,331.03 L445.93,330.99 L446.12,330.96 L446.31,330.92 L446.50,330.89 L446.69,330.85 L446.87,330.82 L447.71,330.66 L448.55,330.52 L449.38,330.37 L450.22,330.24 L451.05,330.11 L451.89,329.98 L452.72,329.85 L453.56,329.73 L454.40,329.62 L455.23,329.51 L456.07,329.40 L456.90,329.29 L457.74,329.19 L458.57,329.09 L459.41,328.99 L460.25,328.90 L461.08,328.81 L461.92,328.72 L462.75,328.64 L463.59,328.55 L464.42,328.47 L465.26,328.39 L466.10,328.31 L466.93,328.24 L467.77,328.17 L468.60,328.09 L469.44,328.02 L470.27,327.96 L471.11,327.89 L471.95,327.83 L472.78,327.76 L473.62,327.70 L474.45,327.64 L475.29,327.58 L476.12,327.52 L476.96,327.47 L477.79,327.41 L478.63,327.36 L479.47,327.31 L480.30,327.25 L481.14,327.20 L481.97,327.15 L482.81,327.11 L483.64,327.06 L484.48,327.01 L485.32,326.97 L486.15,326.92 L486.99,326.88 L487.82,326.84 L488.66,326.79 L489.49,326.75 L490.33,326.71 L491.17,326.67 L492.00,326.63 L492.84,326.59 L493.67,326.56 L494.51,326.52 L495.34,326.48 L496.18,326.45 L497.02,326.41 L497.85,326.38 L498.69,326.35 L499.52,326.31 L500.36,326.28 L501.19,326.25 L502.03,326.22 L502.86,326.19 L503.70,326.16 L504.54,326.13 L505.37,326.10 L506.21,326.07 L507.04,326.04 L507.88,326.01 L508.71,325.98 L509.55,325.96 L510.39,325.93 L511.22,325.90 L512.06,325.88 L512.89,325.85 L513.73,325.83 L514.56,325.80 L515.40,325.78 L516.24,325.75 L517.07,325.73 L517.91,325.71 L518.74,325.68 L519.58,325.66 L520.41,325.64 L521.25,325.62 L522.09,325.59 L522.92,325.57 L523.76,325.55 L524.59,325.53 L525.43,325.51 L526.26,325.49 L527.10,325.47 L527.94,325.45 L528.77,325.43 L529.61,325.41 L530.44,325.39 L531.28,325.37 L532.11,325.36 L532.95,325.34 L533.78,325.32 L534.62,325.30 L535.46,325.28 L536.29,325.27 L537.13,325.25 L537.96,325.23 L538.80,325.22 L539.63,325.20 L540.47,325.18 L541.31,325.17 L542.14,325.15 L542.98,325.14 L543.81,325.12 L544.65,325.11 L545.48,325.09 L546.32,325.08 L547.16,325.06 L547.99,325.05 L548.83,325.03 L549.66,325.02 L550.50,325.00 L551.33,324.99 L552.17,324.98 L553.01,324.96 L553.84,324.95 L554.68,324.93 L555.51,324.92 L556.35,324.91 L557.18,324.90 L558.02,324.88 L558.86,324.87 L559.69,324.86 L560.53,324.85 L561.36,324.83 L562.20,324.82 L563.03,324.81 L563.87,324.80 L564.70,324.79 L565.54,324.77 L566.38,324.76 L567.21,324.75 L568.05,324.74 L568.88,324.73 L569.72,324.72 L570.55,324.71 L571.39,324.70 L572.23,324.68 L573.06,324.67 L573.90,324.66 L574.73,324.65 L575.57,324.64 L576.40,324.63 L577.24,324.62 L578.08,324.61 L578.91,324.60 L579.75,324.59 L580.58,324.58 L581.42,324.57 L582.25,324.56 L583.09,324.55 L583.93,324.55 L584.76,324.54 L585.60,324.53 L586.43,324.52 L587.27,324.51 L588.10,324.50 L588.94,324.49 L589.78,324.48 L590.61,324.47 L591.45,324.46 L592.28,324.46 L593.12,324.45 L593.95,324.44 L594.79,324.43 L595.62,324.42 L596.46,324.41 L597.30,324.41 L598.13,324.40 L598.97,324.39 L599.80,324.38 L600.64,324.37 L601.47,324.37 L602.31,324.36 L603.15,324.35 L603.98,324.34 L604.82,324.34 L605.65,324.33 L606.49,324.32 L607.32,324.31 L608.16,324.31 L609.00,324.30 L609.83,324.29 L610.67,324.29 L611.50,324.28 L612.34,324.27 L613.17,324.26" fill="none" stroke="#5FC24A" stroke-width="1.5" stroke-linejoin="round"/>
<path d="M405.30,411.80 L405.41,405.51 L405.51,400.12 L405.62,395.45 L405.73,391.35 L405.83,387.72 L405.94,384.48 L406.05,381.57 L406.15,378.94 L406.26,376.55 L406.37,374.36 L406.47,372.35 L406.58,370.50 L406.69,368.79 L406.79,367.19 L406.90,365.70 L407.01,364.31 L407.11,363.01 L407.22,361.78 L407.33,360.63 L407.43,359.54 L407.54,358.51 L407.65,357.53 L407.75,356.60 L407.86,355.71 L407.97,354.87 L408.07,354.06 L408.18,353.30 L408.28,352.56 L408.39,351.85 L408.50,351.18 L408.60,350.53 L408.71,349.90 L408.82,349.30 L408.92,348.72 L409.03,348.16 L409.14,347.62 L409.24,347.10 L409.35,346.59 L409.46,346.11 L409.65,345.28 L409.83,344.50 L410.02,343.77 L410.21,343.06 L410.40,342.40 L410.59,341.76 L410.77,341.15 L410.96,340.57 L411.15,340.01 L411.34,339.48 L411.53,338.97 L411.71,338.47 L411.90,338.00 L412.09,337.55 L412.28,337.11 L412.47,336.68 L412.65,336.27 L412.84,335.88 L413.03,335.50 L413.22,335.13 L413.41,334.77 L413.59,334.43 L413.78,334.09 L413.97,333.77 L414.16,333.45 L414.35,333.14 L414.53,332.84 L414.72,332.56 L414.91,332.27 L415.10,332.00 L415.29,331.73 L415.47,331.47 L415.66,331.22 L415.85,330.97 L416.04,330.73 L416.23,330.50 L416.41,330.27 L416.60,330.05 L416.79,329.83 L416.98,329.62 L417.17,329.41 L417.35,329.21 L417.54,329.01 L417.73,328.81 L417.92,328.62 L418.11,328.44 L418.29,328.25 L418.48,328.08 L418.67,327.90 L418.86,327.73 L419.05,327.56 L419.23,327.40 L419.42,327.24 L419.61,327.08 L419.80,326.92 L419.99,326.77 L420.18,326.62 L420.36,326.48 L420.55,326.33 L420.74,326.19 L420.93,326.05 L421.12,325.92 L421.30,325.78 L421.49,325.65 L421.68,325.52 L421.87,325.40 L422.06,325.27 L422.24,325.15 L422.43,325.03 L422.62,324.91 L422.81,324.80 L423.00,324.68 L423.18,324.57 L423.37,324.46 L423.56,324.35 L423.75,324.24 L423.94,324.14 L424.12,324.03 L424.31,323.93 L424.50,323.83 L424.69,323.73 L424.88,323.63 L425.06,323.54 L425.25,323.44 L425.44,323.35 L425.63,323.26 L425.82,323.16 L426.00,323.07 L426.19,322.99 L426.38,322.90 L426.57,322.81 L426.76,322.73 L426.94,322.65 L427.13,322.56 L427.32,322.48 L427.51,322.40 L427.70,322.32 L427.88,322.24 L428.07,322.17 L428.26,322.09 L428.45,322.02 L428.64,321.94 L428.82,321.87 L429.01,321.80 L429.20,321.73 L429.39,321.66 L429.58,321.59 L429.76,321.52 L429.95,321.45 L430.14,321.38 L430.33,321.32 L430.52,321.25 L430.70,321.19 L430.89,321.12 L431.08,321.06 L431.27,321.00 L431.46,320.94 L431.64,320.87 L431.83,320.81 L432.02,320.75 L432.21,320.70 L432.40,320.64 L432.58,320.58 L432.77,320.52 L432.96,320.47 L433.15,320.41 L433.34,320.36 L433.52,320.30 L433.71,320.25 L433.90,320.20 L434.09,320.14 L434.28,320.09 L434.47,320.04 L434.65,319.99 L434.84,319.94 L435.03,319.89 L435.22,319.84 L435.41,319.79 L435.59,319.74 L435.78,319.69 L435.97,319.65 L436.16,319.60 L436.35,319.55 L436.53,319.51 L436.72,319.46 L436.91,319.42 L437.10,319.37 L437.29,319.33 L437.47,319.28 L437.66,319.24 L437.85,319.20 L438.04,319.16 L438.23,319.11 L438.41,319.07 L438.60,319.03 L438.79,318.99 L438.98,318.95 L439.17,318.91 L439.35,318.87 L439.54,318.83 L439.73,318.79 L439.92,318.75 L440.11,318.71 L440.29,318.68 L440.48,318.64 L440.67,318.60 L440.86,318.56 L441.05,318.53 L441.23,318.49 L441.42,318.45 L441.61,318.42 L441.80,318.38 L441.99,318.35 L442.17,318.31 L442.36,318.28 L442.55,318.25 L442.74,318.21 L442.93,318.18 L443.11,318.14 L443.30,318.11 L443.49,318.08 L443.68,318.05 L443.87,318.01 L444.05,317.98 L444.24,317.95 L444.43,317.92 L444.62,317.89 L444.81,317.86 L444.99,317.83 L445.18,317.80 L445.37,317.77 L445.56,317.74 L445.75,317.71 L445.93,317.68 L446.12,317.65 L446.31,317.62 L446.50,317.59 L446.69,317.56 L446.87,317.53 L447.71,317.41 L448.55,317.29 L449.38,317.18 L450.22,317.07 L451.05,316.96 L451.89,316.85 L452.72,316.75 L453.56,316.66 L454.40,316.56 L455.23,316.47 L456.07,316.38 L456.90,316.29 L457.74,316.21 L458.57,316.12 L459.41,316.04 L460.25,315.97 L461.08,315.89 L461.92,315.82 L462.75,315.75 L463.59,315.68 L464.42,315.61 L465.26,315.54 L466.10,315.48 L466.93,315.41 L467.77,315.35 L468.60,315.29 L469.44,315.23 L470.27,315.17 L471.11,315.12 L471.95,315.06 L472.78,315.01 L473.62,314.96 L474.45,314.91 L475.29,314.86 L476.12,314.81 L476.96,314.76 L477.79,314.71 L478.63,314.67 L479.47,314.62 L480.30,314.58 L481.14,314.53 L481.97,314.49 L482.81,314.45 L483.64,314.41 L484.48,314.37 L485.32,314.33 L486.15,314.29 L486.99,314.25 L487.82,314.22 L488.66,314.18 L489.49,314.14 L490.33,314.11 L491.17,314.07 L492.00,314.04 L492.84,314.01 L493.67,313.97 L494.51,313.94 L495.34,313.91 L496.18,313.88 L497.02,313.85 L497.85,313.82 L498.69,313.79 L499.52,313.76 L500.36,313.73 L501.19,313.70 L502.03,313.68 L502.86,313.65 L503.70,313.62 L504.54,313.60 L505.37,313.57 L506.21,313.55 L507.04,313.52 L507.88,313.50 L508.71,313.47 L509.55,313.45 L510.39,313.42 L511.22,313.40 L512.06,313.38 L512.89,313.35 L513.73,313.33 L514.56,313.31 L515.40,313.29 L516.24,313.27 L517.07,313.25 L517.91,313.23 L518.74,313.21 L519.58,313.19 L520.41,313.17 L521.25,313.15 L522.09,313.13 L522.92,313.11 L523.76,313.09 L524.59,313.07 L525.43,313.05 L526.26,313.03 L527.10,313.02 L527.94,313.00 L528.77,312.98 L529.61,312.96 L530.44,312.95 L531.28,312.93 L532.11,312.91 L532.95,312.90 L533.78,312.88 L534.62,312.86 L535.46,312.85 L536.29,312.83 L537.13,312.82 L537.96,312.80 L538.80,312.79 L539.63,312.77 L540.47,312.76 L541.31,312.74 L542.14,312.73 L542.98,312.72 L543.81,312.70 L544.65,312.69 L545.48,312.67 L546.32,312.66 L547.16,312.65 L547.99,312.63 L548.83,312.62 L549.66,312.61 L550.50,312.59 L551.33,312.58 L552.17,312.57 L553.01,312.56 L553.84,312.54 L554.68,312.53 L555.51,312.52 L556.35,312.51 L557.18,312.50 L558.02,312.49 L558.86,312.47 L559.69,312.46 L560.53,312.45 L561.36,312.44 L562.20,312.43 L563.03,312.42 L563.87,312.41 L564.70,312.40 L565.54,312.39 L566.38,312.38 L567.21,312.37 L568.05,312.35 L568.88,312.34 L569.72,312.33 L570.55,312.32 L571.39,312.31 L572.23,312.30 L573.06,312.30 L573.90,312.29 L574.73,312.28 L575.57,312.27 L576.40,312.26 L577.24,312.25 L578.08,312.24 L578.91,312.23 L579.75,312.22 L580.58,312.21 L581.42,312.20 L582.25,312.19 L583.09,312.19 L583.93,312.18 L584.76,312.17 L585.60,312.16 L586.43,312.15 L587.27,312.14 L588.10,312.14 L588.94,312.13 L589.78,312.12 L590.61,312.11 L591.45,312.10 L592.28,312.10 L593.12,312.09 L593.95,312.08 L594.79,312.07 L595.62,312.06 L596.46,312.06 L597.30,312.05 L598.13,312.04 L598.97,312.03 L599.80,312.03 L600.64,312.02 L601.47,312.01 L602.31,312.01 L603.15,312.00 L603.98,311.99 L604.82,311.98 L605.65,311.98 L606.49,311.97 L607.32,311.96 L608.16,311.96 L609.00,311.95 L609.83,311.94 L610.67,311.94 L611.50,311.93 L612.34,311.92 L613.17,311.92" fill="none" stroke="#3848AB" stroke-width="1.5" stroke-linejoin="round"/>
<path d="M405.30,411.80 L405.41,404.89 L405.51,398.88 L405.62,393.59 L405.73,388.90 L405.83,384.72 L405.94,380.96 L406.05,377.57 L406.15,374.49 L406.26,371.69 L406.37,369.12 L406.47,366.76 L406.58,364.58 L406.69,362.57 L406.79,360.70 L406.90,358.96 L407.01,357.34 L407.11,355.82 L407.22,354.40 L407.33,353.07 L407.43,351.81 L407.54,350.63 L407.65,349.51 L407.75,348.45 L407.86,347.45 L407.97,346.50 L408.07,345.60 L408.18,344.74 L408.28,343.92 L408.39,343.14 L408.50,342.39 L408.60,341.68 L408.71,340.99 L408.82,340.34 L408.92,339.71 L409.03,339.11 L409.14,338.54 L409.24,337.98 L409.35,337.45 L409.46,336.93 L409.65,336.07 L409.83,335.26 L410.02,334.50 L410.21,333.78 L410.40,333.10 L410.59,332.46 L410.77,331.85 L410.96,331.28 L411.15,330.73 L411.34,330.21 L411.53,329.71 L411.71,329.24 L411.90,328.78 L412.09,328.35 L412.28,327.94 L412.47,327.54 L412.65,327.16 L412.84,326.79 L413.03,326.44 L413.22,326.10 L413.41,325.78 L413.59,325.46 L413.78,325.16 L413.97,324.87 L414.16,324.58 L414.35,324.31 L414.53,324.05 L414.72,323.79 L414.91,323.55 L415.10,323.31 L415.29,323.08 L415.47,322.85 L415.66,322.63 L415.85,322.42 L416.04,322.22 L416.23,322.02 L416.41,321.82 L416.60,321.63 L416.79,321.45 L416.98,321.27 L417.17,321.10 L417.35,320.93 L417.54,320.76 L417.73,320.60 L417.92,320.44 L418.11,320.29 L418.29,320.14 L418.48,319.99 L418.67,319.85 L418.86,319.71 L419.05,319.57 L419.23,319.44 L419.42,319.30 L419.61,319.18 L419.80,319.05 L419.99,318.93 L420.18,318.81 L420.36,318.69 L420.55,318.58 L420.74,318.46 L420.93,318.35 L421.12,318.24 L421.30,318.14 L421.49,318.03 L421.68,317.93 L421.87,317.83 L422.06,317.73 L422.24,317.63 L422.43,317.54 L422.62,317.45 L422.81,317.35 L423.00,317.26 L423.18,317.18 L423.37,317.09 L423.56,317.00 L423.75,316.92 L423.94,316.84 L424.12,316.75 L424.31,316.67 L424.50,316.60 L424.69,316.52 L424.88,316.44 L425.06,316.37 L425.25,316.29 L425.44,316.22 L425.63,316.15 L425.82,316.08 L426.00,316.01 L426.19,315.94 L426.38,315.87 L426.57,315.81 L426.76,315.74 L426.94,315.67 L427.13,315.61 L427.32,315.55 L427.51,315.49 L427.70,315.43 L427.88,315.36 L428.07,315.31 L428.26,315.25 L428.45,315.19 L428.64,315.13 L428.82,315.08 L429.01,315.02 L429.20,314.96 L429.39,314.91 L429.58,314.86 L429.76,314.80 L429.95,314.75 L430.14,314.70 L430.33,314.65 L430.52,314.60 L430.70,314.55 L430.89,314.50 L431.08,314.45 L431.27,314.40 L431.46,314.36 L431.64,314.31 L431.83,314.26 L432.02,314.22 L432.21,314.17 L432.40,314.13 L432.58,314.08 L432.77,314.04 L432.96,314.00 L433.15,313.95 L433.34,313.91 L433.52,313.87 L433.71,313.83 L433.90,313.79 L434.09,313.75 L434.28,313.71 L434.47,313.67 L434.65,313.63 L434.84,313.59 L435.03,313.55 L435.22,313.51 L435.41,313.47 L435.59,313.44 L435.78,313.40 L435.97,313.36 L436.16,313.33 L436.35,313.29 L436.53,313.26 L436.72,313.22 L436.91,313.19 L437.10,313.15 L437.29,313.12 L437.47,313.08 L437.66,313.05 L437.85,313.02 L438.04,312.99 L438.23,312.95 L438.41,312.92 L438.60,312.89 L438.79,312.86 L438.98,312.83 L439.17,312.80 L439.35,312.76 L439.54,312.73 L439.73,312.70 L439.92,312.67 L440.11,312.64 L440.29,312.61 L440.48,312.59 L440.67,312.56 L440.86,312.53 L441.05,312.50 L441.23,312.47 L441.42,312.44 L441.61,312.42 L441.80,312.39 L441.99,312.36 L442.17,312.33 L442.36,312.31 L442.55,312.28 L442.74,312.25 L442.93,312.23 L443.11,312.20 L443.30,312.18 L443.49,312.15 L443.68,312.13 L443.87,312.10 L444.05,312.08 L444.24,312.05 L444.43,312.03 L444.62,312.00 L444.81,311.98 L444.99,311.95 L445.18,311.93 L445.37,311.91 L445.56,311.88 L445.75,311.86 L445.93,311.84 L446.12,311.82 L446.31,311.79 L446.50,311.77 L446.69,311.75 L446.87,311.73 L447.71,311.63 L448.55,311.54 L449.38,311.45 L450.22,311.36 L451.05,311.27 L451.89,311.19 L452.72,311.11 L453.56,311.03 L454.40,310.96 L455.23,310.88 L456.07,310.81 L456.90,310.74 L457.74,310.67 L458.57,310.61 L459.41,310.54 L460.25,310.48 L461.08,310.42 L461.92,310.36 L462.75,310.30 L463.59,310.24 L464.42,310.19 L465.26,310.13 L466.10,310.08 L466.93,310.03 L467.77,309.98 L468.60,309.93 L469.44,309.88 L470.27,309.83 L471.11,309.79 L471.95,309.74 L472.78,309.70 L473.62,309.65 L474.45,309.61 L475.29,309.57 L476.12,309.53 L476.96,309.49 L477.79,309.45 L478.63,309.41 L479.47,309.37 L480.30,309.34 L481.14,309.30 L481.97,309.26 L482.81,309.23 L483.64,309.19 L484.48,309.16 L485.32,309.13 L486.15,309.09 L486.99,309.06 L487.82,309.03 L488.66,309.00 L489.49,308.97 L490.33,308.94 L491.17,308.91 L492.00,308.88 L492.84,308.85 L493.67,308.82 L494.51,308.80 L495.34,308.77 L496.18,308.74 L497.02,308.72 L497.85,308.69 L498.69,308.66 L499.52,308.64 L500.36,308.61 L501.19,308.59 L502.03,308.57 L502.86,308.54 L503.70,308.52 L504.54,308.50 L505.37,308.47 L506.21,308.45 L507.04,308.43 L507.88,308.41 L508.71,308.39 L509.55,308.37 L510.39,308.34 L511.22,308.32 L512.06,308.30 L512.89,308.28 L513.73,308.26 L514.56,308.24 L515.40,308.23 L516.24,308.21 L517.07,308.19 L517.91,308.17 L518.74,308.15 L519.58,308.13 L520.41,308.12 L521.25,308.10 L522.09,308.08 L522.92,308.06 L523.76,308.05 L524.59,308.03 L525.43,308.01 L526.26,308.00 L527.10,307.98 L527.94,307.97 L528.77,307.95 L529.61,307.93 L530.44,307.92 L531.28,307.90 L532.11,307.89 L532.95,307.87 L533.78,307.86 L534.62,307.85 L535.46,307.83 L536.29,307.82 L537.13,307.80 L537.96,307.79 L538.80,307.78 L539.63,307.76 L540.47,307.75 L541.31,307.74 L542.14,307.72 L542.98,307.71 L543.81,307.70 L544.65,307.68 L545.48,307.67 L546.32,307.66 L547.16,307.65 L547.99,307.64 L548.83,307.62 L549.66,307.61 L550.50,307.60 L551.33,307.59 L552.17,307.58 L553.01,307.56 L553.84,307.55 L554.68,307.54 L555.51,307.53 L556.35,307.52 L557.18,307.51 L558.02,307.50 L558.86,307.49 L559.69,307.48 L560.53,307.47 L561.36,307.46 L562.20,307.45 L563.03,307.44 L563.87,307.43 L564.70,307.42 L565.54,307.41 L566.38,307.40 L567.21,307.39 L568.05,307.38 L568.88,307.37 L569.72,307.36 L570.55,307.35 L571.39,307.34 L572.23,307.33 L573.06,307.32 L573.90,307.31 L574.73,307.30 L575.57,307.30 L576.40,307.29 L577.24,307.28 L578.08,307.27 L578.91,307.26 L579.75,307.25 L580.58,307.24 L581.42,307.24 L582.25,307.23 L583.09,307.22 L583.93,307.21 L584.76,307.20 L585.60,307.20 L586.43,307.19 L587.27,307.18 L588.10,307.17 L588.94,307.16 L589.78,307.16 L590.61,307.15 L591.45,307.14 L592.28,307.13 L593.12,307.13 L593.95,307.12 L594.79,307.11 L595.62,307.10 L596.46,307.10 L597.30,307.09 L598.13,307.08 L598.97,307.08 L599.80,307.07 L600.64,307.06 L601.47,307.06 L602.31,307.05 L603.15,307.04 L603.98,307.04 L604.82,307.03 L605.65,307.02 L606.49,307.02 L607.32,307.01 L608.16,307.00 L609.00,307.00 L609.83,306.99 L610.67,306.98 L611.50,306.98 L612.34,306.97 L613.17,306.97" fill="none" stroke="#E53B2E" stroke-width="1.5" stroke-linejoin="round"/>
<path d="M405.30,411.80 L405.41,390.20 L405.51,385.83 L405.62,382.20 L405.73,378.97 L405.83,376.03 L405.94,373.32 L406.05,370.82 L406.15,368.49 L406.26,366.33 L406.37,364.31 L406.47,362.41 L406.58,360.64 L406.69,358.97 L406.79,357.39 L406.90,355.90 L407.01,354.50 L407.11,353.17 L407.22,351.90 L407.33,350.71 L407.43,349.57 L407.54,348.48 L407.65,347.44 L407.75,346.46 L407.86,345.51 L407.97,344.61 L408.07,343.75 L408.18,342.92 L408.28,342.12 L408.39,341.36 L408.50,340.63 L408.60,339.93 L408.71,339.25 L408.82,338.60 L408.92,337.97 L409.03,337.36 L409.14,336.78 L409.24,336.21 L409.35,335.67 L409.46,335.14 L409.65,334.25 L409.83,333.41 L410.02,332.62 L410.21,331.87 L410.40,331.15 L410.59,330.48 L410.77,329.83 L410.96,329.22 L411.15,328.63 L411.34,328.08 L411.53,327.54 L411.71,327.03 L411.90,326.54 L412.09,326.08 L412.28,325.63 L412.47,325.20 L412.65,324.78 L412.84,324.38 L413.03,324.00 L413.22,323.63 L413.41,323.27 L413.59,322.93 L413.78,322.60 L413.97,322.28 L414.16,321.97 L414.35,321.67 L414.53,321.39 L414.72,321.11 L414.91,320.84 L415.10,320.57 L415.29,320.32 L415.47,320.07 L415.66,319.84 L415.85,319.60 L416.04,319.38 L416.23,319.16 L416.41,318.95 L416.60,318.74 L416.79,318.54 L416.98,318.35 L417.17,318.15 L417.35,317.97 L417.54,317.79 L417.73,317.61 L417.92,317.44 L418.11,317.27 L418.29,317.11 L418.48,316.95 L418.67,316.80 L418.86,316.65 L419.05,316.50 L419.23,316.35 L419.42,316.21 L419.61,316.08 L419.80,315.94 L419.99,315.81 L420.18,315.68 L420.36,315.55 L420.55,315.43 L420.74,315.31 L420.93,315.19 L421.12,315.08 L421.30,314.96 L421.49,314.85 L421.68,314.74 L421.87,314.64 L422.06,314.53 L422.24,314.43 L422.43,314.33 L422.62,314.23 L422.81,314.13 L423.00,314.04 L423.18,313.94 L423.37,313.85 L423.56,313.76 L423.75,313.68 L423.94,313.59 L424.12,313.50 L424.31,313.42 L424.50,313.34 L424.69,313.26 L424.88,313.18 L425.06,313.10 L425.25,313.02 L425.44,312.95 L425.63,312.88 L425.82,312.80 L426.00,312.73 L426.19,312.66 L426.38,312.59 L426.57,312.52 L426.76,312.46 L426.94,312.39 L427.13,312.33 L427.32,312.26 L427.51,312.20 L427.70,312.14 L427.88,312.08 L428.07,312.02 L428.26,311.96 L428.45,311.90 L428.64,311.84 L428.82,311.78 L429.01,311.73 L429.20,311.67 L429.39,311.62 L429.58,311.57 L429.76,311.51 L429.95,311.46 L430.14,311.41 L430.33,311.36 L430.52,311.31 L430.70,311.26 L430.89,311.21 L431.08,311.16 L431.27,311.12 L431.46,311.07 L431.64,311.02 L431.83,310.98 L432.02,310.93 L432.21,310.89 L432.40,310.85 L432.58,310.80 L432.77,310.76 L432.96,310.72 L433.15,310.68 L433.34,310.64 L433.52,310.60 L433.71,310.56 L433.90,310.52 L434.09,310.48 L434.28,310.44 L434.47,310.40 L434.65,310.36 L434.84,310.33 L435.03,310.29 L435.22,310.25 L435.41,310.22 L435.59,310.18 L435.78,310.15 L435.97,310.11 L436.16,310.08 L436.35,310.04 L436.53,310.01 L436.72,309.98 L436.91,309.94 L437.10,309.91 L437.29,309.88 L437.47,309.85 L437.66,309.82 L437.85,309.78 L438.04,309.75 L438.23,309.72 L438.41,309.69 L438.60,309.66 L438.79,309.63 L438.98,309.61 L439.17,309.58 L439.35,309.55 L439.54,309.52 L439.73,309.49 L439.92,309.46 L440.11,309.44 L440.29,309.41 L440.48,309.38 L440.67,309.36 L440.86,309.33 L441.05,309.30 L441.23,309.28 L441.42,309.25 L441.61,309.23 L441.80,309.20 L441.99,309.18 L442.17,309.15 L442.36,309.13 L442.55,309.11 L442.74,309.08 L442.93,309.06 L443.11,309.03 L443.30,309.01 L443.49,308.99 L443.68,308.97 L443.87,308.94 L444.05,308.92 L444.24,308.90 L444.43,308.88 L444.62,308.86 L444.81,308.83 L444.99,308.81 L445.18,308.79 L445.37,308.77 L445.56,308.75 L445.75,308.73 L445.93,308.71 L446.12,308.69 L446.31,308.67 L446.50,308.65 L446.69,308.63 L446.87,308.61 L447.71,308.52 L448.55,308.44 L449.38,308.36 L450.22,308.29 L451.05,308.22 L451.89,308.14 L452.72,308.08 L453.56,308.01 L454.40,307.95 L455.23,307.88 L456.07,307.82 L456.90,307.77 L457.74,307.71 L458.57,307.65 L459.41,307.60 L460.25,307.55 L461.08,307.50 L461.92,307.45 L462.75,307.40 L463.59,307.36 L464.42,307.31 L465.26,307.27 L466.10,307.23 L466.93,307.19 L467.77,307.15 L468.60,307.11 L469.44,307.07 L470.27,307.03 L471.11,307.00 L471.95,306.96 L472.78,306.93 L473.62,306.89 L474.45,306.86 L475.29,306.83 L476.12,306.80 L476.96,306.77 L477.79,306.74 L478.63,306.71 L479.47,306.68 L480.30,306.65 L481.14,306.62 L481.97,306.59 L482.81,306.57 L483.64,306.54 L484.48,306.52 L485.32,306.49 L486.15,306.47 L486.99,306.44 L487.82,306.42 L488.66,306.40 L489.49,306.38 L490.33,306.35 L491.17,306.33 L492.00,306.31 L492.84,306.29 L493.67,306.27 L494.51,306.25 L495.34,306.23 L496.18,306.21 L497.02,306.19 L497.85,306.17 L498.69,306.15 L499.52,306.14 L500.36,306.12 L501.19,306.10 L502.03,306.08 L502.86,306.07 L503.70,306.05 L504.54,306.04 L505.37,306.02 L506.21,306.00 L507.04,305.99 L507.88,305.97 L508.71,305.96 L509.55,305.94 L510.39,305.93 L511.22,305.91 L512.06,305.90 L512.89,305.89 L513.73,305.87 L514.56,305.86 L515.40,305.85 L516.24,305.83 L517.07,305.82 L517.91,305.81 L518.74,305.80 L519.58,305.78 L520.41,305.77 L521.25,305.76 L522.09,305.75 L522.92,305.74 L523.76,305.72 L524.59,305.71 L525.43,305.70 L526.26,305.69 L527.10,305.68 L527.94,305.67 L528.77,305.66 L529.61,305.65 L530.44,305.64 L531.28,305.63 L532.11,305.62 L532.95,305.61 L533.78,305.60 L534.62,305.59 L535.46,305.58 L536.29,305.57 L537.13,305.56 L537.96,305.55 L538.80,305.54 L539.63,305.53 L540.47,305.52 L541.31,305.52 L542.14,305.51 L542.98,305.50 L543.81,305.49 L544.65,305.48 L545.48,305.47 L546.32,305.46 L547.16,305.46 L547.99,305.45 L548.83,305.44 L549.66,305.43 L550.50,305.43 L551.33,305.42 L552.17,305.41 L553.01,305.40 L553.84,305.40 L554.68,305.39 L555.51,305.38 L556.35,305.37 L557.18,305.37 L558.02,305.36 L558.86,305.35 L559.69,305.35 L560.53,305.34 L561.36,305.33 L562.20,305.33 L563.03,305.32 L563.87,305.31 L564.70,305.31 L565.54,305.30 L566.38,305.29 L567.21,305.29 L568.05,305.28 L568.88,305.28 L569.72,305.27 L570.55,305.26 L571.39,305.26 L572.23,305.25 L573.06,305.25 L573.90,305.24 L574.73,305.24 L575.57,305.23 L576.40,305.22 L577.24,305.22 L578.08,305.21 L578.91,305.21 L579.75,305.20 L580.58,305.20 L581.42,305.19 L582.25,305.19 L583.09,305.18 L583.93,305.18 L584.76,305.17 L585.60,305.17 L586.43,305.16 L587.27,305.16 L588.10,305.15 L588.94,305.15 L589.78,305.14 L590.61,305.14 L591.45,305.13 L592.28,305.13 L593.12,305.12 L593.95,305.12 L594.79,305.11 L595.62,305.11 L596.46,305.11 L597.30,305.10 L598.13,305.10 L598.97,305.09 L599.80,305.09 L600.64,305.08 L601.47,305.08 L602.31,305.08 L603.15,305.07 L603.98,305.07 L604.82,305.06 L605.65,305.06 L606.49,305.06 L607.32,305.05 L608.16,305.05 L609.00,305.04 L609.83,305.04 L610.67,305.04 L611.50,305.03 L612.34,305.03 L613.17,305.02" fill="none" stroke="#000000" stroke-width="1.5" stroke-linejoin="round"/>
<circle cx="405.30" cy="411.80" r="2.90" fill="#9B55B5"/>
<circle cx="410.67" cy="398.36" r="2.90" fill="#9B55B5"/>
<circle cx="426.95" cy="371.58" r="2.90" fill="#9B55B5"/>
<path d="M439.95,359.91 L439.95,366.39 M437.15,359.91 L442.75,359.91 M437.15,366.39 L442.75,366.39" stroke="#9B55B5" stroke-width="1.75" fill="none"/>
<circle cx="439.95" cy="363.15" r="2.90" fill="#9B55B5"/>
<path d="M474.59,344.06 L474.59,354.25 M471.79,344.06 L477.39,344.06 M471.79,354.25 L477.39,354.25" stroke="#9B55B5" stroke-width="1.75" fill="none"/>
<circle cx="474.59" cy="349.16" r="2.90" fill="#9B55B5"/>
<circle cx="543.88" cy="341.84" r="2.90" fill="#9B55B5"/>
<circle cx="613.17" cy="339.33" r="2.90" fill="#9B55B5"/>
<rect x="402.30" y="408.80" width="6.00" height="6.00" fill="#5FC24A"/>
<rect x="403.17" y="380.07" width="6.00" height="6.00" fill="#5FC24A"/>
<rect x="408.19" y="363.02" width="6.00" height="6.00" fill="#5FC24A"/>
<rect x="423.95" y="333.46" width="6.00" height="6.00" fill="#5FC24A"/>
<path d="M439.95,323.40 L439.95,329.88 M437.15,323.40 L442.75,323.40 M437.15,329.88 L442.75,329.88" stroke="#5FC24A" stroke-width="1.75" fill="none"/>
<rect x="436.95" y="323.64" width="6.00" height="6.00" fill="#5FC24A"/>
<path d="M459.43,325.71 L459.43,333.13 M456.63,325.71 L462.23,325.71 M456.63,333.13 L462.23,333.13" stroke="#5FC24A" stroke-width="1.75" fill="none"/>
<rect x="456.43" y="326.42" width="6.00" height="6.00" fill="#5FC24A"/>
<rect x="471.59" y="324.10" width="6.00" height="6.00" fill="#5FC24A"/>
<rect x="540.88" y="323.18" width="6.00" height="6.00" fill="#5FC24A"/>
<path d="M613.17,322.28 L613.17,330.07 M610.37,322.28 L615.97,322.28 M610.37,330.07 L615.97,330.07" stroke="#5FC24A" stroke-width="1.75" fill="none"/>
<rect x="610.17" y="323.18" width="6.00" height="6.00" fill="#5FC24A"/>
<path d="M405.30,408.20 L408.72,414.50 L401.88,414.50Z" fill="#3848AB"/>
<path d="M406.17,361.87 L409.59,368.17 L402.75,368.17Z" fill="#3848AB"/>
<path d="M410.67,340.00 L414.09,346.30 L407.25,346.30Z" fill="#3848AB"/>
<path d="M426.95,318.04 L430.37,324.34 L423.53,324.34Z" fill="#3848AB"/>
<path d="M439.95,314.70 L443.37,321.00 L436.53,321.00Z" fill="#3848AB"/>
<path d="M459.43,314.33 L462.85,320.63 L456.01,320.63Z" fill="#3848AB"/>
<path d="M474.59,309.42 L478.01,315.72 L471.17,315.72Z" fill="#3848AB"/>
<path d="M543.88,310.33 L543.88,318.67 M541.08,310.33 L546.68,310.33 M541.08,318.67 L546.68,318.67" stroke="#3848AB" stroke-width="1.75" fill="none"/>
<path d="M543.88,310.90 L547.30,317.20 L540.46,317.20Z" fill="#3848AB"/>
<path d="M613.17,307.66 L616.59,313.96 L609.75,313.96Z" fill="#3848AB"/>
<path d="M405.30,415.40 L408.72,409.10 L401.88,409.10Z" fill="#E53B2E"/>
<path d="M409.63,352.76 L413.05,346.46 L406.21,346.46Z" fill="#E53B2E"/>
<path d="M426.95,320.42 L430.37,314.12 L423.53,314.12Z" fill="#E53B2E"/>
<path d="M459.43,316.06 L462.85,309.76 L456.01,309.76Z" fill="#E53B2E"/>
<path d="M474.59,314.02 L478.01,307.72 L471.17,307.72Z" fill="#E53B2E"/>
<path d="M543.88,303.66 L543.88,307.36 M541.08,303.66 L546.68,303.66 M541.08,307.36 L546.68,307.36" stroke="#E53B2E" stroke-width="1.75" fill="none"/>
<path d="M543.88,309.11 L547.30,302.81 L540.46,302.81Z" fill="#E53B2E"/>
<path d="M613.17,310.69 L616.59,304.39 L609.75,304.39Z" fill="#E53B2E"/>
<path d="M405.30,409.48 L407.62,411.80 L405.30,414.12 L402.98,411.80Z" fill="#000000"/>
<path d="M409.63,329.42 L409.63,334.98 M406.83,329.42 L412.43,329.42 M406.83,334.98 L412.43,334.98" stroke="#000000" stroke-width="1.75" fill="none"/>
<path d="M409.63,329.87 L411.96,332.20 L409.63,334.52 L407.31,332.20Z" fill="#000000"/>
<path d="M426.95,309.67 L429.28,312.00 L426.95,314.32 L424.63,312.00Z" fill="#000000"/>
<path d="M459.43,305.13 L461.76,307.46 L459.43,309.78 L457.11,307.46Z" fill="#000000"/>
<path d="M543.88,303.19 L546.21,305.51 L543.88,307.84 L541.56,305.51Z" fill="#000000"/>
<path d="M613.17,301.98 L615.50,304.31 L613.17,306.63 L610.85,304.31Z" fill="#000000"/>
<text transform="translate(376.40,342.00) rotate(-90)" text-anchor="middle" font-weight="bold" font-size="11.3" stroke="#000" stroke-width="0.3">Vi (&#956;M min<tspan dy="-4.3" font-size="7.68">-1</tspan><tspan dy="4.3">)</tspan></text>
<text x="509.60" y="441.60" text-anchor="middle" font-weight="bold" font-size="11.7" stroke="#000" stroke-width="0.3">[L-Ser] (mM)</text>
<line x1="627.70" y1="283.00" x2="642.40" y2="283.00" stroke="#9B55B5" stroke-width="1.7"/>
<circle cx="635.05" cy="283.00" r="2.90" fill="#9B55B5"/>
<text transform="translate(650.60,285.90) scale(0.95,1)" font-size="11.7" fill="#1a1a1a" stroke="#1a1a1a" stroke-width="0.3">pH 6.5</text>
<line x1="627.70" y1="299.00" x2="642.40" y2="299.00" stroke="#5FC24A" stroke-width="1.7"/>
<rect x="632.05" y="296.00" width="6.00" height="6.00" fill="#5FC24A"/>
<text transform="translate(650.60,301.90) scale(0.95,1)" font-size="11.7" fill="#1a1a1a" stroke="#1a1a1a" stroke-width="0.3">pH 7.0</text>
<line x1="627.70" y1="314.90" x2="642.40" y2="314.90" stroke="#3848AB" stroke-width="1.7"/>
<path d="M635.05,311.30 L638.47,317.60 L631.63,317.60Z" fill="#3848AB"/>
<text transform="translate(650.60,317.80) scale(0.95,1)" font-size="11.7" fill="#1a1a1a" stroke="#1a1a1a" stroke-width="0.3">pH 8.0</text>
<line x1="627.70" y1="330.70" x2="642.40" y2="330.70" stroke="#E53B2E" stroke-width="1.7"/>
<path d="M635.05,334.30 L638.47,328.00 L631.63,328.00Z" fill="#E53B2E"/>
<text transform="translate(650.60,333.60) scale(0.95,1)" font-size="11.7" fill="#1a1a1a" stroke="#1a1a1a" stroke-width="0.3">pH 8.5</text>
<line x1="627.70" y1="346.40" x2="642.40" y2="346.40" stroke="#000000" stroke-width="1.7"/>
<path d="M635.05,343.30 L638.15,346.40 L635.05,349.50 L631.95,346.40Z" fill="#000000"/>
<text transform="translate(650.60,349.30) scale(0.95,1)" font-size="11.7" fill="#1a1a1a" stroke="#1a1a1a" stroke-width="0.3">pH 9.5</text>
</svg>
</body></html>
